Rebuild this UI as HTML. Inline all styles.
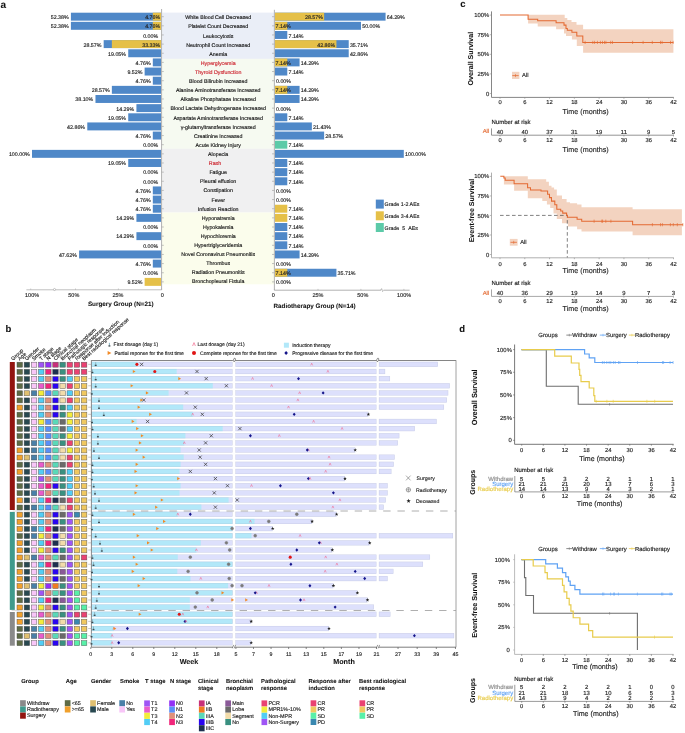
<!DOCTYPE html>
<html><head><meta charset="utf-8"><style>
html,body{margin:0;padding:0;background:#fff;}
svg{display:block;font-family:"Liberation Sans", sans-serif;will-change:transform;text-rendering:geometricPrecision;}
</style></head><body>
<svg width="685" height="733" viewBox="0 0 685 733">
<rect width="685" height="733" fill="#fff"/>
<rect x="162.2" y="12.6" width="112.2" height="46.3" fill="#eaeef7" />
<rect x="162.2" y="58.9" width="112.2" height="89.9" fill="#f6faf1" />
<rect x="162.2" y="148.8" width="112.2" height="63.7" fill="#f0f0f1" />
<rect x="162.2" y="212.5" width="112.2" height="71.8" fill="#fbfdec" />
<line x1="161.6" y1="9" x2="161.6" y2="289.9" stroke="#9a9a9a" stroke-width="0.8" />
<line x1="274.4" y1="9.8" x2="274.4" y2="290.2" stroke="#a0a0a0" stroke-width="0.8" />
<line x1="161.6" y1="16.68" x2="163.8" y2="16.68" stroke="#a8a8a8" stroke-width="0.7" />
<line x1="272" y1="16.68" x2="274.4" y2="16.68" stroke="#a8a8a8" stroke-width="0.7" />
<line x1="161.6" y1="25.82" x2="163.8" y2="25.82" stroke="#a8a8a8" stroke-width="0.7" />
<line x1="272" y1="25.82" x2="274.4" y2="25.82" stroke="#a8a8a8" stroke-width="0.7" />
<line x1="161.6" y1="34.96" x2="163.8" y2="34.96" stroke="#a8a8a8" stroke-width="0.7" />
<line x1="272" y1="34.96" x2="274.4" y2="34.96" stroke="#a8a8a8" stroke-width="0.7" />
<line x1="161.6" y1="44.11" x2="163.8" y2="44.11" stroke="#a8a8a8" stroke-width="0.7" />
<line x1="272" y1="44.11" x2="274.4" y2="44.11" stroke="#a8a8a8" stroke-width="0.7" />
<line x1="161.6" y1="53.26" x2="163.8" y2="53.26" stroke="#a8a8a8" stroke-width="0.7" />
<line x1="272" y1="53.26" x2="274.4" y2="53.26" stroke="#a8a8a8" stroke-width="0.7" />
<line x1="161.6" y1="62.4" x2="163.8" y2="62.4" stroke="#a8a8a8" stroke-width="0.7" />
<line x1="272" y1="62.4" x2="274.4" y2="62.4" stroke="#a8a8a8" stroke-width="0.7" />
<line x1="161.6" y1="71.54" x2="163.8" y2="71.54" stroke="#a8a8a8" stroke-width="0.7" />
<line x1="272" y1="71.54" x2="274.4" y2="71.54" stroke="#a8a8a8" stroke-width="0.7" />
<line x1="161.6" y1="80.69" x2="163.8" y2="80.69" stroke="#a8a8a8" stroke-width="0.7" />
<line x1="272" y1="80.69" x2="274.4" y2="80.69" stroke="#a8a8a8" stroke-width="0.7" />
<line x1="161.6" y1="89.83" x2="163.8" y2="89.83" stroke="#a8a8a8" stroke-width="0.7" />
<line x1="272" y1="89.83" x2="274.4" y2="89.83" stroke="#a8a8a8" stroke-width="0.7" />
<line x1="161.6" y1="98.98" x2="163.8" y2="98.98" stroke="#a8a8a8" stroke-width="0.7" />
<line x1="272" y1="98.98" x2="274.4" y2="98.98" stroke="#a8a8a8" stroke-width="0.7" />
<line x1="161.6" y1="108.12" x2="163.8" y2="108.12" stroke="#a8a8a8" stroke-width="0.7" />
<line x1="272" y1="108.12" x2="274.4" y2="108.12" stroke="#a8a8a8" stroke-width="0.7" />
<line x1="161.6" y1="117.27" x2="163.8" y2="117.27" stroke="#a8a8a8" stroke-width="0.7" />
<line x1="272" y1="117.27" x2="274.4" y2="117.27" stroke="#a8a8a8" stroke-width="0.7" />
<line x1="161.6" y1="126.41" x2="163.8" y2="126.41" stroke="#a8a8a8" stroke-width="0.7" />
<line x1="272" y1="126.41" x2="274.4" y2="126.41" stroke="#a8a8a8" stroke-width="0.7" />
<line x1="161.6" y1="135.56" x2="163.8" y2="135.56" stroke="#a8a8a8" stroke-width="0.7" />
<line x1="272" y1="135.56" x2="274.4" y2="135.56" stroke="#a8a8a8" stroke-width="0.7" />
<line x1="161.6" y1="144.7" x2="163.8" y2="144.7" stroke="#a8a8a8" stroke-width="0.7" />
<line x1="272" y1="144.7" x2="274.4" y2="144.7" stroke="#a8a8a8" stroke-width="0.7" />
<line x1="161.6" y1="153.85" x2="163.8" y2="153.85" stroke="#a8a8a8" stroke-width="0.7" />
<line x1="272" y1="153.85" x2="274.4" y2="153.85" stroke="#a8a8a8" stroke-width="0.7" />
<line x1="161.6" y1="162.99" x2="163.8" y2="162.99" stroke="#a8a8a8" stroke-width="0.7" />
<line x1="272" y1="162.99" x2="274.4" y2="162.99" stroke="#a8a8a8" stroke-width="0.7" />
<line x1="161.6" y1="172.14" x2="163.8" y2="172.14" stroke="#a8a8a8" stroke-width="0.7" />
<line x1="272" y1="172.14" x2="274.4" y2="172.14" stroke="#a8a8a8" stroke-width="0.7" />
<line x1="161.6" y1="181.28" x2="163.8" y2="181.28" stroke="#a8a8a8" stroke-width="0.7" />
<line x1="272" y1="181.28" x2="274.4" y2="181.28" stroke="#a8a8a8" stroke-width="0.7" />
<line x1="161.6" y1="190.43" x2="163.8" y2="190.43" stroke="#a8a8a8" stroke-width="0.7" />
<line x1="272" y1="190.43" x2="274.4" y2="190.43" stroke="#a8a8a8" stroke-width="0.7" />
<line x1="161.6" y1="199.57" x2="163.8" y2="199.57" stroke="#a8a8a8" stroke-width="0.7" />
<line x1="272" y1="199.57" x2="274.4" y2="199.57" stroke="#a8a8a8" stroke-width="0.7" />
<line x1="161.6" y1="208.72" x2="163.8" y2="208.72" stroke="#a8a8a8" stroke-width="0.7" />
<line x1="272" y1="208.72" x2="274.4" y2="208.72" stroke="#a8a8a8" stroke-width="0.7" />
<line x1="161.6" y1="217.86" x2="163.8" y2="217.86" stroke="#a8a8a8" stroke-width="0.7" />
<line x1="272" y1="217.86" x2="274.4" y2="217.86" stroke="#a8a8a8" stroke-width="0.7" />
<line x1="161.6" y1="227.01" x2="163.8" y2="227.01" stroke="#a8a8a8" stroke-width="0.7" />
<line x1="272" y1="227.01" x2="274.4" y2="227.01" stroke="#a8a8a8" stroke-width="0.7" />
<line x1="161.6" y1="236.15" x2="163.8" y2="236.15" stroke="#a8a8a8" stroke-width="0.7" />
<line x1="272" y1="236.15" x2="274.4" y2="236.15" stroke="#a8a8a8" stroke-width="0.7" />
<line x1="161.6" y1="245.3" x2="163.8" y2="245.3" stroke="#a8a8a8" stroke-width="0.7" />
<line x1="272" y1="245.3" x2="274.4" y2="245.3" stroke="#a8a8a8" stroke-width="0.7" />
<line x1="161.6" y1="254.44" x2="163.8" y2="254.44" stroke="#a8a8a8" stroke-width="0.7" />
<line x1="272" y1="254.44" x2="274.4" y2="254.44" stroke="#a8a8a8" stroke-width="0.7" />
<line x1="161.6" y1="263.59" x2="163.8" y2="263.59" stroke="#a8a8a8" stroke-width="0.7" />
<line x1="272" y1="263.59" x2="274.4" y2="263.59" stroke="#a8a8a8" stroke-width="0.7" />
<line x1="161.6" y1="272.74" x2="163.8" y2="272.74" stroke="#a8a8a8" stroke-width="0.7" />
<line x1="272" y1="272.74" x2="274.4" y2="272.74" stroke="#a8a8a8" stroke-width="0.7" />
<line x1="161.6" y1="281.88" x2="163.8" y2="281.88" stroke="#a8a8a8" stroke-width="0.7" />
<line x1="272" y1="281.88" x2="274.4" y2="281.88" stroke="#a8a8a8" stroke-width="0.7" />
<rect x="70.91" y="12.7" width="90.09" height="7.95" fill="#4f88c8" />
<rect x="152.81" y="12.7" width="8.19" height="7.95" fill="#e5c048" />
<text x="68.71" y="19.25" font-size="5.3" text-anchor="end" fill="#222" stroke="#222" stroke-width="0.14" >52.38%</text>
<text x="160.2" y="19.25" font-size="5.3" text-anchor="end" fill="#222" stroke="#222" stroke-width="0.14" >4.76%</text>
<rect x="275" y="12.7" width="110.58" height="7.95" fill="#4f88c8" />
<rect x="275" y="12.7" width="49.14" height="7.95" fill="#e5c048" />
<text x="386.78" y="19.25" font-size="5.3" text-anchor="start" fill="#222" stroke="#222" stroke-width="0.14" >64.29%</text>
<text x="322.94" y="19.25" font-size="5.3" text-anchor="end" fill="#222" stroke="#222" stroke-width="0.14" >28.57%</text>
<text x="218.2" y="19.3" font-size="5.27" text-anchor="middle" fill="#111" stroke="#111" stroke-width="0.14" >White Blood Cell Decreased</text>
<rect x="70.91" y="21.84" width="90.09" height="7.95" fill="#4f88c8" />
<rect x="152.81" y="21.84" width="8.19" height="7.95" fill="#e5c048" />
<text x="68.71" y="28.38" font-size="5.3" text-anchor="end" fill="#222" stroke="#222" stroke-width="0.14" >52.38%</text>
<text x="160.2" y="28.38" font-size="5.3" text-anchor="end" fill="#222" stroke="#222" stroke-width="0.14" >4.76%</text>
<rect x="275" y="21.84" width="86" height="7.95" fill="#4f88c8" />
<rect x="275" y="21.84" width="12.28" height="7.95" fill="#e5c048" />
<text x="362.2" y="28.38" font-size="5.3" text-anchor="start" fill="#222" stroke="#222" stroke-width="0.14" >50.00%</text>
<text x="290.63" y="28.38" font-size="5.3" text-anchor="end" fill="#222" stroke="#222" stroke-width="0.14" >7.14%</text>
<text x="218.2" y="28.41" font-size="5.27" text-anchor="middle" fill="#111" stroke="#111" stroke-width="0.14" >Platelet Count Decreased</text>
<text x="158.2" y="37.51" font-size="5.3" text-anchor="end" fill="#222" stroke="#222" stroke-width="0.14" >0.00%</text>
<rect x="275" y="30.99" width="12.28" height="7.95" fill="#4f88c8" />
<text x="288.48" y="37.51" font-size="5.3" text-anchor="start" fill="#222" stroke="#222" stroke-width="0.14" >7.14%</text>
<text x="218.2" y="37.52" font-size="5.27" text-anchor="middle" fill="#111" stroke="#111" stroke-width="0.14" >Leukocytosis</text>
<rect x="103.67" y="40.13" width="57.33" height="7.95" fill="#4f88c8" />
<rect x="111.86" y="40.13" width="49.14" height="7.95" fill="#e5c048" />
<text x="101.47" y="46.64" font-size="5.3" text-anchor="end" fill="#222" stroke="#222" stroke-width="0.14" >28.57%</text>
<text x="160.2" y="46.64" font-size="5.3" text-anchor="end" fill="#222" stroke="#222" stroke-width="0.14" >33.33%</text>
<rect x="275" y="40.13" width="73.72" height="7.95" fill="#4f88c8" />
<rect x="275" y="40.13" width="61.42" height="7.95" fill="#e5c048" />
<text x="349.92" y="46.64" font-size="5.3" text-anchor="start" fill="#222" stroke="#222" stroke-width="0.14" >35.71%</text>
<text x="335.22" y="46.64" font-size="5.3" text-anchor="end" fill="#222" stroke="#222" stroke-width="0.14" >42.86%</text>
<text x="218.2" y="46.63" font-size="5.27" text-anchor="middle" fill="#111" stroke="#111" stroke-width="0.14" >Neutrophil Count Increased</text>
<rect x="128.23" y="49.28" width="32.77" height="7.95" fill="#4f88c8" />
<text x="126.03" y="55.77" font-size="5.3" text-anchor="end" fill="#222" stroke="#222" stroke-width="0.14" >19.05%</text>
<rect x="275" y="49.28" width="73.72" height="7.95" fill="#4f88c8" />
<text x="349.92" y="55.77" font-size="5.3" text-anchor="start" fill="#222" stroke="#222" stroke-width="0.14" >42.86%</text>
<text x="218.2" y="55.74" font-size="5.27" text-anchor="middle" fill="#111" stroke="#111" stroke-width="0.14" >Anemia</text>
<rect x="152.81" y="58.42" width="8.19" height="7.95" fill="#4f88c8" />
<text x="150.61" y="64.9" font-size="5.3" text-anchor="end" fill="#222" stroke="#222" stroke-width="0.14" >4.76%</text>
<rect x="275" y="58.42" width="24.58" height="7.95" fill="#4f88c8" />
<rect x="275" y="58.42" width="12.28" height="7.95" fill="#e5c048" />
<text x="300.78" y="64.9" font-size="5.3" text-anchor="start" fill="#222" stroke="#222" stroke-width="0.14" >14.29%</text>
<text x="290.63" y="64.9" font-size="5.3" text-anchor="end" fill="#222" stroke="#222" stroke-width="0.14" >7.14%</text>
<text x="218.2" y="64.85" font-size="5.27" text-anchor="middle" fill="#cc1f2a" stroke="#cc1f2a" stroke-width="0.14" >Hyperglycemia</text>
<rect x="144.63" y="67.57" width="16.37" height="7.95" fill="#4f88c8" />
<text x="142.43" y="74.03" font-size="5.3" text-anchor="end" fill="#222" stroke="#222" stroke-width="0.14" >9.52%</text>
<rect x="275" y="67.57" width="12.28" height="7.95" fill="#4f88c8" />
<text x="288.48" y="74.03" font-size="5.3" text-anchor="start" fill="#222" stroke="#222" stroke-width="0.14" >7.14%</text>
<text x="218.2" y="73.96" font-size="5.27" text-anchor="middle" fill="#cc1f2a" stroke="#cc1f2a" stroke-width="0.14" >Thyroid Dysfunction</text>
<rect x="152.81" y="76.72" width="8.19" height="7.95" fill="#4f88c8" />
<text x="150.61" y="83.16" font-size="5.3" text-anchor="end" fill="#222" stroke="#222" stroke-width="0.14" >4.76%</text>
<text x="276" y="83.16" font-size="5.3" text-anchor="start" fill="#222" stroke="#222" stroke-width="0.14" >0.00%</text>
<text x="218.2" y="83.07" font-size="5.27" text-anchor="middle" fill="#111" stroke="#111" stroke-width="0.14" >Blood Bilirubin Increased</text>
<rect x="111.86" y="85.86" width="49.14" height="7.95" fill="#4f88c8" />
<text x="109.66" y="92.29" font-size="5.3" text-anchor="end" fill="#222" stroke="#222" stroke-width="0.14" >28.57%</text>
<rect x="275" y="85.86" width="24.58" height="7.95" fill="#4f88c8" />
<rect x="275" y="85.86" width="12.28" height="7.95" fill="#e5c048" />
<text x="300.78" y="92.29" font-size="5.3" text-anchor="start" fill="#222" stroke="#222" stroke-width="0.14" >14.29%</text>
<text x="290.63" y="92.29" font-size="5.3" text-anchor="end" fill="#222" stroke="#222" stroke-width="0.14" >7.14%</text>
<text x="218.2" y="92.18" font-size="5.27" text-anchor="middle" fill="#111" stroke="#111" stroke-width="0.14" >Alanine Aminotransferase Increased</text>
<rect x="95.47" y="95" width="65.53" height="7.95" fill="#4f88c8" />
<text x="93.27" y="101.42" font-size="5.3" text-anchor="end" fill="#222" stroke="#222" stroke-width="0.14" >38.10%</text>
<rect x="275" y="95" width="24.58" height="7.95" fill="#4f88c8" />
<text x="300.78" y="101.42" font-size="5.3" text-anchor="start" fill="#222" stroke="#222" stroke-width="0.14" >14.29%</text>
<text x="218.2" y="101.29" font-size="5.27" text-anchor="middle" fill="#111" stroke="#111" stroke-width="0.14" >Alkaline Phosphatase Increased</text>
<rect x="136.42" y="104.15" width="24.58" height="7.95" fill="#4f88c8" />
<text x="134.22" y="110.55" font-size="5.3" text-anchor="end" fill="#222" stroke="#222" stroke-width="0.14" >14.29%</text>
<text x="276" y="110.55" font-size="5.3" text-anchor="start" fill="#222" stroke="#222" stroke-width="0.14" >0.00%</text>
<text x="218.2" y="110.4" font-size="5.27" text-anchor="middle" fill="#111" stroke="#111" stroke-width="0.14" >Blood Lactate Dehydrogenase Increased</text>
<rect x="128.23" y="113.3" width="32.77" height="7.95" fill="#4f88c8" />
<text x="126.03" y="119.68" font-size="5.3" text-anchor="end" fill="#222" stroke="#222" stroke-width="0.14" >19.05%</text>
<rect x="275" y="113.3" width="12.28" height="7.95" fill="#4f88c8" />
<text x="288.48" y="119.68" font-size="5.3" text-anchor="start" fill="#222" stroke="#222" stroke-width="0.14" >7.14%</text>
<text x="218.2" y="119.51" font-size="5.27" text-anchor="middle" fill="#111" stroke="#111" stroke-width="0.14" >Aspartate Aminotransferase Increased</text>
<rect x="87.28" y="122.44" width="73.72" height="7.95" fill="#4f88c8" />
<text x="85.08" y="128.81" font-size="5.3" text-anchor="end" fill="#222" stroke="#222" stroke-width="0.14" >42.86%</text>
<rect x="275" y="122.44" width="36.86" height="7.95" fill="#4f88c8" />
<text x="313.06" y="128.81" font-size="5.3" text-anchor="start" fill="#222" stroke="#222" stroke-width="0.14" >21.43%</text>
<text x="218.2" y="128.62" font-size="5.27" text-anchor="middle" fill="#111" stroke="#111" stroke-width="0.14" >γ-glutamyltransferase Increased</text>
<rect x="152.81" y="131.58" width="8.19" height="7.95" fill="#4f88c8" />
<text x="150.61" y="137.94" font-size="5.3" text-anchor="end" fill="#222" stroke="#222" stroke-width="0.14" >4.76%</text>
<rect x="275" y="131.58" width="49.14" height="7.95" fill="#4f88c8" />
<text x="325.34" y="137.94" font-size="5.3" text-anchor="start" fill="#222" stroke="#222" stroke-width="0.14" >28.57%</text>
<text x="218.2" y="137.73" font-size="5.27" text-anchor="middle" fill="#111" stroke="#111" stroke-width="0.14" >Creatinine Increased</text>
<text x="158.2" y="147.07" font-size="5.3" text-anchor="end" fill="#222" stroke="#222" stroke-width="0.14" >0.00%</text>
<rect x="275" y="140.73" width="12.28" height="7.95" fill="#5ccaa8" />
<text x="288.48" y="147.07" font-size="5.3" text-anchor="start" fill="#222" stroke="#222" stroke-width="0.14" >7.14%</text>
<text x="218.2" y="146.84" font-size="5.27" text-anchor="middle" fill="#111" stroke="#111" stroke-width="0.14" >Acute Kidney Injury</text>
<rect x="32" y="149.87" width="129" height="7.95" fill="#4f88c8" />
<text x="29.8" y="156.2" font-size="5.3" text-anchor="end" fill="#222" stroke="#222" stroke-width="0.14" >100.00%</text>
<rect x="275" y="149.87" width="128.8" height="7.95" fill="#4f88c8" />
<text x="405" y="156.2" font-size="5.3" text-anchor="start" fill="#222" stroke="#222" stroke-width="0.14" >100.00%</text>
<text x="218.2" y="155.95" font-size="5.27" text-anchor="middle" fill="#111" stroke="#111" stroke-width="0.14" >Alopecia</text>
<rect x="128.23" y="159.02" width="32.77" height="7.95" fill="#4f88c8" />
<text x="126.03" y="165.33" font-size="5.3" text-anchor="end" fill="#222" stroke="#222" stroke-width="0.14" >19.05%</text>
<rect x="275" y="159.02" width="12.28" height="7.95" fill="#4f88c8" />
<text x="288.48" y="165.33" font-size="5.3" text-anchor="start" fill="#222" stroke="#222" stroke-width="0.14" >7.14%</text>
<text x="215" y="165.06" font-size="5.27" text-anchor="middle" fill="#cc1f2a" stroke="#cc1f2a" stroke-width="0.14" >Rash</text>
<text x="158.2" y="174.46" font-size="5.3" text-anchor="end" fill="#222" stroke="#222" stroke-width="0.14" >0.00%</text>
<rect x="275" y="168.16" width="12.28" height="7.95" fill="#4f88c8" />
<text x="288.48" y="174.46" font-size="5.3" text-anchor="start" fill="#222" stroke="#222" stroke-width="0.14" >7.14%</text>
<text x="218.2" y="174.17" font-size="5.27" text-anchor="middle" fill="#111" stroke="#111" stroke-width="0.14" >Fatigue</text>
<text x="158.2" y="183.59" font-size="5.3" text-anchor="end" fill="#222" stroke="#222" stroke-width="0.14" >0.00%</text>
<rect x="275" y="177.31" width="12.28" height="7.95" fill="#4f88c8" />
<text x="288.48" y="183.59" font-size="5.3" text-anchor="start" fill="#222" stroke="#222" stroke-width="0.14" >7.14%</text>
<text x="218.2" y="183.28" font-size="5.27" text-anchor="middle" fill="#111" stroke="#111" stroke-width="0.14" >Pleural effusion</text>
<rect x="152.81" y="186.45" width="8.19" height="7.95" fill="#4f88c8" />
<text x="150.61" y="192.72" font-size="5.3" text-anchor="end" fill="#222" stroke="#222" stroke-width="0.14" >4.76%</text>
<text x="276" y="192.72" font-size="5.3" text-anchor="start" fill="#222" stroke="#222" stroke-width="0.14" >0.00%</text>
<text x="218.2" y="192.39" font-size="5.27" text-anchor="middle" fill="#111" stroke="#111" stroke-width="0.14" >Constipation</text>
<rect x="152.81" y="195.6" width="8.19" height="7.95" fill="#4f88c8" />
<text x="150.61" y="201.85" font-size="5.3" text-anchor="end" fill="#222" stroke="#222" stroke-width="0.14" >4.76%</text>
<text x="276" y="201.85" font-size="5.3" text-anchor="start" fill="#222" stroke="#222" stroke-width="0.14" >0.00%</text>
<text x="218.2" y="201.5" font-size="5.27" text-anchor="middle" fill="#111" stroke="#111" stroke-width="0.14" >Fever</text>
<rect x="152.81" y="204.74" width="8.19" height="7.95" fill="#4f88c8" />
<text x="150.61" y="210.98" font-size="5.3" text-anchor="end" fill="#222" stroke="#222" stroke-width="0.14" >4.76%</text>
<rect x="275" y="204.74" width="12.28" height="7.95" fill="#e5c048" />
<text x="288.48" y="210.98" font-size="5.3" text-anchor="start" fill="#222" stroke="#222" stroke-width="0.14" >7.14%</text>
<text x="218.2" y="210.61" font-size="5.27" text-anchor="middle" fill="#111" stroke="#111" stroke-width="0.14" >Infusion Reaction</text>
<rect x="136.42" y="213.89" width="24.58" height="7.95" fill="#4f88c8" />
<text x="134.22" y="220.11" font-size="5.3" text-anchor="end" fill="#222" stroke="#222" stroke-width="0.14" >14.29%</text>
<rect x="275" y="213.89" width="12.28" height="7.95" fill="#e5c048" />
<text x="288.48" y="220.11" font-size="5.3" text-anchor="start" fill="#222" stroke="#222" stroke-width="0.14" >7.14%</text>
<text x="218.2" y="219.72" font-size="5.27" text-anchor="middle" fill="#111" stroke="#111" stroke-width="0.14" >Hyponatremia</text>
<text x="158.2" y="229.24" font-size="5.3" text-anchor="end" fill="#222" stroke="#222" stroke-width="0.14" >0.00%</text>
<rect x="275" y="223.03" width="12.28" height="7.95" fill="#4f88c8" />
<text x="288.48" y="229.24" font-size="5.3" text-anchor="start" fill="#222" stroke="#222" stroke-width="0.14" >7.14%</text>
<text x="218.2" y="228.83" font-size="5.27" text-anchor="middle" fill="#111" stroke="#111" stroke-width="0.14" >Hypokalemia</text>
<rect x="136.42" y="232.18" width="24.58" height="7.95" fill="#4f88c8" />
<text x="134.22" y="238.37" font-size="5.3" text-anchor="end" fill="#222" stroke="#222" stroke-width="0.14" >14.29%</text>
<rect x="275" y="232.18" width="12.28" height="7.95" fill="#4f88c8" />
<text x="288.48" y="238.37" font-size="5.3" text-anchor="start" fill="#222" stroke="#222" stroke-width="0.14" >7.14%</text>
<text x="218.2" y="237.94" font-size="5.27" text-anchor="middle" fill="#111" stroke="#111" stroke-width="0.14" >Hypochloremia</text>
<text x="158.2" y="247.5" font-size="5.3" text-anchor="end" fill="#222" stroke="#222" stroke-width="0.14" >0.00%</text>
<rect x="275" y="241.32" width="12.28" height="7.95" fill="#4f88c8" />
<text x="288.48" y="247.5" font-size="5.3" text-anchor="start" fill="#222" stroke="#222" stroke-width="0.14" >7.14%</text>
<text x="218.2" y="247.05" font-size="5.27" text-anchor="middle" fill="#111" stroke="#111" stroke-width="0.14" >Hypertriglyceridemia</text>
<rect x="79.09" y="250.47" width="81.91" height="7.95" fill="#4f88c8" />
<text x="76.89" y="256.63" font-size="5.3" text-anchor="end" fill="#222" stroke="#222" stroke-width="0.14" >47.62%</text>
<rect x="275" y="250.47" width="24.58" height="7.95" fill="#4f88c8" />
<text x="300.78" y="256.63" font-size="5.3" text-anchor="start" fill="#222" stroke="#222" stroke-width="0.14" >14.29%</text>
<text x="218.2" y="256.16" font-size="5.27" text-anchor="middle" fill="#111" stroke="#111" stroke-width="0.14" >Novel Coronavirus Pneumonitis</text>
<rect x="152.81" y="259.62" width="8.19" height="7.95" fill="#4f88c8" />
<text x="150.61" y="265.76" font-size="5.3" text-anchor="end" fill="#222" stroke="#222" stroke-width="0.14" >4.76%</text>
<text x="276" y="265.76" font-size="5.3" text-anchor="start" fill="#222" stroke="#222" stroke-width="0.14" >0.00%</text>
<text x="218.2" y="265.27" font-size="5.27" text-anchor="middle" fill="#111" stroke="#111" stroke-width="0.14" >Thrombus</text>
<text x="158.2" y="274.89" font-size="5.3" text-anchor="end" fill="#222" stroke="#222" stroke-width="0.14" >0.00%</text>
<rect x="275" y="268.76" width="61.42" height="7.95" fill="#4f88c8" />
<rect x="275" y="268.76" width="12.28" height="7.95" fill="#e5c048" />
<text x="337.62" y="274.89" font-size="5.3" text-anchor="start" fill="#222" stroke="#222" stroke-width="0.14" >35.71%</text>
<text x="290.63" y="274.89" font-size="5.3" text-anchor="end" fill="#222" stroke="#222" stroke-width="0.14" >7.14%</text>
<text x="218.2" y="274.38" font-size="5.27" text-anchor="middle" fill="#111" stroke="#111" stroke-width="0.14" >Radiation Pneumonitis</text>
<rect x="144.63" y="277.9" width="16.37" height="7.95" fill="#e5c048" />
<text x="142.43" y="284.02" font-size="5.3" text-anchor="end" fill="#222" stroke="#222" stroke-width="0.14" >9.52%</text>
<text x="276" y="284.02" font-size="5.3" text-anchor="start" fill="#222" stroke="#222" stroke-width="0.14" >0.00%</text>
<text x="218.2" y="283.49" font-size="5.27" text-anchor="middle" fill="#111" stroke="#111" stroke-width="0.14" >Bronchopleural Fistula</text>
<line x1="26.4" y1="289.8" x2="161.6" y2="289.8" stroke="#b8b8b8" stroke-width="0.9" />
<line x1="274.4" y1="290.2" x2="409.6" y2="290.2" stroke="#a8a8a8" stroke-width="0.9" />
<line x1="30.7" y1="288.5" x2="30.7" y2="289.8" stroke="#aaa" stroke-width="0.6" />
<text x="32.1" y="296.8" font-size="5.5" text-anchor="middle" fill="#1e1e1e" stroke="#1e1e1e" stroke-width="0.14" >100%</text>
<line x1="75.5" y1="288.5" x2="75.5" y2="289.8" stroke="#aaa" stroke-width="0.6" />
<text x="73.8" y="296.8" font-size="5.5" text-anchor="middle" fill="#1e1e1e" stroke="#1e1e1e" stroke-width="0.14" >50%</text>
<line x1="118.4" y1="288.5" x2="118.4" y2="289.8" stroke="#aaa" stroke-width="0.6" />
<text x="118" y="296.8" font-size="5.5" text-anchor="middle" fill="#1e1e1e" stroke="#1e1e1e" stroke-width="0.14" >25%</text>
<line x1="161.6" y1="288.5" x2="161.6" y2="289.8" stroke="#aaa" stroke-width="0.6" />
<text x="162.2" y="296.8" font-size="5.5" text-anchor="middle" fill="#1e1e1e" stroke="#1e1e1e" stroke-width="0.14" >0</text>
<line x1="274.4" y1="288.9" x2="274.4" y2="290.2" stroke="#aaa" stroke-width="0.6" />
<text x="273.4" y="297" font-size="5.5" text-anchor="middle" fill="#1e1e1e" stroke="#1e1e1e" stroke-width="0.14" >0</text>
<line x1="318" y1="288.9" x2="318" y2="290.2" stroke="#aaa" stroke-width="0.6" />
<text x="318" y="297" font-size="5.5" text-anchor="middle" fill="#1e1e1e" stroke="#1e1e1e" stroke-width="0.14" >25%</text>
<line x1="360.9" y1="288.9" x2="360.9" y2="290.2" stroke="#aaa" stroke-width="0.6" />
<text x="362.8" y="297" font-size="5.5" text-anchor="middle" fill="#1e1e1e" stroke="#1e1e1e" stroke-width="0.14" >50%</text>
<line x1="403.9" y1="288.9" x2="403.9" y2="290.2" stroke="#aaa" stroke-width="0.6" />
<text x="404.1" y="297" font-size="5.5" text-anchor="middle" fill="#1e1e1e" stroke="#1e1e1e" stroke-width="0.14" >100%</text>
<circle cx="54.5" cy="289.5" r="1.05" fill="#fff" stroke="#999" stroke-width="0.55"/>
<rect x="380.9" y="289.4" width="3" height="1.6" fill="#fff" />
<path d="M380.6 290.2 L381.6 288.6 L382.6 291.6 L383.6 290.2" stroke="#999" stroke-width="0.6" fill="none"/>
<text x="120.7" y="306" font-size="6.3" text-anchor="middle" fill="#111" font-weight="bold" stroke="#111" stroke-width="0.06" >Surgery Group (N=21)</text>
<text x="273.5" y="307.8" font-size="6.3" text-anchor="start" fill="#111" font-weight="bold" stroke="#111" stroke-width="0.06" >Radiotherapy Group (N=14)</text>
<rect x="375.8" y="199.6" width="8" height="9" fill="#4f88c8" />
<text x="384.6" y="206.1" font-size="5.3" text-anchor="start" fill="#222" stroke="#222" stroke-width="0.14" >Grade 1-2 AEs</text>
<rect x="375.8" y="211.3" width="8" height="9" fill="#e5c048" />
<text x="384.6" y="217.8" font-size="5.3" text-anchor="start" fill="#222" stroke="#222" stroke-width="0.14" >Grade 3-4 AEs</text>
<rect x="375.8" y="223" width="8" height="9" fill="#5ccaa8" />
<text x="384.6" y="229.5" font-size="5.3" text-anchor="start" fill="#222" stroke="#222" stroke-width="0.14" >Grade&#160; 5 &#160;AEs</text>
<text x="0.6" y="7.9" font-size="10" text-anchor="start" fill="#111" font-weight="bold" stroke="#111" stroke-width="0.06" >a</text>
<text x="460.2" y="6.9" font-size="9.5" text-anchor="start" fill="#111" font-weight="bold" stroke="#111" stroke-width="0.06" >c</text>
<path d="M528.1 14.8 H564.7 V17.9 H567.3 V20.1 H571.5 V22 H576.5 V24.8 H583.1 V29.3 H673.4 V52.7 H583.1 V46.1 H576.8 V39.5 H571.9 V36 H566 V33.6 H564 V29.3 H556.1 V26.4 H537.7 V23.5 H528.1 Z" fill="#f3d3c0"/>
<line x1="491.5" y1="11.4" x2="491.5" y2="97.4" stroke="#707070" stroke-width="0.85" />
<line x1="491.5" y1="97.4" x2="673.8" y2="97.4" stroke="#707070" stroke-width="0.85" />
<line x1="489.8" y1="93.5" x2="491.3" y2="93.5" stroke="#8a8a8a" stroke-width="0.6" />
<text x="489.3" y="95.59" font-size="5.9" text-anchor="end" fill="#1e1e1e" stroke="#1e1e1e" stroke-width="0.14" >0</text>
<line x1="489.8" y1="73.9" x2="491.3" y2="73.9" stroke="#8a8a8a" stroke-width="0.6" />
<text x="489.3" y="75.99" font-size="5.9" text-anchor="end" fill="#1e1e1e" stroke="#1e1e1e" stroke-width="0.14" >25%</text>
<line x1="489.8" y1="54.3" x2="491.3" y2="54.3" stroke="#8a8a8a" stroke-width="0.6" />
<text x="489.3" y="56.39" font-size="5.9" text-anchor="end" fill="#1e1e1e" stroke="#1e1e1e" stroke-width="0.14" >50%</text>
<line x1="489.8" y1="34.7" x2="491.3" y2="34.7" stroke="#8a8a8a" stroke-width="0.6" />
<text x="489.3" y="36.79" font-size="5.9" text-anchor="end" fill="#1e1e1e" stroke="#1e1e1e" stroke-width="0.14" >75%</text>
<line x1="489.8" y1="15.1" x2="491.3" y2="15.1" stroke="#8a8a8a" stroke-width="0.6" />
<text x="489.3" y="17.19" font-size="5.9" text-anchor="end" fill="#1e1e1e" stroke="#1e1e1e" stroke-width="0.14" >100%</text>
<line x1="500" y1="97.4" x2="500" y2="98.8" stroke="#8a8a8a" stroke-width="0.6" />
<line x1="524.79" y1="97.4" x2="524.79" y2="98.8" stroke="#8a8a8a" stroke-width="0.6" />
<line x1="549.57" y1="97.4" x2="549.57" y2="98.8" stroke="#8a8a8a" stroke-width="0.6" />
<line x1="574.36" y1="97.4" x2="574.36" y2="98.8" stroke="#8a8a8a" stroke-width="0.6" />
<line x1="599.14" y1="97.4" x2="599.14" y2="98.8" stroke="#8a8a8a" stroke-width="0.6" />
<line x1="623.93" y1="97.4" x2="623.93" y2="98.8" stroke="#8a8a8a" stroke-width="0.6" />
<line x1="648.72" y1="97.4" x2="648.72" y2="98.8" stroke="#8a8a8a" stroke-width="0.6" />
<line x1="673.5" y1="97.4" x2="673.5" y2="98.8" stroke="#8a8a8a" stroke-width="0.6" />
<path d="M500 14.9 H528.1 V19.2 H537.7 V20.7 H556.1 V22.7 H564 V25.1 H566 V28.4 H567.3 V30.3 H571.9 V32.3 H576.8 V35.9 H582.8 V42.4 H673.4 V42.4" fill="none" stroke="#e46a32" stroke-width="1.05"/>
<line x1="585.1" y1="40.8" x2="585.1" y2="44" stroke="#e46a32" stroke-width="0.65" />
<line x1="592.8" y1="40.8" x2="592.8" y2="44" stroke="#e46a32" stroke-width="0.65" />
<line x1="594.6" y1="40.8" x2="594.6" y2="44" stroke="#e46a32" stroke-width="0.65" />
<line x1="597.4" y1="40.8" x2="597.4" y2="44" stroke="#e46a32" stroke-width="0.65" />
<line x1="600.4" y1="40.8" x2="600.4" y2="44" stroke="#e46a32" stroke-width="0.65" />
<line x1="602.5" y1="40.8" x2="602.5" y2="44" stroke="#e46a32" stroke-width="0.65" />
<line x1="604.5" y1="40.8" x2="604.5" y2="44" stroke="#e46a32" stroke-width="0.65" />
<line x1="605.9" y1="40.8" x2="605.9" y2="44" stroke="#e46a32" stroke-width="0.65" />
<line x1="610.7" y1="40.8" x2="610.7" y2="44" stroke="#e46a32" stroke-width="0.65" />
<line x1="612.5" y1="40.8" x2="612.5" y2="44" stroke="#e46a32" stroke-width="0.65" />
<line x1="632.6" y1="40.8" x2="632.6" y2="44" stroke="#e46a32" stroke-width="0.65" />
<line x1="643.1" y1="40.8" x2="643.1" y2="44" stroke="#e46a32" stroke-width="0.65" />
<line x1="652.3" y1="40.8" x2="652.3" y2="44" stroke="#e46a32" stroke-width="0.65" />
<line x1="660.5" y1="40.8" x2="660.5" y2="44" stroke="#e46a32" stroke-width="0.65" />
<line x1="662.1" y1="40.8" x2="662.1" y2="44" stroke="#e46a32" stroke-width="0.65" />
<line x1="670.5" y1="40.8" x2="670.5" y2="44" stroke="#e46a32" stroke-width="0.65" />
<line x1="673.1" y1="40.8" x2="673.1" y2="44" stroke="#e46a32" stroke-width="0.65" />
<text x="500" y="104.26" font-size="5.8" text-anchor="middle" fill="#1e1e1e" stroke="#1e1e1e" stroke-width="0.14" >0</text>
<text x="524.79" y="104.26" font-size="5.8" text-anchor="middle" fill="#1e1e1e" stroke="#1e1e1e" stroke-width="0.14" >6</text>
<text x="549.57" y="104.26" font-size="5.8" text-anchor="middle" fill="#1e1e1e" stroke="#1e1e1e" stroke-width="0.14" >12</text>
<text x="574.36" y="104.26" font-size="5.8" text-anchor="middle" fill="#1e1e1e" stroke="#1e1e1e" stroke-width="0.14" >18</text>
<text x="599.14" y="104.26" font-size="5.8" text-anchor="middle" fill="#1e1e1e" stroke="#1e1e1e" stroke-width="0.14" >24</text>
<text x="623.93" y="104.26" font-size="5.8" text-anchor="middle" fill="#1e1e1e" stroke="#1e1e1e" stroke-width="0.14" >30</text>
<text x="648.72" y="104.26" font-size="5.8" text-anchor="middle" fill="#1e1e1e" stroke="#1e1e1e" stroke-width="0.14" >36</text>
<text x="673.5" y="104.26" font-size="5.8" text-anchor="middle" fill="#1e1e1e" stroke="#1e1e1e" stroke-width="0.14" >42</text>
<text x="585.6" y="114.16" font-size="7.2" text-anchor="middle" fill="#222" stroke="#222" stroke-width="0.14" >Time (months)</text>
<text x="470.6" y="61.12" font-size="7.1" text-anchor="middle" fill="#111" font-weight="bold" stroke="#111" stroke-width="0.06" transform="rotate(-90 470.6 58.6)">Overall Survival</text>
<rect x="512" y="71.8" width="7.4" height="7.2" fill="#f3d3c0" />
<line x1="512.3" y1="75.6" x2="518.7" y2="75.6" stroke="#e46a32" stroke-width="0.8" />
<line x1="515.5" y1="74.1" x2="515.5" y2="77.1" stroke="#e46a32" stroke-width="0.6" />
<text x="522" y="76.86" font-size="5.8" text-anchor="start" fill="#222" stroke="#222" stroke-width="0.14" >All</text>
<text x="491.5" y="124.03" font-size="6" text-anchor="start" fill="#111" stroke="#111" stroke-width="0.14" >Number at risk</text>
<text x="489.2" y="133.29" font-size="5.9" text-anchor="end" fill="#e46a32" stroke="#e46a32" stroke-width="0.14" >All</text>
<line x1="491.5" y1="128.4" x2="491.5" y2="135.2" stroke="#707070" stroke-width="0.75" />
<line x1="491.5" y1="135.2" x2="673.8" y2="135.2" stroke="#707070" stroke-width="0.75" />
<text x="500" y="134.19" font-size="5.9" text-anchor="middle" fill="#222" stroke="#222" stroke-width="0.14" >40</text>
<line x1="500" y1="135.2" x2="500" y2="136.5" stroke="#707070" stroke-width="0.6" />
<text x="500" y="142.06" font-size="5.8" text-anchor="middle" fill="#1e1e1e" stroke="#1e1e1e" stroke-width="0.14" >0</text>
<text x="524.79" y="134.19" font-size="5.9" text-anchor="middle" fill="#222" stroke="#222" stroke-width="0.14" >40</text>
<line x1="524.79" y1="135.2" x2="524.79" y2="136.5" stroke="#707070" stroke-width="0.6" />
<text x="524.79" y="142.06" font-size="5.8" text-anchor="middle" fill="#1e1e1e" stroke="#1e1e1e" stroke-width="0.14" >6</text>
<text x="549.57" y="134.19" font-size="5.9" text-anchor="middle" fill="#222" stroke="#222" stroke-width="0.14" >37</text>
<line x1="549.57" y1="135.2" x2="549.57" y2="136.5" stroke="#707070" stroke-width="0.6" />
<text x="549.57" y="142.06" font-size="5.8" text-anchor="middle" fill="#1e1e1e" stroke="#1e1e1e" stroke-width="0.14" >12</text>
<text x="574.36" y="134.19" font-size="5.9" text-anchor="middle" fill="#222" stroke="#222" stroke-width="0.14" >31</text>
<line x1="574.36" y1="135.2" x2="574.36" y2="136.5" stroke="#707070" stroke-width="0.6" />
<text x="574.36" y="142.06" font-size="5.8" text-anchor="middle" fill="#1e1e1e" stroke="#1e1e1e" stroke-width="0.14" >18</text>
<text x="599.14" y="134.19" font-size="5.9" text-anchor="middle" fill="#222" stroke="#222" stroke-width="0.14" >19</text>
<line x1="599.14" y1="135.2" x2="599.14" y2="136.5" stroke="#707070" stroke-width="0.6" />
<text x="623.93" y="134.19" font-size="5.9" text-anchor="middle" fill="#222" stroke="#222" stroke-width="0.14" >11</text>
<line x1="623.93" y1="135.2" x2="623.93" y2="136.5" stroke="#707070" stroke-width="0.6" />
<text x="623.93" y="142.06" font-size="5.8" text-anchor="middle" fill="#1e1e1e" stroke="#1e1e1e" stroke-width="0.14" >30</text>
<text x="648.72" y="134.19" font-size="5.9" text-anchor="middle" fill="#222" stroke="#222" stroke-width="0.14" >9</text>
<line x1="648.72" y1="135.2" x2="648.72" y2="136.5" stroke="#707070" stroke-width="0.6" />
<text x="648.72" y="142.06" font-size="5.8" text-anchor="middle" fill="#1e1e1e" stroke="#1e1e1e" stroke-width="0.14" >36</text>
<text x="673.5" y="134.19" font-size="5.9" text-anchor="middle" fill="#222" stroke="#222" stroke-width="0.14" >5</text>
<line x1="673.5" y1="135.2" x2="673.5" y2="136.5" stroke="#707070" stroke-width="0.6" />
<text x="673.5" y="142.06" font-size="5.8" text-anchor="middle" fill="#1e1e1e" stroke="#1e1e1e" stroke-width="0.14" >42</text>
<text x="585.6" y="152.26" font-size="7.2" text-anchor="middle" fill="#222" stroke="#222" stroke-width="0.14" >Time (months)</text>
<path d="M503.9 176.2 H527.8 V179.2 H546.2 V181.8 H548.9 V185.8 H551.5 V187.6 H554.1 V189.4 H556.8 V195.6 H562 V198.9 H566.6 V202.2 H570 V203.2 H577.1 V204.5 H581.5 V207.3 H632.6 V209.2 H681.9 V235.3 H632.6 V231.6 H581.5 V229.2 H577.1 V226.5 H567.9 V223.2 H562 V218.9 H556.8 V213.4 H553.5 V208.1 H550.2 V204.5 H546.9 V200.9 H542.3 V198.2 H527.8 V190.8 H514.1 V184.5 H503.9 Z" fill="#f3d3c0"/>
<line x1="491.5" y1="172.6" x2="491.5" y2="257.8" stroke="#a0a0a0" stroke-width="0.85" />
<line x1="491.5" y1="257.8" x2="673.8" y2="257.8" stroke="#a0a0a0" stroke-width="0.85" />
<line x1="489.8" y1="254.5" x2="491.3" y2="254.5" stroke="#8a8a8a" stroke-width="0.6" />
<text x="489.3" y="256.59" font-size="5.9" text-anchor="end" fill="#1e1e1e" stroke="#1e1e1e" stroke-width="0.14" >0</text>
<line x1="489.8" y1="234.97" x2="491.3" y2="234.97" stroke="#8a8a8a" stroke-width="0.6" />
<text x="489.3" y="237.07" font-size="5.9" text-anchor="end" fill="#1e1e1e" stroke="#1e1e1e" stroke-width="0.14" >25%</text>
<line x1="489.8" y1="215.45" x2="491.3" y2="215.45" stroke="#8a8a8a" stroke-width="0.6" />
<text x="489.3" y="217.54" font-size="5.9" text-anchor="end" fill="#1e1e1e" stroke="#1e1e1e" stroke-width="0.14" >50%</text>
<line x1="489.8" y1="195.93" x2="491.3" y2="195.93" stroke="#8a8a8a" stroke-width="0.6" />
<text x="489.3" y="198.02" font-size="5.9" text-anchor="end" fill="#1e1e1e" stroke="#1e1e1e" stroke-width="0.14" >75%</text>
<line x1="489.8" y1="176.4" x2="491.3" y2="176.4" stroke="#8a8a8a" stroke-width="0.6" />
<text x="489.3" y="178.49" font-size="5.9" text-anchor="end" fill="#1e1e1e" stroke="#1e1e1e" stroke-width="0.14" >100%</text>
<line x1="500" y1="257.8" x2="500" y2="259.2" stroke="#8a8a8a" stroke-width="0.6" />
<line x1="524.79" y1="257.8" x2="524.79" y2="259.2" stroke="#8a8a8a" stroke-width="0.6" />
<line x1="549.57" y1="257.8" x2="549.57" y2="259.2" stroke="#8a8a8a" stroke-width="0.6" />
<line x1="574.36" y1="257.8" x2="574.36" y2="259.2" stroke="#8a8a8a" stroke-width="0.6" />
<line x1="599.14" y1="257.8" x2="599.14" y2="259.2" stroke="#8a8a8a" stroke-width="0.6" />
<line x1="623.93" y1="257.8" x2="623.93" y2="259.2" stroke="#8a8a8a" stroke-width="0.6" />
<line x1="648.72" y1="257.8" x2="648.72" y2="259.2" stroke="#8a8a8a" stroke-width="0.6" />
<line x1="673.5" y1="257.8" x2="673.5" y2="259.2" stroke="#8a8a8a" stroke-width="0.6" />
<path d="M500.0 215.4 H567.3 V257.5" fill="none" stroke="#555" stroke-width="0.75" stroke-dasharray="3.6 2.4"/>
<path d="M500.3 176.2 H503.9 V177.9 H505.2 V180.2 H514.1 V183.8 H527.6 V187.7 H530.5 V190 H541 V191 H547.6 V194.3 H549.5 V197.6 H551.5 V201.1 H554.8 V204.8 H556.8 V209.2 H560.7 V211 H562.7 V213.1 H566.6 V215.3 H567.5 V217.2 H577.1 V219.3 H581.7 V221.2 H632.6 V224.7 H683 V224.7" fill="none" stroke="#e46a32" stroke-width="1.05"/>
<line x1="594.1" y1="219.6" x2="594.1" y2="222.8" stroke="#e46a32" stroke-width="0.65" />
<line x1="601.8" y1="219.6" x2="601.8" y2="222.8" stroke="#e46a32" stroke-width="0.65" />
<line x1="602.6" y1="219.6" x2="602.6" y2="222.8" stroke="#e46a32" stroke-width="0.65" />
<line x1="605.8" y1="219.6" x2="605.8" y2="222.8" stroke="#e46a32" stroke-width="0.65" />
<line x1="610.9" y1="219.6" x2="610.9" y2="222.8" stroke="#e46a32" stroke-width="0.65" />
<line x1="652.4" y1="223.1" x2="652.4" y2="226.3" stroke="#e46a32" stroke-width="0.65" />
<line x1="660.5" y1="223.1" x2="660.5" y2="226.3" stroke="#e46a32" stroke-width="0.65" />
<line x1="662.4" y1="223.1" x2="662.4" y2="226.3" stroke="#e46a32" stroke-width="0.65" />
<line x1="670.4" y1="223.1" x2="670.4" y2="226.3" stroke="#e46a32" stroke-width="0.65" />
<line x1="673.3" y1="223.1" x2="673.3" y2="226.3" stroke="#e46a32" stroke-width="0.65" />
<line x1="677.3" y1="223.1" x2="677.3" y2="226.3" stroke="#e46a32" stroke-width="0.65" />
<line x1="682.8" y1="223.1" x2="682.8" y2="226.3" stroke="#e46a32" stroke-width="0.65" />
<text x="500" y="265.56" font-size="5.8" text-anchor="middle" fill="#1e1e1e" stroke="#1e1e1e" stroke-width="0.14" >0</text>
<text x="524.79" y="265.56" font-size="5.8" text-anchor="middle" fill="#1e1e1e" stroke="#1e1e1e" stroke-width="0.14" >6</text>
<text x="549.57" y="265.56" font-size="5.8" text-anchor="middle" fill="#1e1e1e" stroke="#1e1e1e" stroke-width="0.14" >12</text>
<text x="574.36" y="265.56" font-size="5.8" text-anchor="middle" fill="#1e1e1e" stroke="#1e1e1e" stroke-width="0.14" >18</text>
<text x="599.14" y="265.56" font-size="5.8" text-anchor="middle" fill="#1e1e1e" stroke="#1e1e1e" stroke-width="0.14" >24</text>
<text x="623.93" y="265.56" font-size="5.8" text-anchor="middle" fill="#1e1e1e" stroke="#1e1e1e" stroke-width="0.14" >30</text>
<text x="648.72" y="265.56" font-size="5.8" text-anchor="middle" fill="#1e1e1e" stroke="#1e1e1e" stroke-width="0.14" >36</text>
<text x="673.5" y="265.56" font-size="5.8" text-anchor="middle" fill="#1e1e1e" stroke="#1e1e1e" stroke-width="0.14" >42</text>
<text x="585.6" y="272.86" font-size="7.2" text-anchor="middle" fill="#222" stroke="#222" stroke-width="0.14" >Time (months)</text>
<text x="471.6" y="213.09" font-size="7" text-anchor="middle" fill="#111" font-weight="bold" stroke="#111" stroke-width="0.06" transform="rotate(-90 471.6 210.6)">Event-free Survival</text>
<rect x="509.8" y="238.9" width="7.8" height="6.8" fill="#f3d3c0" />
<line x1="510.5" y1="242.3" x2="516.9" y2="242.3" stroke="#e46a32" stroke-width="0.8" />
<line x1="513.7" y1="240.8" x2="513.7" y2="243.8" stroke="#e46a32" stroke-width="0.6" />
<text x="520.2" y="243.66" font-size="5.8" text-anchor="start" fill="#222" stroke="#222" stroke-width="0.14" >All</text>
<text x="491.5" y="285.43" font-size="6" text-anchor="start" fill="#111" stroke="#111" stroke-width="0.14" >Number at risk</text>
<text x="489.2" y="294.89" font-size="5.9" text-anchor="end" fill="#e46a32" stroke="#e46a32" stroke-width="0.14" >All</text>
<line x1="491.5" y1="289.4" x2="491.5" y2="296.4" stroke="#8a8a8a" stroke-width="0.75" />
<line x1="491.5" y1="296.4" x2="673.8" y2="296.4" stroke="#8a8a8a" stroke-width="0.75" />
<text x="500" y="295.09" font-size="5.9" text-anchor="middle" fill="#222" stroke="#222" stroke-width="0.14" >40</text>
<line x1="500" y1="296.4" x2="500" y2="297.7" stroke="#8a8a8a" stroke-width="0.6" />
<text x="500" y="303.26" font-size="5.8" text-anchor="middle" fill="#1e1e1e" stroke="#1e1e1e" stroke-width="0.14" >0</text>
<text x="524.79" y="295.09" font-size="5.9" text-anchor="middle" fill="#222" stroke="#222" stroke-width="0.14" >36</text>
<line x1="524.79" y1="296.4" x2="524.79" y2="297.7" stroke="#8a8a8a" stroke-width="0.6" />
<text x="524.79" y="303.26" font-size="5.8" text-anchor="middle" fill="#1e1e1e" stroke="#1e1e1e" stroke-width="0.14" >6</text>
<text x="549.57" y="295.09" font-size="5.9" text-anchor="middle" fill="#222" stroke="#222" stroke-width="0.14" >29</text>
<line x1="549.57" y1="296.4" x2="549.57" y2="297.7" stroke="#8a8a8a" stroke-width="0.6" />
<text x="549.57" y="303.26" font-size="5.8" text-anchor="middle" fill="#1e1e1e" stroke="#1e1e1e" stroke-width="0.14" >12</text>
<text x="574.36" y="295.09" font-size="5.9" text-anchor="middle" fill="#222" stroke="#222" stroke-width="0.14" >19</text>
<line x1="574.36" y1="296.4" x2="574.36" y2="297.7" stroke="#8a8a8a" stroke-width="0.6" />
<text x="574.36" y="303.26" font-size="5.8" text-anchor="middle" fill="#1e1e1e" stroke="#1e1e1e" stroke-width="0.14" >18</text>
<text x="599.14" y="295.09" font-size="5.9" text-anchor="middle" fill="#222" stroke="#222" stroke-width="0.14" >14</text>
<line x1="599.14" y1="296.4" x2="599.14" y2="297.7" stroke="#8a8a8a" stroke-width="0.6" />
<text x="599.14" y="303.26" font-size="5.8" text-anchor="middle" fill="#1e1e1e" stroke="#1e1e1e" stroke-width="0.14" >24</text>
<text x="623.93" y="295.09" font-size="5.9" text-anchor="middle" fill="#222" stroke="#222" stroke-width="0.14" >9</text>
<line x1="623.93" y1="296.4" x2="623.93" y2="297.7" stroke="#8a8a8a" stroke-width="0.6" />
<text x="623.93" y="303.26" font-size="5.8" text-anchor="middle" fill="#1e1e1e" stroke="#1e1e1e" stroke-width="0.14" >30</text>
<text x="648.72" y="295.09" font-size="5.9" text-anchor="middle" fill="#222" stroke="#222" stroke-width="0.14" >7</text>
<line x1="648.72" y1="296.4" x2="648.72" y2="297.7" stroke="#8a8a8a" stroke-width="0.6" />
<text x="648.72" y="303.26" font-size="5.8" text-anchor="middle" fill="#1e1e1e" stroke="#1e1e1e" stroke-width="0.14" >36</text>
<text x="673.5" y="295.09" font-size="5.9" text-anchor="middle" fill="#222" stroke="#222" stroke-width="0.14" >3</text>
<line x1="673.5" y1="296.4" x2="673.5" y2="297.7" stroke="#8a8a8a" stroke-width="0.6" />
<text x="673.5" y="303.26" font-size="5.8" text-anchor="middle" fill="#1e1e1e" stroke="#1e1e1e" stroke-width="0.14" >42</text>
<text x="585.6" y="311.06" font-size="7.2" text-anchor="middle" fill="#222" stroke="#222" stroke-width="0.14" >Time (months)</text>
<text x="459.3" y="331.6" font-size="9.5" text-anchor="start" fill="#111" font-weight="bold" stroke="#111" stroke-width="0.06" >d</text>
<text x="538.3" y="337.19" font-size="5.9" text-anchor="start" fill="#222" stroke="#222" stroke-width="0.14" >Groups</text>
<line x1="566.3" y1="335.1" x2="572.4" y2="335.1" stroke="#6e6e6e" stroke-width="0.8" />
<line x1="569.3" y1="333.8" x2="569.3" y2="336.4" stroke="#6e6e6e" stroke-width="0.5" />
<text x="572.3" y="337.19" font-size="5.9" text-anchor="start" fill="#222" stroke="#222" stroke-width="0.14" >Withdraw</text>
<line x1="599.8" y1="335.1" x2="606.2" y2="335.1" stroke="#5fa2f4" stroke-width="0.8" />
<line x1="603" y1="333.8" x2="603" y2="336.4" stroke="#5fa2f4" stroke-width="0.5" />
<text x="606" y="337.19" font-size="5.9" text-anchor="start" fill="#222" stroke="#222" stroke-width="0.14" >Surgery</text>
<line x1="628.8" y1="335.1" x2="635" y2="335.1" stroke="#e8cc4c" stroke-width="0.8" />
<line x1="631.9" y1="333.8" x2="631.9" y2="336.4" stroke="#e8cc4c" stroke-width="0.5" />
<text x="635" y="337.19" font-size="5.9" text-anchor="start" fill="#222" stroke="#222" stroke-width="0.14" >Radiotherapy</text>
<line x1="514.6" y1="344.5" x2="514.6" y2="444.3" stroke="#555" stroke-width="0.8" />
<line x1="514.6" y1="444.3" x2="673.6" y2="444.3" stroke="#555" stroke-width="0.8" />
<line x1="513.1" y1="440.3" x2="514.6" y2="440.3" stroke="#555" stroke-width="0.6" />
<text x="511.9" y="442.39" font-size="5.9" text-anchor="end" fill="#1e1e1e" stroke="#1e1e1e" stroke-width="0.14" >0</text>
<line x1="513.1" y1="417.62" x2="514.6" y2="417.62" stroke="#555" stroke-width="0.6" />
<text x="511.9" y="419.72" font-size="5.9" text-anchor="end" fill="#1e1e1e" stroke="#1e1e1e" stroke-width="0.14" >25%</text>
<line x1="513.1" y1="394.95" x2="514.6" y2="394.95" stroke="#555" stroke-width="0.6" />
<text x="511.9" y="397.04" font-size="5.9" text-anchor="end" fill="#1e1e1e" stroke="#1e1e1e" stroke-width="0.14" >50%</text>
<line x1="513.1" y1="372.28" x2="514.6" y2="372.28" stroke="#555" stroke-width="0.6" />
<text x="511.9" y="374.37" font-size="5.9" text-anchor="end" fill="#1e1e1e" stroke="#1e1e1e" stroke-width="0.14" >75%</text>
<line x1="513.1" y1="349.6" x2="514.6" y2="349.6" stroke="#555" stroke-width="0.6" />
<text x="511.9" y="351.69" font-size="5.9" text-anchor="end" fill="#1e1e1e" stroke="#1e1e1e" stroke-width="0.14" >100%</text>
<line x1="521.7" y1="444.3" x2="521.7" y2="445.7" stroke="#555" stroke-width="0.6" />
<text x="521.7" y="452.36" font-size="5.8" text-anchor="middle" fill="#1e1e1e" stroke="#1e1e1e" stroke-width="0.14" >0</text>
<line x1="543.31" y1="444.3" x2="543.31" y2="445.7" stroke="#555" stroke-width="0.6" />
<text x="543.31" y="452.36" font-size="5.8" text-anchor="middle" fill="#1e1e1e" stroke="#1e1e1e" stroke-width="0.14" >6</text>
<line x1="564.93" y1="444.3" x2="564.93" y2="445.7" stroke="#555" stroke-width="0.6" />
<text x="564.93" y="452.36" font-size="5.8" text-anchor="middle" fill="#1e1e1e" stroke="#1e1e1e" stroke-width="0.14" >12</text>
<line x1="586.54" y1="444.3" x2="586.54" y2="445.7" stroke="#555" stroke-width="0.6" />
<text x="586.54" y="452.36" font-size="5.8" text-anchor="middle" fill="#1e1e1e" stroke="#1e1e1e" stroke-width="0.14" >18</text>
<line x1="608.16" y1="444.3" x2="608.16" y2="445.7" stroke="#555" stroke-width="0.6" />
<text x="608.16" y="452.36" font-size="5.8" text-anchor="middle" fill="#1e1e1e" stroke="#1e1e1e" stroke-width="0.14" >24</text>
<line x1="629.77" y1="444.3" x2="629.77" y2="445.7" stroke="#555" stroke-width="0.6" />
<text x="629.77" y="452.36" font-size="5.8" text-anchor="middle" fill="#1e1e1e" stroke="#1e1e1e" stroke-width="0.14" >30</text>
<line x1="651.39" y1="444.3" x2="651.39" y2="445.7" stroke="#555" stroke-width="0.6" />
<text x="651.39" y="452.36" font-size="5.8" text-anchor="middle" fill="#1e1e1e" stroke="#1e1e1e" stroke-width="0.14" >36</text>
<line x1="673" y1="444.3" x2="673" y2="445.7" stroke="#555" stroke-width="0.6" />
<text x="673" y="452.36" font-size="5.8" text-anchor="middle" fill="#1e1e1e" stroke="#1e1e1e" stroke-width="0.14" >42</text>
<text x="601.9" y="461.02" font-size="7.1" text-anchor="middle" fill="#222" stroke="#222" stroke-width="0.14" >Time (months)</text>
<text x="474.3" y="399.93" font-size="7.4" text-anchor="middle" fill="#111" font-weight="bold" stroke="#111" stroke-width="0.06" transform="rotate(-90 474.3 397.3)">Overall Survival</text>
<path d="M521.5 349.7 H546.3 V386.2 H578.2 V404.3 H673 V404.3" fill="none" stroke="#6e6e6e" stroke-width="1.1"/>
<line x1="609.6" y1="403" x2="609.6" y2="405.6" stroke="#6e6e6e" stroke-width="0.5" />
<path d="M521.5 349.7 H584.6 V354 H589.2 V357.9 H594.8 V362.5 H673 V362.5" fill="none" stroke="#5fa2f4" stroke-width="1.2"/>
<line x1="602.4" y1="361" x2="602.4" y2="364" stroke="#5fa2f4" stroke-width="0.6" />
<line x1="604.2" y1="361" x2="604.2" y2="364" stroke="#5fa2f4" stroke-width="0.6" />
<line x1="606.8" y1="361" x2="606.8" y2="364" stroke="#5fa2f4" stroke-width="0.6" />
<line x1="609.1" y1="361" x2="609.1" y2="364" stroke="#5fa2f4" stroke-width="0.6" />
<line x1="610.8" y1="361" x2="610.8" y2="364" stroke="#5fa2f4" stroke-width="0.6" />
<line x1="613.4" y1="361" x2="613.4" y2="364" stroke="#5fa2f4" stroke-width="0.6" />
<line x1="615.2" y1="361" x2="615.2" y2="364" stroke="#5fa2f4" stroke-width="0.6" />
<line x1="618.5" y1="361" x2="618.5" y2="364" stroke="#5fa2f4" stroke-width="0.6" />
<line x1="619.9" y1="361" x2="619.9" y2="364" stroke="#5fa2f4" stroke-width="0.6" />
<line x1="637.5" y1="361" x2="637.5" y2="364" stroke="#5fa2f4" stroke-width="0.6" />
<line x1="662.5" y1="361" x2="662.5" y2="364" stroke="#5fa2f4" stroke-width="0.6" />
<line x1="663.6" y1="361" x2="663.6" y2="364" stroke="#5fa2f4" stroke-width="0.6" />
<line x1="670.1" y1="361" x2="670.1" y2="364" stroke="#5fa2f4" stroke-width="0.6" />
<line x1="673.1" y1="361" x2="673.1" y2="364" stroke="#5fa2f4" stroke-width="0.6" />
<path d="M521.5 349.7 H554.7 V356.1 H571.3 V363 H579 V369.4 H579.7 V375.3 H581 V381.6 H589.2 V388 H593.8 V395.7 H594.8 V401.3 H673 V401.3" fill="none" stroke="#e8cc4c" stroke-width="1.2"/>
<line x1="596.2" y1="399.8" x2="596.2" y2="402.8" stroke="#e8cc4c" stroke-width="0.6" />
<line x1="606.9" y1="399.8" x2="606.9" y2="402.8" stroke="#e8cc4c" stroke-width="0.6" />
<line x1="613.2" y1="399.8" x2="613.2" y2="402.8" stroke="#e8cc4c" stroke-width="0.6" />
<line x1="646.9" y1="399.8" x2="646.9" y2="402.8" stroke="#e8cc4c" stroke-width="0.6" />
<line x1="654.7" y1="399.8" x2="654.7" y2="402.8" stroke="#e8cc4c" stroke-width="0.6" />
<text x="514.2" y="472.13" font-size="6" text-anchor="start" fill="#111" stroke="#111" stroke-width="0.14" >Number at risk</text>
<text x="513.2" y="480.63" font-size="6" text-anchor="end" fill="#8a8a8a" stroke="#8a8a8a" stroke-width="0.14" >Withdraw</text>
<text x="521.7" y="480.59" font-size="5.9" text-anchor="middle" fill="#222" stroke="#222" stroke-width="0.14" >5</text>
<text x="543.31" y="480.59" font-size="5.9" text-anchor="middle" fill="#222" stroke="#222" stroke-width="0.14" >5</text>
<text x="564.93" y="480.59" font-size="5.9" text-anchor="middle" fill="#222" stroke="#222" stroke-width="0.14" >3</text>
<text x="586.54" y="480.59" font-size="5.9" text-anchor="middle" fill="#222" stroke="#222" stroke-width="0.14" >2</text>
<text x="608.16" y="480.59" font-size="5.9" text-anchor="middle" fill="#222" stroke="#222" stroke-width="0.14" >2</text>
<text x="629.77" y="480.59" font-size="5.9" text-anchor="middle" fill="#222" stroke="#222" stroke-width="0.14" >1</text>
<text x="651.39" y="480.59" font-size="5.9" text-anchor="middle" fill="#222" stroke="#222" stroke-width="0.14" >1</text>
<text x="673" y="480.59" font-size="5.9" text-anchor="middle" fill="#222" stroke="#222" stroke-width="0.14" >1</text>
<text x="513.2" y="485.88" font-size="6" text-anchor="end" fill="#5fa2f4" stroke="#5fa2f4" stroke-width="0.14" >Surgery</text>
<text x="521.7" y="485.84" font-size="5.9" text-anchor="middle" fill="#222" stroke="#222" stroke-width="0.14" >21</text>
<text x="543.31" y="485.84" font-size="5.9" text-anchor="middle" fill="#222" stroke="#222" stroke-width="0.14" >21</text>
<text x="564.93" y="485.84" font-size="5.9" text-anchor="middle" fill="#222" stroke="#222" stroke-width="0.14" >21</text>
<text x="586.54" y="485.84" font-size="5.9" text-anchor="middle" fill="#222" stroke="#222" stroke-width="0.14" >20</text>
<text x="608.16" y="485.84" font-size="5.9" text-anchor="middle" fill="#222" stroke="#222" stroke-width="0.14" >13</text>
<text x="629.77" y="485.84" font-size="5.9" text-anchor="middle" fill="#222" stroke="#222" stroke-width="0.14" >7</text>
<text x="651.39" y="485.84" font-size="5.9" text-anchor="middle" fill="#222" stroke="#222" stroke-width="0.14" >6</text>
<text x="673" y="485.84" font-size="5.9" text-anchor="middle" fill="#222" stroke="#222" stroke-width="0.14" >3</text>
<text x="513.2" y="491.13" font-size="6" text-anchor="end" fill="#e8cc4c" stroke="#e8cc4c" stroke-width="0.14" >Radiotherapy</text>
<text x="521.7" y="491.09" font-size="5.9" text-anchor="middle" fill="#222" stroke="#222" stroke-width="0.14" >14</text>
<text x="543.31" y="491.09" font-size="5.9" text-anchor="middle" fill="#222" stroke="#222" stroke-width="0.14" >14</text>
<text x="564.93" y="491.09" font-size="5.9" text-anchor="middle" fill="#222" stroke="#222" stroke-width="0.14" >13</text>
<text x="586.54" y="491.09" font-size="5.9" text-anchor="middle" fill="#222" stroke="#222" stroke-width="0.14" >9</text>
<text x="608.16" y="491.09" font-size="5.9" text-anchor="middle" fill="#222" stroke="#222" stroke-width="0.14" >4</text>
<text x="629.77" y="491.09" font-size="5.9" text-anchor="middle" fill="#222" stroke="#222" stroke-width="0.14" >3</text>
<text x="651.39" y="491.09" font-size="5.9" text-anchor="middle" fill="#222" stroke="#222" stroke-width="0.14" >2</text>
<text x="673" y="491.09" font-size="5.9" text-anchor="middle" fill="#222" stroke="#222" stroke-width="0.14" >1</text>
<line x1="514.8" y1="476" x2="514.8" y2="491.9" stroke="#555" stroke-width="0.6" />
<line x1="514.8" y1="491.9" x2="673.6" y2="491.9" stroke="#555" stroke-width="0.6" />
<line x1="521.7" y1="491.9" x2="521.7" y2="493.2" stroke="#555" stroke-width="0.6" />
<text x="521.7" y="498.26" font-size="5.8" text-anchor="middle" fill="#1e1e1e" stroke="#1e1e1e" stroke-width="0.14" >0</text>
<line x1="543.31" y1="491.9" x2="543.31" y2="493.2" stroke="#555" stroke-width="0.6" />
<text x="543.31" y="498.26" font-size="5.8" text-anchor="middle" fill="#1e1e1e" stroke="#1e1e1e" stroke-width="0.14" >6</text>
<line x1="564.93" y1="491.9" x2="564.93" y2="493.2" stroke="#555" stroke-width="0.6" />
<text x="564.93" y="498.26" font-size="5.8" text-anchor="middle" fill="#1e1e1e" stroke="#1e1e1e" stroke-width="0.14" >12</text>
<line x1="586.54" y1="491.9" x2="586.54" y2="493.2" stroke="#555" stroke-width="0.6" />
<text x="586.54" y="498.26" font-size="5.8" text-anchor="middle" fill="#1e1e1e" stroke="#1e1e1e" stroke-width="0.14" >18</text>
<line x1="608.16" y1="491.9" x2="608.16" y2="493.2" stroke="#555" stroke-width="0.6" />
<text x="608.16" y="498.26" font-size="5.8" text-anchor="middle" fill="#1e1e1e" stroke="#1e1e1e" stroke-width="0.14" >24</text>
<line x1="629.77" y1="491.9" x2="629.77" y2="493.2" stroke="#555" stroke-width="0.6" />
<text x="629.77" y="498.26" font-size="5.8" text-anchor="middle" fill="#1e1e1e" stroke="#1e1e1e" stroke-width="0.14" >30</text>
<line x1="651.39" y1="491.9" x2="651.39" y2="493.2" stroke="#555" stroke-width="0.6" />
<text x="651.39" y="498.26" font-size="5.8" text-anchor="middle" fill="#1e1e1e" stroke="#1e1e1e" stroke-width="0.14" >36</text>
<line x1="673" y1="491.9" x2="673" y2="493.2" stroke="#555" stroke-width="0.6" />
<text x="673" y="498.26" font-size="5.8" text-anchor="middle" fill="#1e1e1e" stroke="#1e1e1e" stroke-width="0.14" >42</text>
<text x="599.6" y="506.02" font-size="7.1" text-anchor="middle" fill="#222" stroke="#222" stroke-width="0.14" >Time (months)</text>
<text x="472.8" y="484.69" font-size="7" text-anchor="middle" fill="#111" font-weight="bold" stroke="#111" stroke-width="0.06" transform="rotate(-90 472.8 482.2)">Groups</text>
<text x="538.3" y="550.69" font-size="5.9" text-anchor="start" fill="#222" stroke="#222" stroke-width="0.14" >Groups</text>
<line x1="566.3" y1="548.6" x2="572.4" y2="548.6" stroke="#6e6e6e" stroke-width="0.8" />
<line x1="569.3" y1="547.3" x2="569.3" y2="549.9" stroke="#6e6e6e" stroke-width="0.5" />
<text x="572.3" y="550.69" font-size="5.9" text-anchor="start" fill="#222" stroke="#222" stroke-width="0.14" >Withdraw</text>
<line x1="599.8" y1="548.6" x2="606.2" y2="548.6" stroke="#5fa2f4" stroke-width="0.8" />
<line x1="603" y1="547.3" x2="603" y2="549.9" stroke="#5fa2f4" stroke-width="0.5" />
<text x="606" y="550.69" font-size="5.9" text-anchor="start" fill="#222" stroke="#222" stroke-width="0.14" >Surgery</text>
<line x1="628.8" y1="548.6" x2="635" y2="548.6" stroke="#e8cc4c" stroke-width="0.8" />
<line x1="631.9" y1="547.3" x2="631.9" y2="549.9" stroke="#e8cc4c" stroke-width="0.5" />
<text x="635" y="550.69" font-size="5.9" text-anchor="start" fill="#222" stroke="#222" stroke-width="0.14" >Radiotherapy</text>
<line x1="514.6" y1="554.3" x2="514.6" y2="654.4" stroke="#a8a8a8" stroke-width="0.8" />
<line x1="514.6" y1="654.4" x2="673.6" y2="654.4" stroke="#a8a8a8" stroke-width="0.8" />
<line x1="513.1" y1="650" x2="514.6" y2="650" stroke="#a8a8a8" stroke-width="0.6" />
<text x="509.9" y="652.09" font-size="5.9" text-anchor="end" fill="#1e1e1e" stroke="#1e1e1e" stroke-width="0.14" >0</text>
<line x1="513.1" y1="627.4" x2="514.6" y2="627.4" stroke="#a8a8a8" stroke-width="0.6" />
<text x="509.9" y="629.49" font-size="5.9" text-anchor="end" fill="#1e1e1e" stroke="#1e1e1e" stroke-width="0.14" >25%</text>
<line x1="513.1" y1="604.8" x2="514.6" y2="604.8" stroke="#a8a8a8" stroke-width="0.6" />
<text x="509.9" y="606.89" font-size="5.9" text-anchor="end" fill="#1e1e1e" stroke="#1e1e1e" stroke-width="0.14" >50%</text>
<line x1="513.1" y1="582.2" x2="514.6" y2="582.2" stroke="#a8a8a8" stroke-width="0.6" />
<text x="509.9" y="584.29" font-size="5.9" text-anchor="end" fill="#1e1e1e" stroke="#1e1e1e" stroke-width="0.14" >75%</text>
<line x1="513.1" y1="559.6" x2="514.6" y2="559.6" stroke="#a8a8a8" stroke-width="0.6" />
<text x="509.9" y="561.69" font-size="5.9" text-anchor="end" fill="#1e1e1e" stroke="#1e1e1e" stroke-width="0.14" >100%</text>
<line x1="521.7" y1="654.4" x2="521.7" y2="655.8" stroke="#555" stroke-width="0.6" />
<text x="521.7" y="662.46" font-size="5.8" text-anchor="middle" fill="#1e1e1e" stroke="#1e1e1e" stroke-width="0.14" >0</text>
<line x1="543.31" y1="654.4" x2="543.31" y2="655.8" stroke="#555" stroke-width="0.6" />
<text x="543.31" y="662.46" font-size="5.8" text-anchor="middle" fill="#1e1e1e" stroke="#1e1e1e" stroke-width="0.14" >6</text>
<line x1="564.93" y1="654.4" x2="564.93" y2="655.8" stroke="#555" stroke-width="0.6" />
<text x="564.93" y="662.46" font-size="5.8" text-anchor="middle" fill="#1e1e1e" stroke="#1e1e1e" stroke-width="0.14" >12</text>
<line x1="586.54" y1="654.4" x2="586.54" y2="655.8" stroke="#555" stroke-width="0.6" />
<text x="586.54" y="662.46" font-size="5.8" text-anchor="middle" fill="#1e1e1e" stroke="#1e1e1e" stroke-width="0.14" >18</text>
<line x1="608.16" y1="654.4" x2="608.16" y2="655.8" stroke="#555" stroke-width="0.6" />
<text x="608.16" y="662.46" font-size="5.8" text-anchor="middle" fill="#1e1e1e" stroke="#1e1e1e" stroke-width="0.14" >24</text>
<line x1="629.77" y1="654.4" x2="629.77" y2="655.8" stroke="#555" stroke-width="0.6" />
<text x="629.77" y="662.46" font-size="5.8" text-anchor="middle" fill="#1e1e1e" stroke="#1e1e1e" stroke-width="0.14" >30</text>
<line x1="651.39" y1="654.4" x2="651.39" y2="655.8" stroke="#555" stroke-width="0.6" />
<text x="651.39" y="662.46" font-size="5.8" text-anchor="middle" fill="#1e1e1e" stroke="#1e1e1e" stroke-width="0.14" >36</text>
<line x1="673" y1="654.4" x2="673" y2="655.8" stroke="#555" stroke-width="0.6" />
<text x="673" y="662.46" font-size="5.8" text-anchor="middle" fill="#1e1e1e" stroke="#1e1e1e" stroke-width="0.14" >42</text>
<text x="594.9" y="668.72" font-size="7.1" text-anchor="middle" fill="#222" stroke="#222" stroke-width="0.14" >Time (months)</text>
<text x="474.3" y="607.86" font-size="7.2" text-anchor="middle" fill="#111" font-weight="bold" stroke="#111" stroke-width="0.06" transform="rotate(-90 474.3 605.3)">Event-free Survival</text>
<path d="M521.5 559.6 H524.5 V577.6 H525.8 V595.5 H533.5 V613.3 H637.4 V650" fill="none" stroke="#6e6e6e" stroke-width="1.1"/>
<line x1="609.6" y1="612.1" x2="609.6" y2="614.7" stroke="#6e6e6e" stroke-width="0.5" />
<path d="M521.5 559.6 H545.7 V563.94 H557.4 V568.19 H562.5 V572.53 H565.8 V576.78 H568.5 V581.12 H570.2 V585.45 H574.9 V589.7 H579.9 V594.04 H673 V594.04" fill="none" stroke="#5fa2f4" stroke-width="1.2"/>
<line x1="602.6" y1="592.54" x2="602.6" y2="595.54" stroke="#5fa2f4" stroke-width="0.6" />
<line x1="603.8" y1="592.54" x2="603.8" y2="595.54" stroke="#5fa2f4" stroke-width="0.6" />
<line x1="610.6" y1="592.54" x2="610.6" y2="595.54" stroke="#5fa2f4" stroke-width="0.6" />
<line x1="613.6" y1="592.54" x2="613.6" y2="595.54" stroke="#5fa2f4" stroke-width="0.6" />
<line x1="614.5" y1="592.54" x2="614.5" y2="595.54" stroke="#5fa2f4" stroke-width="0.6" />
<line x1="618.4" y1="592.54" x2="618.4" y2="595.54" stroke="#5fa2f4" stroke-width="0.6" />
<line x1="637.4" y1="592.54" x2="637.4" y2="595.54" stroke="#5fa2f4" stroke-width="0.6" />
<line x1="661.6" y1="592.54" x2="661.6" y2="595.54" stroke="#5fa2f4" stroke-width="0.6" />
<line x1="662.8" y1="592.54" x2="662.8" y2="595.54" stroke="#5fa2f4" stroke-width="0.6" />
<line x1="670" y1="592.54" x2="670" y2="595.54" stroke="#5fa2f4" stroke-width="0.6" />
<line x1="671.3" y1="592.54" x2="671.3" y2="595.54" stroke="#5fa2f4" stroke-width="0.6" />
<path d="M521.5 559.6 H533.2 V566.02 H545 V572.53 H547.3 V578.95 H562.5 V585.45 H564.1 V591.87 H566.8 V598.38 H569.2 V604.8 H570.9 V611.22 H573.2 V617.73 H579.9 V624.15 H588.6 V630.65 H592.7 V637.07 H673 V637.07" fill="none" stroke="#e8cc4c" stroke-width="1.2"/>
<line x1="654.5" y1="635.57" x2="654.5" y2="638.57" stroke="#e8cc4c" stroke-width="0.6" />
<text x="514.2" y="680.93" font-size="6" text-anchor="start" fill="#111" stroke="#111" stroke-width="0.14" >Number at risk</text>
<text x="513.2" y="689.43" font-size="6" text-anchor="end" fill="#8a8a8a" stroke="#8a8a8a" stroke-width="0.14" >Withdraw</text>
<text x="521.7" y="689.39" font-size="5.9" text-anchor="middle" fill="#222" stroke="#222" stroke-width="0.14" >5</text>
<text x="543.31" y="689.39" font-size="5.9" text-anchor="middle" fill="#222" stroke="#222" stroke-width="0.14" >2</text>
<text x="564.93" y="689.39" font-size="5.9" text-anchor="middle" fill="#222" stroke="#222" stroke-width="0.14" >2</text>
<text x="586.54" y="689.39" font-size="5.9" text-anchor="middle" fill="#222" stroke="#222" stroke-width="0.14" >2</text>
<text x="608.16" y="689.39" font-size="5.9" text-anchor="middle" fill="#222" stroke="#222" stroke-width="0.14" >2</text>
<text x="629.77" y="689.39" font-size="5.9" text-anchor="middle" fill="#222" stroke="#222" stroke-width="0.14" >1</text>
<text x="651.39" y="689.39" font-size="5.9" text-anchor="middle" fill="#222" stroke="#222" stroke-width="0.14" >0</text>
<text x="673" y="689.39" font-size="5.9" text-anchor="middle" fill="#222" stroke="#222" stroke-width="0.14" >0</text>
<text x="513.2" y="694.68" font-size="6" text-anchor="end" fill="#5fa2f4" stroke="#5fa2f4" stroke-width="0.14" >Surgery</text>
<text x="521.7" y="694.64" font-size="5.9" text-anchor="middle" fill="#222" stroke="#222" stroke-width="0.14" >21</text>
<text x="543.31" y="694.64" font-size="5.9" text-anchor="middle" fill="#222" stroke="#222" stroke-width="0.14" >21</text>
<text x="564.93" y="694.64" font-size="5.9" text-anchor="middle" fill="#222" stroke="#222" stroke-width="0.14" >18</text>
<text x="586.54" y="694.64" font-size="5.9" text-anchor="middle" fill="#222" stroke="#222" stroke-width="0.14" >13</text>
<text x="608.16" y="694.64" font-size="5.9" text-anchor="middle" fill="#222" stroke="#222" stroke-width="0.14" >10</text>
<text x="629.77" y="694.64" font-size="5.9" text-anchor="middle" fill="#222" stroke="#222" stroke-width="0.14" >6</text>
<text x="651.39" y="694.64" font-size="5.9" text-anchor="middle" fill="#222" stroke="#222" stroke-width="0.14" >5</text>
<text x="673" y="694.64" font-size="5.9" text-anchor="middle" fill="#222" stroke="#222" stroke-width="0.14" >3</text>
<text x="513.2" y="699.93" font-size="6" text-anchor="end" fill="#e8cc4c" stroke="#e8cc4c" stroke-width="0.14" >Radiotherapy</text>
<text x="521.7" y="699.89" font-size="5.9" text-anchor="middle" fill="#222" stroke="#222" stroke-width="0.14" >14</text>
<text x="543.31" y="699.89" font-size="5.9" text-anchor="middle" fill="#222" stroke="#222" stroke-width="0.14" >13</text>
<text x="564.93" y="699.89" font-size="5.9" text-anchor="middle" fill="#222" stroke="#222" stroke-width="0.14" >9</text>
<text x="586.54" y="699.89" font-size="5.9" text-anchor="middle" fill="#222" stroke="#222" stroke-width="0.14" >4</text>
<text x="608.16" y="699.89" font-size="5.9" text-anchor="middle" fill="#222" stroke="#222" stroke-width="0.14" >2</text>
<text x="629.77" y="699.89" font-size="5.9" text-anchor="middle" fill="#222" stroke="#222" stroke-width="0.14" >2</text>
<text x="651.39" y="699.89" font-size="5.9" text-anchor="middle" fill="#222" stroke="#222" stroke-width="0.14" >2</text>
<text x="673" y="699.89" font-size="5.9" text-anchor="middle" fill="#222" stroke="#222" stroke-width="0.14" >1</text>
<line x1="514.8" y1="684.8" x2="514.8" y2="701.4" stroke="#555" stroke-width="0.6" />
<line x1="514.8" y1="701.4" x2="673.6" y2="701.4" stroke="#555" stroke-width="0.6" />
<line x1="521.7" y1="701.4" x2="521.7" y2="702.7" stroke="#555" stroke-width="0.6" />
<text x="521.7" y="707.86" font-size="5.8" text-anchor="middle" fill="#1e1e1e" stroke="#1e1e1e" stroke-width="0.14" >0</text>
<line x1="543.31" y1="701.4" x2="543.31" y2="702.7" stroke="#555" stroke-width="0.6" />
<text x="543.31" y="707.86" font-size="5.8" text-anchor="middle" fill="#1e1e1e" stroke="#1e1e1e" stroke-width="0.14" >6</text>
<line x1="564.93" y1="701.4" x2="564.93" y2="702.7" stroke="#555" stroke-width="0.6" />
<text x="564.93" y="707.86" font-size="5.8" text-anchor="middle" fill="#1e1e1e" stroke="#1e1e1e" stroke-width="0.14" >12</text>
<line x1="586.54" y1="701.4" x2="586.54" y2="702.7" stroke="#555" stroke-width="0.6" />
<text x="586.54" y="707.86" font-size="5.8" text-anchor="middle" fill="#1e1e1e" stroke="#1e1e1e" stroke-width="0.14" >18</text>
<line x1="608.16" y1="701.4" x2="608.16" y2="702.7" stroke="#555" stroke-width="0.6" />
<text x="608.16" y="707.86" font-size="5.8" text-anchor="middle" fill="#1e1e1e" stroke="#1e1e1e" stroke-width="0.14" >24</text>
<line x1="629.77" y1="701.4" x2="629.77" y2="702.7" stroke="#555" stroke-width="0.6" />
<text x="629.77" y="707.86" font-size="5.8" text-anchor="middle" fill="#1e1e1e" stroke="#1e1e1e" stroke-width="0.14" >30</text>
<line x1="651.39" y1="701.4" x2="651.39" y2="702.7" stroke="#555" stroke-width="0.6" />
<text x="651.39" y="707.86" font-size="5.8" text-anchor="middle" fill="#1e1e1e" stroke="#1e1e1e" stroke-width="0.14" >36</text>
<line x1="673" y1="701.4" x2="673" y2="702.7" stroke="#555" stroke-width="0.6" />
<text x="673" y="707.86" font-size="5.8" text-anchor="middle" fill="#1e1e1e" stroke="#1e1e1e" stroke-width="0.14" >42</text>
<text x="595.8" y="715.72" font-size="7.1" text-anchor="middle" fill="#222" stroke="#222" stroke-width="0.14" >Time (months)</text>
<text x="472.8" y="693.09" font-size="7" text-anchor="middle" fill="#111" font-weight="bold" stroke="#111" stroke-width="0.06" transform="rotate(-90 472.8 690.6)">Groups</text>
<text x="5.6" y="331.8" font-size="9.5" text-anchor="start" fill="#111" font-weight="bold" stroke="#111" stroke-width="0.06" >b</text>
<rect x="9.8" y="362" width="5" height="148" fill="#92140f" />
<rect x="9.8" y="511.9" width="5" height="98" fill="#3f9a8c" />
<rect x="9.8" y="612" width="5" height="33.7" fill="#8a8a8a" />
<rect x="17" y="362.2" width="5.5" height="5" fill="#5e6b45" stroke="#4a4a4a" stroke-width="0.5" stroke-opacity="0.85"/>
<rect x="24.15" y="362.2" width="5.5" height="5" fill="#284850" stroke="#4a4a4a" stroke-width="0.5" stroke-opacity="0.85"/>
<rect x="31.3" y="362.2" width="5.5" height="5" fill="#f8c6f8" stroke="#4a4a4a" stroke-width="0.5" stroke-opacity="0.85"/>
<rect x="38.45" y="362.2" width="5.5" height="5" fill="#9f55f5" stroke="#4a4a4a" stroke-width="0.5" stroke-opacity="0.85"/>
<rect x="45.6" y="362.2" width="5.5" height="5" fill="#9230f5" stroke="#4a4a4a" stroke-width="0.5" stroke-opacity="0.85"/>
<rect x="52.75" y="362.2" width="5.5" height="5" fill="#c8307a" stroke="#4a4a4a" stroke-width="0.5" stroke-opacity="0.85"/>
<rect x="59.9" y="362.2" width="5.5" height="5" fill="#3a9080" stroke="#4a4a4a" stroke-width="0.5" stroke-opacity="0.85"/>
<rect x="67.05" y="362.2" width="5.5" height="5" fill="#ea4272" stroke="#4a4a4a" stroke-width="0.5" stroke-opacity="0.85"/>
<rect x="74.2" y="362.2" width="5.5" height="5" fill="#ea4272" stroke="#4a4a4a" stroke-width="0.5" stroke-opacity="0.85"/>
<rect x="81.35" y="362.2" width="5.5" height="5" fill="#ea4272" stroke="#4a4a4a" stroke-width="0.5" stroke-opacity="0.85"/>
<rect x="17" y="369.34" width="5.5" height="5" fill="#5e6b45" stroke="#4a4a4a" stroke-width="0.5" stroke-opacity="0.85"/>
<rect x="24.15" y="369.34" width="5.5" height="5" fill="#284850" stroke="#4a4a4a" stroke-width="0.5" stroke-opacity="0.85"/>
<rect x="31.3" y="369.34" width="5.5" height="5" fill="#f8c6f8" stroke="#4a4a4a" stroke-width="0.5" stroke-opacity="0.85"/>
<rect x="38.45" y="369.34" width="5.5" height="5" fill="#52cdf5" stroke="#4a4a4a" stroke-width="0.5" stroke-opacity="0.85"/>
<rect x="45.6" y="369.34" width="5.5" height="5" fill="#f0267a" stroke="#4a4a4a" stroke-width="0.5" stroke-opacity="0.85"/>
<rect x="52.75" y="369.34" width="5.5" height="5" fill="#1e3050" stroke="#4a4a4a" stroke-width="0.5" stroke-opacity="0.85"/>
<rect x="59.9" y="369.34" width="5.5" height="5" fill="#3a9080" stroke="#4a4a4a" stroke-width="0.5" stroke-opacity="0.85"/>
<rect x="67.05" y="369.34" width="5.5" height="5" fill="#ea4272" stroke="#4a4a4a" stroke-width="0.5" stroke-opacity="0.85"/>
<rect x="74.2" y="369.34" width="5.5" height="5" fill="#ea4272" stroke="#4a4a4a" stroke-width="0.5" stroke-opacity="0.85"/>
<rect x="81.35" y="369.34" width="5.5" height="5" fill="#ea4272" stroke="#4a4a4a" stroke-width="0.5" stroke-opacity="0.85"/>
<rect x="17" y="376.48" width="5.5" height="5" fill="#5e6b45" stroke="#4a4a4a" stroke-width="0.5" stroke-opacity="0.85"/>
<rect x="24.15" y="376.48" width="5.5" height="5" fill="#284850" stroke="#4a4a4a" stroke-width="0.5" stroke-opacity="0.85"/>
<rect x="31.3" y="376.48" width="5.5" height="5" fill="#f8c6f8" stroke="#4a4a4a" stroke-width="0.5" stroke-opacity="0.85"/>
<rect x="38.45" y="376.48" width="5.5" height="5" fill="#52cdf5" stroke="#4a4a4a" stroke-width="0.5" stroke-opacity="0.85"/>
<rect x="45.6" y="376.48" width="5.5" height="5" fill="#e0907a" stroke="#4a4a4a" stroke-width="0.5" stroke-opacity="0.85"/>
<rect x="52.75" y="376.48" width="5.5" height="5" fill="#2a05f0" stroke="#4a4a4a" stroke-width="0.5" stroke-opacity="0.85"/>
<rect x="59.9" y="376.48" width="5.5" height="5" fill="#3a9080" stroke="#4a4a4a" stroke-width="0.5" stroke-opacity="0.85"/>
<rect x="67.05" y="376.48" width="5.5" height="5" fill="#52cdf5" stroke="#4a4a4a" stroke-width="0.5" stroke-opacity="0.85"/>
<rect x="74.2" y="376.48" width="5.5" height="5" fill="#f0c860" stroke="#4a4a4a" stroke-width="0.5" stroke-opacity="0.85"/>
<rect x="81.35" y="376.48" width="5.5" height="5" fill="#f0c860" stroke="#4a4a4a" stroke-width="0.5" stroke-opacity="0.85"/>
<rect x="17" y="383.62" width="5.5" height="5" fill="#5e6b45" stroke="#4a4a4a" stroke-width="0.5" stroke-opacity="0.85"/>
<rect x="24.15" y="383.62" width="5.5" height="5" fill="#284850" stroke="#4a4a4a" stroke-width="0.5" stroke-opacity="0.85"/>
<rect x="31.3" y="383.62" width="5.5" height="5" fill="#f8c6f8" stroke="#4a4a4a" stroke-width="0.5" stroke-opacity="0.85"/>
<rect x="38.45" y="383.62" width="5.5" height="5" fill="#e85ccc" stroke="#4a4a4a" stroke-width="0.5" stroke-opacity="0.85"/>
<rect x="45.6" y="383.62" width="5.5" height="5" fill="#f0267a" stroke="#4a4a4a" stroke-width="0.5" stroke-opacity="0.85"/>
<rect x="52.75" y="383.62" width="5.5" height="5" fill="#2a05f0" stroke="#4a4a4a" stroke-width="0.5" stroke-opacity="0.85"/>
<rect x="59.9" y="383.62" width="5.5" height="5" fill="#f2dcaa" stroke="#4a4a4a" stroke-width="0.5" stroke-opacity="0.85"/>
<rect x="67.05" y="383.62" width="5.5" height="5" fill="#ea4272" stroke="#4a4a4a" stroke-width="0.5" stroke-opacity="0.85"/>
<rect x="74.2" y="383.62" width="5.5" height="5" fill="#f0c860" stroke="#4a4a4a" stroke-width="0.5" stroke-opacity="0.85"/>
<rect x="81.35" y="383.62" width="5.5" height="5" fill="#f0c860" stroke="#4a4a4a" stroke-width="0.5" stroke-opacity="0.85"/>
<rect x="17" y="390.76" width="5.5" height="5" fill="#5e6b45" stroke="#4a4a4a" stroke-width="0.5" stroke-opacity="0.85"/>
<rect x="24.15" y="390.76" width="5.5" height="5" fill="#e0c070" stroke="#4a4a4a" stroke-width="0.5" stroke-opacity="0.85"/>
<rect x="31.3" y="390.76" width="5.5" height="5" fill="#4a80a8" stroke="#4a4a4a" stroke-width="0.5" stroke-opacity="0.85"/>
<rect x="38.45" y="390.76" width="5.5" height="5" fill="#f2ec3c" stroke="#4a4a4a" stroke-width="0.5" stroke-opacity="0.85"/>
<rect x="45.6" y="390.76" width="5.5" height="5" fill="#5a8ff8" stroke="#4a4a4a" stroke-width="0.5" stroke-opacity="0.85"/>
<rect x="52.75" y="390.76" width="5.5" height="5" fill="#5ad8b8" stroke="#4a4a4a" stroke-width="0.5" stroke-opacity="0.85"/>
<rect x="59.9" y="390.76" width="5.5" height="5" fill="#f2dcaa" stroke="#4a4a4a" stroke-width="0.5" stroke-opacity="0.85"/>
<rect x="67.05" y="390.76" width="5.5" height="5" fill="#52cdf5" stroke="#4a4a4a" stroke-width="0.5" stroke-opacity="0.85"/>
<rect x="74.2" y="390.76" width="5.5" height="5" fill="#f0c860" stroke="#4a4a4a" stroke-width="0.5" stroke-opacity="0.85"/>
<rect x="81.35" y="390.76" width="5.5" height="5" fill="#f0c860" stroke="#4a4a4a" stroke-width="0.5" stroke-opacity="0.85"/>
<rect x="17" y="397.9" width="5.5" height="5" fill="#5e6b45" stroke="#4a4a4a" stroke-width="0.5" stroke-opacity="0.85"/>
<rect x="24.15" y="397.9" width="5.5" height="5" fill="#284850" stroke="#4a4a4a" stroke-width="0.5" stroke-opacity="0.85"/>
<rect x="31.3" y="397.9" width="5.5" height="5" fill="#f8c6f8" stroke="#4a4a4a" stroke-width="0.5" stroke-opacity="0.85"/>
<rect x="38.45" y="397.9" width="5.5" height="5" fill="#52cdf5" stroke="#4a4a4a" stroke-width="0.5" stroke-opacity="0.85"/>
<rect x="45.6" y="397.9" width="5.5" height="5" fill="#e0907a" stroke="#4a4a4a" stroke-width="0.5" stroke-opacity="0.85"/>
<rect x="52.75" y="397.9" width="5.5" height="5" fill="#2a05f0" stroke="#4a4a4a" stroke-width="0.5" stroke-opacity="0.85"/>
<rect x="59.9" y="397.9" width="5.5" height="5" fill="#f2dcaa" stroke="#4a4a4a" stroke-width="0.5" stroke-opacity="0.85"/>
<rect x="67.05" y="397.9" width="5.5" height="5" fill="#ea4272" stroke="#4a4a4a" stroke-width="0.5" stroke-opacity="0.85"/>
<rect x="74.2" y="397.9" width="5.5" height="5" fill="#f0c860" stroke="#4a4a4a" stroke-width="0.5" stroke-opacity="0.85"/>
<rect x="81.35" y="397.9" width="5.5" height="5" fill="#f0c860" stroke="#4a4a4a" stroke-width="0.5" stroke-opacity="0.85"/>
<rect x="17" y="405.04" width="5.5" height="5" fill="#f0a02c" stroke="#4a4a4a" stroke-width="0.5" stroke-opacity="0.85"/>
<rect x="24.15" y="405.04" width="5.5" height="5" fill="#284850" stroke="#4a4a4a" stroke-width="0.5" stroke-opacity="0.85"/>
<rect x="31.3" y="405.04" width="5.5" height="5" fill="#f8c6f8" stroke="#4a4a4a" stroke-width="0.5" stroke-opacity="0.85"/>
<rect x="38.45" y="405.04" width="5.5" height="5" fill="#52cdf5" stroke="#4a4a4a" stroke-width="0.5" stroke-opacity="0.85"/>
<rect x="45.6" y="405.04" width="5.5" height="5" fill="#e0907a" stroke="#4a4a4a" stroke-width="0.5" stroke-opacity="0.85"/>
<rect x="52.75" y="405.04" width="5.5" height="5" fill="#2a05f0" stroke="#4a4a4a" stroke-width="0.5" stroke-opacity="0.85"/>
<rect x="59.9" y="405.04" width="5.5" height="5" fill="#3a9080" stroke="#4a4a4a" stroke-width="0.5" stroke-opacity="0.85"/>
<rect x="67.05" y="405.04" width="5.5" height="5" fill="#52cdf5" stroke="#4a4a4a" stroke-width="0.5" stroke-opacity="0.85"/>
<rect x="74.2" y="405.04" width="5.5" height="5" fill="#f0c860" stroke="#4a4a4a" stroke-width="0.5" stroke-opacity="0.85"/>
<rect x="81.35" y="405.04" width="5.5" height="5" fill="#f0c860" stroke="#4a4a4a" stroke-width="0.5" stroke-opacity="0.85"/>
<rect x="17" y="412.18" width="5.5" height="5" fill="#5e6b45" stroke="#4a4a4a" stroke-width="0.5" stroke-opacity="0.85"/>
<rect x="24.15" y="412.18" width="5.5" height="5" fill="#284850" stroke="#4a4a4a" stroke-width="0.5" stroke-opacity="0.85"/>
<rect x="31.3" y="412.18" width="5.5" height="5" fill="#f8c6f8" stroke="#4a4a4a" stroke-width="0.5" stroke-opacity="0.85"/>
<rect x="38.45" y="412.18" width="5.5" height="5" fill="#52cdf5" stroke="#4a4a4a" stroke-width="0.5" stroke-opacity="0.85"/>
<rect x="45.6" y="412.18" width="5.5" height="5" fill="#e0907a" stroke="#4a4a4a" stroke-width="0.5" stroke-opacity="0.85"/>
<rect x="52.75" y="412.18" width="5.5" height="5" fill="#2a05f0" stroke="#4a4a4a" stroke-width="0.5" stroke-opacity="0.85"/>
<rect x="59.9" y="412.18" width="5.5" height="5" fill="#3a9080" stroke="#4a4a4a" stroke-width="0.5" stroke-opacity="0.85"/>
<rect x="67.05" y="412.18" width="5.5" height="5" fill="#f2ec3c" stroke="#4a4a4a" stroke-width="0.5" stroke-opacity="0.85"/>
<rect x="74.2" y="412.18" width="5.5" height="5" fill="#f0c860" stroke="#4a4a4a" stroke-width="0.5" stroke-opacity="0.85"/>
<rect x="81.35" y="412.18" width="5.5" height="5" fill="#f0c860" stroke="#4a4a4a" stroke-width="0.5" stroke-opacity="0.85"/>
<rect x="17" y="419.32" width="5.5" height="5" fill="#5e6b45" stroke="#4a4a4a" stroke-width="0.5" stroke-opacity="0.85"/>
<rect x="24.15" y="419.32" width="5.5" height="5" fill="#284850" stroke="#4a4a4a" stroke-width="0.5" stroke-opacity="0.85"/>
<rect x="31.3" y="419.32" width="5.5" height="5" fill="#f8c6f8" stroke="#4a4a4a" stroke-width="0.5" stroke-opacity="0.85"/>
<rect x="38.45" y="419.32" width="5.5" height="5" fill="#f2ec3c" stroke="#4a4a4a" stroke-width="0.5" stroke-opacity="0.85"/>
<rect x="45.6" y="419.32" width="5.5" height="5" fill="#5a8ff8" stroke="#4a4a4a" stroke-width="0.5" stroke-opacity="0.85"/>
<rect x="52.75" y="419.32" width="5.5" height="5" fill="#5ad8b8" stroke="#4a4a4a" stroke-width="0.5" stroke-opacity="0.85"/>
<rect x="59.9" y="419.32" width="5.5" height="5" fill="#6a6a6a" stroke="#4a4a4a" stroke-width="0.5" stroke-opacity="0.85"/>
<rect x="67.05" y="419.32" width="5.5" height="5" fill="#f2ec3c" stroke="#4a4a4a" stroke-width="0.5" stroke-opacity="0.85"/>
<rect x="74.2" y="419.32" width="5.5" height="5" fill="#f0c860" stroke="#4a4a4a" stroke-width="0.5" stroke-opacity="0.85"/>
<rect x="81.35" y="419.32" width="5.5" height="5" fill="#f0c860" stroke="#4a4a4a" stroke-width="0.5" stroke-opacity="0.85"/>
<rect x="17" y="426.46" width="5.5" height="5" fill="#5e6b45" stroke="#4a4a4a" stroke-width="0.5" stroke-opacity="0.85"/>
<rect x="24.15" y="426.46" width="5.5" height="5" fill="#284850" stroke="#4a4a4a" stroke-width="0.5" stroke-opacity="0.85"/>
<rect x="31.3" y="426.46" width="5.5" height="5" fill="#f8c6f8" stroke="#4a4a4a" stroke-width="0.5" stroke-opacity="0.85"/>
<rect x="38.45" y="426.46" width="5.5" height="5" fill="#52cdf5" stroke="#4a4a4a" stroke-width="0.5" stroke-opacity="0.85"/>
<rect x="45.6" y="426.46" width="5.5" height="5" fill="#5a8ff8" stroke="#4a4a4a" stroke-width="0.5" stroke-opacity="0.85"/>
<rect x="52.75" y="426.46" width="5.5" height="5" fill="#5ad8b8" stroke="#4a4a4a" stroke-width="0.5" stroke-opacity="0.85"/>
<rect x="59.9" y="426.46" width="5.5" height="5" fill="#6a6a6a" stroke="#4a4a4a" stroke-width="0.5" stroke-opacity="0.85"/>
<rect x="67.05" y="426.46" width="5.5" height="5" fill="#52cdf5" stroke="#4a4a4a" stroke-width="0.5" stroke-opacity="0.85"/>
<rect x="74.2" y="426.46" width="5.5" height="5" fill="#f0c860" stroke="#4a4a4a" stroke-width="0.5" stroke-opacity="0.85"/>
<rect x="81.35" y="426.46" width="5.5" height="5" fill="#f0c860" stroke="#4a4a4a" stroke-width="0.5" stroke-opacity="0.85"/>
<rect x="17" y="433.6" width="5.5" height="5" fill="#5e6b45" stroke="#4a4a4a" stroke-width="0.5" stroke-opacity="0.85"/>
<rect x="24.15" y="433.6" width="5.5" height="5" fill="#284850" stroke="#4a4a4a" stroke-width="0.5" stroke-opacity="0.85"/>
<rect x="31.3" y="433.6" width="5.5" height="5" fill="#f8c6f8" stroke="#4a4a4a" stroke-width="0.5" stroke-opacity="0.85"/>
<rect x="38.45" y="433.6" width="5.5" height="5" fill="#52cdf5" stroke="#4a4a4a" stroke-width="0.5" stroke-opacity="0.85"/>
<rect x="45.6" y="433.6" width="5.5" height="5" fill="#5a8ff8" stroke="#4a4a4a" stroke-width="0.5" stroke-opacity="0.85"/>
<rect x="52.75" y="433.6" width="5.5" height="5" fill="#5ad8b8" stroke="#4a4a4a" stroke-width="0.5" stroke-opacity="0.85"/>
<rect x="59.9" y="433.6" width="5.5" height="5" fill="#3a9080" stroke="#4a4a4a" stroke-width="0.5" stroke-opacity="0.85"/>
<rect x="67.05" y="433.6" width="5.5" height="5" fill="#f2ec3c" stroke="#4a4a4a" stroke-width="0.5" stroke-opacity="0.85"/>
<rect x="74.2" y="433.6" width="5.5" height="5" fill="#f0c860" stroke="#4a4a4a" stroke-width="0.5" stroke-opacity="0.85"/>
<rect x="81.35" y="433.6" width="5.5" height="5" fill="#f0c860" stroke="#4a4a4a" stroke-width="0.5" stroke-opacity="0.85"/>
<rect x="17" y="440.74" width="5.5" height="5" fill="#5e6b45" stroke="#4a4a4a" stroke-width="0.5" stroke-opacity="0.85"/>
<rect x="24.15" y="440.74" width="5.5" height="5" fill="#284850" stroke="#4a4a4a" stroke-width="0.5" stroke-opacity="0.85"/>
<rect x="31.3" y="440.74" width="5.5" height="5" fill="#4a80a8" stroke="#4a4a4a" stroke-width="0.5" stroke-opacity="0.85"/>
<rect x="38.45" y="440.74" width="5.5" height="5" fill="#52cdf5" stroke="#4a4a4a" stroke-width="0.5" stroke-opacity="0.85"/>
<rect x="45.6" y="440.74" width="5.5" height="5" fill="#5a8ff8" stroke="#4a4a4a" stroke-width="0.5" stroke-opacity="0.85"/>
<rect x="52.75" y="440.74" width="5.5" height="5" fill="#5ad8b8" stroke="#4a4a4a" stroke-width="0.5" stroke-opacity="0.85"/>
<rect x="59.9" y="440.74" width="5.5" height="5" fill="#3a9080" stroke="#4a4a4a" stroke-width="0.5" stroke-opacity="0.85"/>
<rect x="67.05" y="440.74" width="5.5" height="5" fill="#ea4272" stroke="#4a4a4a" stroke-width="0.5" stroke-opacity="0.85"/>
<rect x="74.2" y="440.74" width="5.5" height="5" fill="#f0c860" stroke="#4a4a4a" stroke-width="0.5" stroke-opacity="0.85"/>
<rect x="81.35" y="440.74" width="5.5" height="5" fill="#f0c860" stroke="#4a4a4a" stroke-width="0.5" stroke-opacity="0.85"/>
<rect x="17" y="447.88" width="5.5" height="5" fill="#f0a02c" stroke="#4a4a4a" stroke-width="0.5" stroke-opacity="0.85"/>
<rect x="24.15" y="447.88" width="5.5" height="5" fill="#284850" stroke="#4a4a4a" stroke-width="0.5" stroke-opacity="0.85"/>
<rect x="31.3" y="447.88" width="5.5" height="5" fill="#4a80a8" stroke="#4a4a4a" stroke-width="0.5" stroke-opacity="0.85"/>
<rect x="38.45" y="447.88" width="5.5" height="5" fill="#52cdf5" stroke="#4a4a4a" stroke-width="0.5" stroke-opacity="0.85"/>
<rect x="45.6" y="447.88" width="5.5" height="5" fill="#5a8ff8" stroke="#4a4a4a" stroke-width="0.5" stroke-opacity="0.85"/>
<rect x="52.75" y="447.88" width="5.5" height="5" fill="#5ad8b8" stroke="#4a4a4a" stroke-width="0.5" stroke-opacity="0.85"/>
<rect x="59.9" y="447.88" width="5.5" height="5" fill="#f2dcaa" stroke="#4a4a4a" stroke-width="0.5" stroke-opacity="0.85"/>
<rect x="67.05" y="447.88" width="5.5" height="5" fill="#f2ec3c" stroke="#4a4a4a" stroke-width="0.5" stroke-opacity="0.85"/>
<rect x="74.2" y="447.88" width="5.5" height="5" fill="#f0c860" stroke="#4a4a4a" stroke-width="0.5" stroke-opacity="0.85"/>
<rect x="81.35" y="447.88" width="5.5" height="5" fill="#f0c860" stroke="#4a4a4a" stroke-width="0.5" stroke-opacity="0.85"/>
<rect x="17" y="455.02" width="5.5" height="5" fill="#f0a02c" stroke="#4a4a4a" stroke-width="0.5" stroke-opacity="0.85"/>
<rect x="24.15" y="455.02" width="5.5" height="5" fill="#e0c070" stroke="#4a4a4a" stroke-width="0.5" stroke-opacity="0.85"/>
<rect x="31.3" y="455.02" width="5.5" height="5" fill="#4a80a8" stroke="#4a4a4a" stroke-width="0.5" stroke-opacity="0.85"/>
<rect x="38.45" y="455.02" width="5.5" height="5" fill="#52cdf5" stroke="#4a4a4a" stroke-width="0.5" stroke-opacity="0.85"/>
<rect x="45.6" y="455.02" width="5.5" height="5" fill="#5a8ff8" stroke="#4a4a4a" stroke-width="0.5" stroke-opacity="0.85"/>
<rect x="52.75" y="455.02" width="5.5" height="5" fill="#5ad8b8" stroke="#4a4a4a" stroke-width="0.5" stroke-opacity="0.85"/>
<rect x="59.9" y="455.02" width="5.5" height="5" fill="#f2dcaa" stroke="#4a4a4a" stroke-width="0.5" stroke-opacity="0.85"/>
<rect x="67.05" y="455.02" width="5.5" height="5" fill="#ea4272" stroke="#4a4a4a" stroke-width="0.5" stroke-opacity="0.85"/>
<rect x="74.2" y="455.02" width="5.5" height="5" fill="#f0c860" stroke="#4a4a4a" stroke-width="0.5" stroke-opacity="0.85"/>
<rect x="81.35" y="455.02" width="5.5" height="5" fill="#f0c860" stroke="#4a4a4a" stroke-width="0.5" stroke-opacity="0.85"/>
<rect x="17" y="462.16" width="5.5" height="5" fill="#5e6b45" stroke="#4a4a4a" stroke-width="0.5" stroke-opacity="0.85"/>
<rect x="24.15" y="462.16" width="5.5" height="5" fill="#284850" stroke="#4a4a4a" stroke-width="0.5" stroke-opacity="0.85"/>
<rect x="31.3" y="462.16" width="5.5" height="5" fill="#f8c6f8" stroke="#4a4a4a" stroke-width="0.5" stroke-opacity="0.85"/>
<rect x="38.45" y="462.16" width="5.5" height="5" fill="#e85ccc" stroke="#4a4a4a" stroke-width="0.5" stroke-opacity="0.85"/>
<rect x="45.6" y="462.16" width="5.5" height="5" fill="#e0907a" stroke="#4a4a4a" stroke-width="0.5" stroke-opacity="0.85"/>
<rect x="52.75" y="462.16" width="5.5" height="5" fill="#5ad8b8" stroke="#4a4a4a" stroke-width="0.5" stroke-opacity="0.85"/>
<rect x="59.9" y="462.16" width="5.5" height="5" fill="#6a6a6a" stroke="#4a4a4a" stroke-width="0.5" stroke-opacity="0.85"/>
<rect x="67.05" y="462.16" width="5.5" height="5" fill="#ea4272" stroke="#4a4a4a" stroke-width="0.5" stroke-opacity="0.85"/>
<rect x="74.2" y="462.16" width="5.5" height="5" fill="#f0c860" stroke="#4a4a4a" stroke-width="0.5" stroke-opacity="0.85"/>
<rect x="81.35" y="462.16" width="5.5" height="5" fill="#f0c860" stroke="#4a4a4a" stroke-width="0.5" stroke-opacity="0.85"/>
<rect x="17" y="469.3" width="5.5" height="5" fill="#f0a02c" stroke="#4a4a4a" stroke-width="0.5" stroke-opacity="0.85"/>
<rect x="24.15" y="469.3" width="5.5" height="5" fill="#284850" stroke="#4a4a4a" stroke-width="0.5" stroke-opacity="0.85"/>
<rect x="31.3" y="469.3" width="5.5" height="5" fill="#f8c6f8" stroke="#4a4a4a" stroke-width="0.5" stroke-opacity="0.85"/>
<rect x="38.45" y="469.3" width="5.5" height="5" fill="#52cdf5" stroke="#4a4a4a" stroke-width="0.5" stroke-opacity="0.85"/>
<rect x="45.6" y="469.3" width="5.5" height="5" fill="#5a8ff8" stroke="#4a4a4a" stroke-width="0.5" stroke-opacity="0.85"/>
<rect x="52.75" y="469.3" width="5.5" height="5" fill="#5ad8b8" stroke="#4a4a4a" stroke-width="0.5" stroke-opacity="0.85"/>
<rect x="59.9" y="469.3" width="5.5" height="5" fill="#3a9080" stroke="#4a4a4a" stroke-width="0.5" stroke-opacity="0.85"/>
<rect x="67.05" y="469.3" width="5.5" height="5" fill="#52cdf5" stroke="#4a4a4a" stroke-width="0.5" stroke-opacity="0.85"/>
<rect x="74.2" y="469.3" width="5.5" height="5" fill="#f0c860" stroke="#4a4a4a" stroke-width="0.5" stroke-opacity="0.85"/>
<rect x="81.35" y="469.3" width="5.5" height="5" fill="#f0c860" stroke="#4a4a4a" stroke-width="0.5" stroke-opacity="0.85"/>
<rect x="17" y="476.44" width="5.5" height="5" fill="#5e6b45" stroke="#4a4a4a" stroke-width="0.5" stroke-opacity="0.85"/>
<rect x="24.15" y="476.44" width="5.5" height="5" fill="#284850" stroke="#4a4a4a" stroke-width="0.5" stroke-opacity="0.85"/>
<rect x="31.3" y="476.44" width="5.5" height="5" fill="#f8c6f8" stroke="#4a4a4a" stroke-width="0.5" stroke-opacity="0.85"/>
<rect x="38.45" y="476.44" width="5.5" height="5" fill="#9f55f5" stroke="#4a4a4a" stroke-width="0.5" stroke-opacity="0.85"/>
<rect x="45.6" y="476.44" width="5.5" height="5" fill="#e0907a" stroke="#4a4a4a" stroke-width="0.5" stroke-opacity="0.85"/>
<rect x="52.75" y="476.44" width="5.5" height="5" fill="#5ad8b8" stroke="#4a4a4a" stroke-width="0.5" stroke-opacity="0.85"/>
<rect x="59.9" y="476.44" width="5.5" height="5" fill="#3a9080" stroke="#4a4a4a" stroke-width="0.5" stroke-opacity="0.85"/>
<rect x="67.05" y="476.44" width="5.5" height="5" fill="#52cdf5" stroke="#4a4a4a" stroke-width="0.5" stroke-opacity="0.85"/>
<rect x="74.2" y="476.44" width="5.5" height="5" fill="#f0c860" stroke="#4a4a4a" stroke-width="0.5" stroke-opacity="0.85"/>
<rect x="81.35" y="476.44" width="5.5" height="5" fill="#f0c860" stroke="#4a4a4a" stroke-width="0.5" stroke-opacity="0.85"/>
<rect x="17" y="483.58" width="5.5" height="5" fill="#5e6b45" stroke="#4a4a4a" stroke-width="0.5" stroke-opacity="0.85"/>
<rect x="24.15" y="483.58" width="5.5" height="5" fill="#284850" stroke="#4a4a4a" stroke-width="0.5" stroke-opacity="0.85"/>
<rect x="31.3" y="483.58" width="5.5" height="5" fill="#f8c6f8" stroke="#4a4a4a" stroke-width="0.5" stroke-opacity="0.85"/>
<rect x="38.45" y="483.58" width="5.5" height="5" fill="#e85ccc" stroke="#4a4a4a" stroke-width="0.5" stroke-opacity="0.85"/>
<rect x="45.6" y="483.58" width="5.5" height="5" fill="#f0267a" stroke="#4a4a4a" stroke-width="0.5" stroke-opacity="0.85"/>
<rect x="52.75" y="483.58" width="5.5" height="5" fill="#2a05f0" stroke="#4a4a4a" stroke-width="0.5" stroke-opacity="0.85"/>
<rect x="59.9" y="483.58" width="5.5" height="5" fill="#3a9080" stroke="#4a4a4a" stroke-width="0.5" stroke-opacity="0.85"/>
<rect x="67.05" y="483.58" width="5.5" height="5" fill="#52cdf5" stroke="#4a4a4a" stroke-width="0.5" stroke-opacity="0.85"/>
<rect x="74.2" y="483.58" width="5.5" height="5" fill="#f0c860" stroke="#4a4a4a" stroke-width="0.5" stroke-opacity="0.85"/>
<rect x="81.35" y="483.58" width="5.5" height="5" fill="#f0c860" stroke="#4a4a4a" stroke-width="0.5" stroke-opacity="0.85"/>
<rect x="17" y="490.72" width="5.5" height="5" fill="#5e6b45" stroke="#4a4a4a" stroke-width="0.5" stroke-opacity="0.85"/>
<rect x="24.15" y="490.72" width="5.5" height="5" fill="#284850" stroke="#4a4a4a" stroke-width="0.5" stroke-opacity="0.85"/>
<rect x="31.3" y="490.72" width="5.5" height="5" fill="#4a80a8" stroke="#4a4a4a" stroke-width="0.5" stroke-opacity="0.85"/>
<rect x="38.45" y="490.72" width="5.5" height="5" fill="#e85ccc" stroke="#4a4a4a" stroke-width="0.5" stroke-opacity="0.85"/>
<rect x="45.6" y="490.72" width="5.5" height="5" fill="#e0907a" stroke="#4a4a4a" stroke-width="0.5" stroke-opacity="0.85"/>
<rect x="52.75" y="490.72" width="5.5" height="5" fill="#5ad8b8" stroke="#4a4a4a" stroke-width="0.5" stroke-opacity="0.85"/>
<rect x="59.9" y="490.72" width="5.5" height="5" fill="#3a9080" stroke="#4a4a4a" stroke-width="0.5" stroke-opacity="0.85"/>
<rect x="67.05" y="490.72" width="5.5" height="5" fill="#52cdf5" stroke="#4a4a4a" stroke-width="0.5" stroke-opacity="0.85"/>
<rect x="74.2" y="490.72" width="5.5" height="5" fill="#f0c860" stroke="#4a4a4a" stroke-width="0.5" stroke-opacity="0.85"/>
<rect x="81.35" y="490.72" width="5.5" height="5" fill="#f0c860" stroke="#4a4a4a" stroke-width="0.5" stroke-opacity="0.85"/>
<rect x="17" y="497.86" width="5.5" height="5" fill="#f0a02c" stroke="#4a4a4a" stroke-width="0.5" stroke-opacity="0.85"/>
<rect x="24.15" y="497.86" width="5.5" height="5" fill="#284850" stroke="#4a4a4a" stroke-width="0.5" stroke-opacity="0.85"/>
<rect x="31.3" y="497.86" width="5.5" height="5" fill="#f8c6f8" stroke="#4a4a4a" stroke-width="0.5" stroke-opacity="0.85"/>
<rect x="38.45" y="497.86" width="5.5" height="5" fill="#52cdf5" stroke="#4a4a4a" stroke-width="0.5" stroke-opacity="0.85"/>
<rect x="45.6" y="497.86" width="5.5" height="5" fill="#f0267a" stroke="#4a4a4a" stroke-width="0.5" stroke-opacity="0.85"/>
<rect x="52.75" y="497.86" width="5.5" height="5" fill="#1e3050" stroke="#4a4a4a" stroke-width="0.5" stroke-opacity="0.85"/>
<rect x="59.9" y="497.86" width="5.5" height="5" fill="#6a6a6a" stroke="#4a4a4a" stroke-width="0.5" stroke-opacity="0.85"/>
<rect x="67.05" y="497.86" width="5.5" height="5" fill="#ea4272" stroke="#4a4a4a" stroke-width="0.5" stroke-opacity="0.85"/>
<rect x="74.2" y="497.86" width="5.5" height="5" fill="#f0c860" stroke="#4a4a4a" stroke-width="0.5" stroke-opacity="0.85"/>
<rect x="81.35" y="497.86" width="5.5" height="5" fill="#f0c860" stroke="#4a4a4a" stroke-width="0.5" stroke-opacity="0.85"/>
<rect x="17" y="505" width="5.5" height="5" fill="#5e6b45" stroke="#4a4a4a" stroke-width="0.5" stroke-opacity="0.85"/>
<rect x="24.15" y="505" width="5.5" height="5" fill="#284850" stroke="#4a4a4a" stroke-width="0.5" stroke-opacity="0.85"/>
<rect x="31.3" y="505" width="5.5" height="5" fill="#4a80a8" stroke="#4a4a4a" stroke-width="0.5" stroke-opacity="0.85"/>
<rect x="38.45" y="505" width="5.5" height="5" fill="#52cdf5" stroke="#4a4a4a" stroke-width="0.5" stroke-opacity="0.85"/>
<rect x="45.6" y="505" width="5.5" height="5" fill="#5a8ff8" stroke="#4a4a4a" stroke-width="0.5" stroke-opacity="0.85"/>
<rect x="52.75" y="505" width="5.5" height="5" fill="#5ad8b8" stroke="#4a4a4a" stroke-width="0.5" stroke-opacity="0.85"/>
<rect x="59.9" y="505" width="5.5" height="5" fill="#f2dcaa" stroke="#4a4a4a" stroke-width="0.5" stroke-opacity="0.85"/>
<rect x="67.05" y="505" width="5.5" height="5" fill="#ea4272" stroke="#4a4a4a" stroke-width="0.5" stroke-opacity="0.85"/>
<rect x="74.2" y="505" width="5.5" height="5" fill="#f0c860" stroke="#4a4a4a" stroke-width="0.5" stroke-opacity="0.85"/>
<rect x="81.35" y="505" width="5.5" height="5" fill="#f0c860" stroke="#4a4a4a" stroke-width="0.5" stroke-opacity="0.85"/>
<rect x="17" y="512.14" width="5.5" height="5" fill="#f0a02c" stroke="#4a4a4a" stroke-width="0.5" stroke-opacity="0.85"/>
<rect x="24.15" y="512.14" width="5.5" height="5" fill="#284850" stroke="#4a4a4a" stroke-width="0.5" stroke-opacity="0.85"/>
<rect x="31.3" y="512.14" width="5.5" height="5" fill="#f8c6f8" stroke="#4a4a4a" stroke-width="0.5" stroke-opacity="0.85"/>
<rect x="38.45" y="512.14" width="5.5" height="5" fill="#52cdf5" stroke="#4a4a4a" stroke-width="0.5" stroke-opacity="0.85"/>
<rect x="45.6" y="512.14" width="5.5" height="5" fill="#e0907a" stroke="#4a4a4a" stroke-width="0.5" stroke-opacity="0.85"/>
<rect x="52.75" y="512.14" width="5.5" height="5" fill="#2a05f0" stroke="#4a4a4a" stroke-width="0.5" stroke-opacity="0.85"/>
<rect x="59.9" y="512.14" width="5.5" height="5" fill="#6a6a6a" stroke="#4a4a4a" stroke-width="0.5" stroke-opacity="0.85"/>
<rect x="67.05" y="512.14" width="5.5" height="5" fill="#9f55f5" stroke="#4a4a4a" stroke-width="0.5" stroke-opacity="0.85"/>
<rect x="74.2" y="512.14" width="5.5" height="5" fill="#3a88b0" stroke="#4a4a4a" stroke-width="0.5" stroke-opacity="0.85"/>
<rect x="81.35" y="512.14" width="5.5" height="5" fill="#f0c860" stroke="#4a4a4a" stroke-width="0.5" stroke-opacity="0.85"/>
<rect x="17" y="519.28" width="5.5" height="5" fill="#f0a02c" stroke="#4a4a4a" stroke-width="0.5" stroke-opacity="0.85"/>
<rect x="24.15" y="519.28" width="5.5" height="5" fill="#284850" stroke="#4a4a4a" stroke-width="0.5" stroke-opacity="0.85"/>
<rect x="31.3" y="519.28" width="5.5" height="5" fill="#f8c6f8" stroke="#4a4a4a" stroke-width="0.5" stroke-opacity="0.85"/>
<rect x="38.45" y="519.28" width="5.5" height="5" fill="#52cdf5" stroke="#4a4a4a" stroke-width="0.5" stroke-opacity="0.85"/>
<rect x="45.6" y="519.28" width="5.5" height="5" fill="#e0907a" stroke="#4a4a4a" stroke-width="0.5" stroke-opacity="0.85"/>
<rect x="52.75" y="519.28" width="5.5" height="5" fill="#2a05f0" stroke="#4a4a4a" stroke-width="0.5" stroke-opacity="0.85"/>
<rect x="59.9" y="519.28" width="5.5" height="5" fill="#3a9080" stroke="#4a4a4a" stroke-width="0.5" stroke-opacity="0.85"/>
<rect x="67.05" y="519.28" width="5.5" height="5" fill="#9f55f5" stroke="#4a4a4a" stroke-width="0.5" stroke-opacity="0.85"/>
<rect x="74.2" y="519.28" width="5.5" height="5" fill="#f0c860" stroke="#4a4a4a" stroke-width="0.5" stroke-opacity="0.85"/>
<rect x="81.35" y="519.28" width="5.5" height="5" fill="#f0c860" stroke="#4a4a4a" stroke-width="0.5" stroke-opacity="0.85"/>
<rect x="17" y="526.42" width="5.5" height="5" fill="#f0a02c" stroke="#4a4a4a" stroke-width="0.5" stroke-opacity="0.85"/>
<rect x="24.15" y="526.42" width="5.5" height="5" fill="#284850" stroke="#4a4a4a" stroke-width="0.5" stroke-opacity="0.85"/>
<rect x="31.3" y="526.42" width="5.5" height="5" fill="#4a80a8" stroke="#4a4a4a" stroke-width="0.5" stroke-opacity="0.85"/>
<rect x="38.45" y="526.42" width="5.5" height="5" fill="#52cdf5" stroke="#4a4a4a" stroke-width="0.5" stroke-opacity="0.85"/>
<rect x="45.6" y="526.42" width="5.5" height="5" fill="#f0267a" stroke="#4a4a4a" stroke-width="0.5" stroke-opacity="0.85"/>
<rect x="52.75" y="526.42" width="5.5" height="5" fill="#1e3050" stroke="#4a4a4a" stroke-width="0.5" stroke-opacity="0.85"/>
<rect x="59.9" y="526.42" width="5.5" height="5" fill="#6a6a6a" stroke="#4a4a4a" stroke-width="0.5" stroke-opacity="0.85"/>
<rect x="67.05" y="526.42" width="5.5" height="5" fill="#9f55f5" stroke="#4a4a4a" stroke-width="0.5" stroke-opacity="0.85"/>
<rect x="74.2" y="526.42" width="5.5" height="5" fill="#f0c860" stroke="#4a4a4a" stroke-width="0.5" stroke-opacity="0.85"/>
<rect x="81.35" y="526.42" width="5.5" height="5" fill="#f0c860" stroke="#4a4a4a" stroke-width="0.5" stroke-opacity="0.85"/>
<rect x="17" y="533.56" width="5.5" height="5" fill="#5e6b45" stroke="#4a4a4a" stroke-width="0.5" stroke-opacity="0.85"/>
<rect x="24.15" y="533.56" width="5.5" height="5" fill="#284850" stroke="#4a4a4a" stroke-width="0.5" stroke-opacity="0.85"/>
<rect x="31.3" y="533.56" width="5.5" height="5" fill="#4a80a8" stroke="#4a4a4a" stroke-width="0.5" stroke-opacity="0.85"/>
<rect x="38.45" y="533.56" width="5.5" height="5" fill="#f2ec3c" stroke="#4a4a4a" stroke-width="0.5" stroke-opacity="0.85"/>
<rect x="45.6" y="533.56" width="5.5" height="5" fill="#e0907a" stroke="#4a4a4a" stroke-width="0.5" stroke-opacity="0.85"/>
<rect x="52.75" y="533.56" width="5.5" height="5" fill="#2a05f0" stroke="#4a4a4a" stroke-width="0.5" stroke-opacity="0.85"/>
<rect x="59.9" y="533.56" width="5.5" height="5" fill="#f2dcaa" stroke="#4a4a4a" stroke-width="0.5" stroke-opacity="0.85"/>
<rect x="67.05" y="533.56" width="5.5" height="5" fill="#9f55f5" stroke="#4a4a4a" stroke-width="0.5" stroke-opacity="0.85"/>
<rect x="74.2" y="533.56" width="5.5" height="5" fill="#f0c860" stroke="#4a4a4a" stroke-width="0.5" stroke-opacity="0.85"/>
<rect x="81.35" y="533.56" width="5.5" height="5" fill="#f0c860" stroke="#4a4a4a" stroke-width="0.5" stroke-opacity="0.85"/>
<rect x="17" y="540.7" width="5.5" height="5" fill="#f0a02c" stroke="#4a4a4a" stroke-width="0.5" stroke-opacity="0.85"/>
<rect x="24.15" y="540.7" width="5.5" height="5" fill="#284850" stroke="#4a4a4a" stroke-width="0.5" stroke-opacity="0.85"/>
<rect x="31.3" y="540.7" width="5.5" height="5" fill="#f8c6f8" stroke="#4a4a4a" stroke-width="0.5" stroke-opacity="0.85"/>
<rect x="38.45" y="540.7" width="5.5" height="5" fill="#52cdf5" stroke="#4a4a4a" stroke-width="0.5" stroke-opacity="0.85"/>
<rect x="45.6" y="540.7" width="5.5" height="5" fill="#f0267a" stroke="#4a4a4a" stroke-width="0.5" stroke-opacity="0.85"/>
<rect x="52.75" y="540.7" width="5.5" height="5" fill="#1e3050" stroke="#4a4a4a" stroke-width="0.5" stroke-opacity="0.85"/>
<rect x="59.9" y="540.7" width="5.5" height="5" fill="#f2dcaa" stroke="#4a4a4a" stroke-width="0.5" stroke-opacity="0.85"/>
<rect x="67.05" y="540.7" width="5.5" height="5" fill="#9f55f5" stroke="#4a4a4a" stroke-width="0.5" stroke-opacity="0.85"/>
<rect x="74.2" y="540.7" width="5.5" height="5" fill="#f0c860" stroke="#4a4a4a" stroke-width="0.5" stroke-opacity="0.85"/>
<rect x="81.35" y="540.7" width="5.5" height="5" fill="#f0c860" stroke="#4a4a4a" stroke-width="0.5" stroke-opacity="0.85"/>
<rect x="17" y="547.84" width="5.5" height="5" fill="#f0a02c" stroke="#4a4a4a" stroke-width="0.5" stroke-opacity="0.85"/>
<rect x="24.15" y="547.84" width="5.5" height="5" fill="#284850" stroke="#4a4a4a" stroke-width="0.5" stroke-opacity="0.85"/>
<rect x="31.3" y="547.84" width="5.5" height="5" fill="#f8c6f8" stroke="#4a4a4a" stroke-width="0.5" stroke-opacity="0.85"/>
<rect x="38.45" y="547.84" width="5.5" height="5" fill="#f2ec3c" stroke="#4a4a4a" stroke-width="0.5" stroke-opacity="0.85"/>
<rect x="45.6" y="547.84" width="5.5" height="5" fill="#e0907a" stroke="#4a4a4a" stroke-width="0.5" stroke-opacity="0.85"/>
<rect x="52.75" y="547.84" width="5.5" height="5" fill="#2a05f0" stroke="#4a4a4a" stroke-width="0.5" stroke-opacity="0.85"/>
<rect x="59.9" y="547.84" width="5.5" height="5" fill="#3a9080" stroke="#4a4a4a" stroke-width="0.5" stroke-opacity="0.85"/>
<rect x="67.05" y="547.84" width="5.5" height="5" fill="#9f55f5" stroke="#4a4a4a" stroke-width="0.5" stroke-opacity="0.85"/>
<rect x="74.2" y="547.84" width="5.5" height="5" fill="#f0c860" stroke="#4a4a4a" stroke-width="0.5" stroke-opacity="0.85"/>
<rect x="81.35" y="547.84" width="5.5" height="5" fill="#f0c860" stroke="#4a4a4a" stroke-width="0.5" stroke-opacity="0.85"/>
<rect x="17" y="554.98" width="5.5" height="5" fill="#f0a02c" stroke="#4a4a4a" stroke-width="0.5" stroke-opacity="0.85"/>
<rect x="24.15" y="554.98" width="5.5" height="5" fill="#e0c070" stroke="#4a4a4a" stroke-width="0.5" stroke-opacity="0.85"/>
<rect x="31.3" y="554.98" width="5.5" height="5" fill="#4a80a8" stroke="#4a4a4a" stroke-width="0.5" stroke-opacity="0.85"/>
<rect x="38.45" y="554.98" width="5.5" height="5" fill="#e85ccc" stroke="#4a4a4a" stroke-width="0.5" stroke-opacity="0.85"/>
<rect x="45.6" y="554.98" width="5.5" height="5" fill="#e0907a" stroke="#4a4a4a" stroke-width="0.5" stroke-opacity="0.85"/>
<rect x="52.75" y="554.98" width="5.5" height="5" fill="#5ad8b8" stroke="#4a4a4a" stroke-width="0.5" stroke-opacity="0.85"/>
<rect x="59.9" y="554.98" width="5.5" height="5" fill="#6a6a6a" stroke="#4a4a4a" stroke-width="0.5" stroke-opacity="0.85"/>
<rect x="67.05" y="554.98" width="5.5" height="5" fill="#9f55f5" stroke="#4a4a4a" stroke-width="0.5" stroke-opacity="0.85"/>
<rect x="74.2" y="554.98" width="5.5" height="5" fill="#f0c860" stroke="#4a4a4a" stroke-width="0.5" stroke-opacity="0.85"/>
<rect x="81.35" y="554.98" width="5.5" height="5" fill="#ea4272" stroke="#4a4a4a" stroke-width="0.5" stroke-opacity="0.85"/>
<rect x="17" y="562.12" width="5.5" height="5" fill="#5e6b45" stroke="#4a4a4a" stroke-width="0.5" stroke-opacity="0.85"/>
<rect x="24.15" y="562.12" width="5.5" height="5" fill="#284850" stroke="#4a4a4a" stroke-width="0.5" stroke-opacity="0.85"/>
<rect x="31.3" y="562.12" width="5.5" height="5" fill="#f8c6f8" stroke="#4a4a4a" stroke-width="0.5" stroke-opacity="0.85"/>
<rect x="38.45" y="562.12" width="5.5" height="5" fill="#52cdf5" stroke="#4a4a4a" stroke-width="0.5" stroke-opacity="0.85"/>
<rect x="45.6" y="562.12" width="5.5" height="5" fill="#f0267a" stroke="#4a4a4a" stroke-width="0.5" stroke-opacity="0.85"/>
<rect x="52.75" y="562.12" width="5.5" height="5" fill="#1e3050" stroke="#4a4a4a" stroke-width="0.5" stroke-opacity="0.85"/>
<rect x="59.9" y="562.12" width="5.5" height="5" fill="#f2dcaa" stroke="#4a4a4a" stroke-width="0.5" stroke-opacity="0.85"/>
<rect x="67.05" y="562.12" width="5.5" height="5" fill="#9f55f5" stroke="#4a4a4a" stroke-width="0.5" stroke-opacity="0.85"/>
<rect x="74.2" y="562.12" width="5.5" height="5" fill="#f0c860" stroke="#4a4a4a" stroke-width="0.5" stroke-opacity="0.85"/>
<rect x="81.35" y="562.12" width="5.5" height="5" fill="#f0c860" stroke="#4a4a4a" stroke-width="0.5" stroke-opacity="0.85"/>
<rect x="17" y="569.26" width="5.5" height="5" fill="#f0a02c" stroke="#4a4a4a" stroke-width="0.5" stroke-opacity="0.85"/>
<rect x="24.15" y="569.26" width="5.5" height="5" fill="#284850" stroke="#4a4a4a" stroke-width="0.5" stroke-opacity="0.85"/>
<rect x="31.3" y="569.26" width="5.5" height="5" fill="#f8c6f8" stroke="#4a4a4a" stroke-width="0.5" stroke-opacity="0.85"/>
<rect x="38.45" y="569.26" width="5.5" height="5" fill="#52cdf5" stroke="#4a4a4a" stroke-width="0.5" stroke-opacity="0.85"/>
<rect x="45.6" y="569.26" width="5.5" height="5" fill="#e0907a" stroke="#4a4a4a" stroke-width="0.5" stroke-opacity="0.85"/>
<rect x="52.75" y="569.26" width="5.5" height="5" fill="#2a05f0" stroke="#4a4a4a" stroke-width="0.5" stroke-opacity="0.85"/>
<rect x="59.9" y="569.26" width="5.5" height="5" fill="#8a5a98" stroke="#4a4a4a" stroke-width="0.5" stroke-opacity="0.85"/>
<rect x="67.05" y="569.26" width="5.5" height="5" fill="#9f55f5" stroke="#4a4a4a" stroke-width="0.5" stroke-opacity="0.85"/>
<rect x="74.2" y="569.26" width="5.5" height="5" fill="#f0c860" stroke="#4a4a4a" stroke-width="0.5" stroke-opacity="0.85"/>
<rect x="81.35" y="569.26" width="5.5" height="5" fill="#f0c860" stroke="#4a4a4a" stroke-width="0.5" stroke-opacity="0.85"/>
<rect x="17" y="576.4" width="5.5" height="5" fill="#f0a02c" stroke="#4a4a4a" stroke-width="0.5" stroke-opacity="0.85"/>
<rect x="24.15" y="576.4" width="5.5" height="5" fill="#284850" stroke="#4a4a4a" stroke-width="0.5" stroke-opacity="0.85"/>
<rect x="31.3" y="576.4" width="5.5" height="5" fill="#f8c6f8" stroke="#4a4a4a" stroke-width="0.5" stroke-opacity="0.85"/>
<rect x="38.45" y="576.4" width="5.5" height="5" fill="#52cdf5" stroke="#4a4a4a" stroke-width="0.5" stroke-opacity="0.85"/>
<rect x="45.6" y="576.4" width="5.5" height="5" fill="#e0907a" stroke="#4a4a4a" stroke-width="0.5" stroke-opacity="0.85"/>
<rect x="52.75" y="576.4" width="5.5" height="5" fill="#2a05f0" stroke="#4a4a4a" stroke-width="0.5" stroke-opacity="0.85"/>
<rect x="59.9" y="576.4" width="5.5" height="5" fill="#6a6a6a" stroke="#4a4a4a" stroke-width="0.5" stroke-opacity="0.85"/>
<rect x="67.05" y="576.4" width="5.5" height="5" fill="#9f55f5" stroke="#4a4a4a" stroke-width="0.5" stroke-opacity="0.85"/>
<rect x="74.2" y="576.4" width="5.5" height="5" fill="#f0c860" stroke="#4a4a4a" stroke-width="0.5" stroke-opacity="0.85"/>
<rect x="81.35" y="576.4" width="5.5" height="5" fill="#f0c860" stroke="#4a4a4a" stroke-width="0.5" stroke-opacity="0.85"/>
<rect x="17" y="583.54" width="5.5" height="5" fill="#f0a02c" stroke="#4a4a4a" stroke-width="0.5" stroke-opacity="0.85"/>
<rect x="24.15" y="583.54" width="5.5" height="5" fill="#e0c070" stroke="#4a4a4a" stroke-width="0.5" stroke-opacity="0.85"/>
<rect x="31.3" y="583.54" width="5.5" height="5" fill="#4a80a8" stroke="#4a4a4a" stroke-width="0.5" stroke-opacity="0.85"/>
<rect x="38.45" y="583.54" width="5.5" height="5" fill="#f2ec3c" stroke="#4a4a4a" stroke-width="0.5" stroke-opacity="0.85"/>
<rect x="45.6" y="583.54" width="5.5" height="5" fill="#9230f5" stroke="#4a4a4a" stroke-width="0.5" stroke-opacity="0.85"/>
<rect x="52.75" y="583.54" width="5.5" height="5" fill="#f07a22" stroke="#4a4a4a" stroke-width="0.5" stroke-opacity="0.85"/>
<rect x="59.9" y="583.54" width="5.5" height="5" fill="#3a9080" stroke="#4a4a4a" stroke-width="0.5" stroke-opacity="0.85"/>
<rect x="67.05" y="583.54" width="5.5" height="5" fill="#9f55f5" stroke="#4a4a4a" stroke-width="0.5" stroke-opacity="0.85"/>
<rect x="74.2" y="583.54" width="5.5" height="5" fill="#f0c860" stroke="#4a4a4a" stroke-width="0.5" stroke-opacity="0.85"/>
<rect x="81.35" y="583.54" width="5.5" height="5" fill="#f0c860" stroke="#4a4a4a" stroke-width="0.5" stroke-opacity="0.85"/>
<rect x="17" y="590.68" width="5.5" height="5" fill="#5e6b45" stroke="#4a4a4a" stroke-width="0.5" stroke-opacity="0.85"/>
<rect x="24.15" y="590.68" width="5.5" height="5" fill="#284850" stroke="#4a4a4a" stroke-width="0.5" stroke-opacity="0.85"/>
<rect x="31.3" y="590.68" width="5.5" height="5" fill="#f8c6f8" stroke="#4a4a4a" stroke-width="0.5" stroke-opacity="0.85"/>
<rect x="38.45" y="590.68" width="5.5" height="5" fill="#9f55f5" stroke="#4a4a4a" stroke-width="0.5" stroke-opacity="0.85"/>
<rect x="45.6" y="590.68" width="5.5" height="5" fill="#e0907a" stroke="#4a4a4a" stroke-width="0.5" stroke-opacity="0.85"/>
<rect x="52.75" y="590.68" width="5.5" height="5" fill="#5ad8b8" stroke="#4a4a4a" stroke-width="0.5" stroke-opacity="0.85"/>
<rect x="59.9" y="590.68" width="5.5" height="5" fill="#3a9080" stroke="#4a4a4a" stroke-width="0.5" stroke-opacity="0.85"/>
<rect x="67.05" y="590.68" width="5.5" height="5" fill="#9f55f5" stroke="#4a4a4a" stroke-width="0.5" stroke-opacity="0.85"/>
<rect x="74.2" y="590.68" width="5.5" height="5" fill="#58f0a8" stroke="#4a4a4a" stroke-width="0.5" stroke-opacity="0.85"/>
<rect x="81.35" y="590.68" width="5.5" height="5" fill="#f0c860" stroke="#4a4a4a" stroke-width="0.5" stroke-opacity="0.85"/>
<rect x="17" y="597.82" width="5.5" height="5" fill="#5e6b45" stroke="#4a4a4a" stroke-width="0.5" stroke-opacity="0.85"/>
<rect x="24.15" y="597.82" width="5.5" height="5" fill="#284850" stroke="#4a4a4a" stroke-width="0.5" stroke-opacity="0.85"/>
<rect x="31.3" y="597.82" width="5.5" height="5" fill="#f8c6f8" stroke="#4a4a4a" stroke-width="0.5" stroke-opacity="0.85"/>
<rect x="38.45" y="597.82" width="5.5" height="5" fill="#52cdf5" stroke="#4a4a4a" stroke-width="0.5" stroke-opacity="0.85"/>
<rect x="45.6" y="597.82" width="5.5" height="5" fill="#f0267a" stroke="#4a4a4a" stroke-width="0.5" stroke-opacity="0.85"/>
<rect x="52.75" y="597.82" width="5.5" height="5" fill="#1e3050" stroke="#4a4a4a" stroke-width="0.5" stroke-opacity="0.85"/>
<rect x="59.9" y="597.82" width="5.5" height="5" fill="#8a5a98" stroke="#4a4a4a" stroke-width="0.5" stroke-opacity="0.85"/>
<rect x="67.05" y="597.82" width="5.5" height="5" fill="#9f55f5" stroke="#4a4a4a" stroke-width="0.5" stroke-opacity="0.85"/>
<rect x="74.2" y="597.82" width="5.5" height="5" fill="#58f0a8" stroke="#4a4a4a" stroke-width="0.5" stroke-opacity="0.85"/>
<rect x="81.35" y="597.82" width="5.5" height="5" fill="#f0c860" stroke="#4a4a4a" stroke-width="0.5" stroke-opacity="0.85"/>
<rect x="17" y="604.96" width="5.5" height="5" fill="#f0a02c" stroke="#4a4a4a" stroke-width="0.5" stroke-opacity="0.85"/>
<rect x="24.15" y="604.96" width="5.5" height="5" fill="#284850" stroke="#4a4a4a" stroke-width="0.5" stroke-opacity="0.85"/>
<rect x="31.3" y="604.96" width="5.5" height="5" fill="#f8c6f8" stroke="#4a4a4a" stroke-width="0.5" stroke-opacity="0.85"/>
<rect x="38.45" y="604.96" width="5.5" height="5" fill="#f2ec3c" stroke="#4a4a4a" stroke-width="0.5" stroke-opacity="0.85"/>
<rect x="45.6" y="604.96" width="5.5" height="5" fill="#e0907a" stroke="#4a4a4a" stroke-width="0.5" stroke-opacity="0.85"/>
<rect x="52.75" y="604.96" width="5.5" height="5" fill="#2a05f0" stroke="#4a4a4a" stroke-width="0.5" stroke-opacity="0.85"/>
<rect x="59.9" y="604.96" width="5.5" height="5" fill="#3a9080" stroke="#4a4a4a" stroke-width="0.5" stroke-opacity="0.85"/>
<rect x="67.05" y="604.96" width="5.5" height="5" fill="#9f55f5" stroke="#4a4a4a" stroke-width="0.5" stroke-opacity="0.85"/>
<rect x="74.2" y="604.96" width="5.5" height="5" fill="#58f0a8" stroke="#4a4a4a" stroke-width="0.5" stroke-opacity="0.85"/>
<rect x="81.35" y="604.96" width="5.5" height="5" fill="#58f0a8" stroke="#4a4a4a" stroke-width="0.5" stroke-opacity="0.85"/>
<rect x="17" y="612.1" width="5.5" height="5" fill="#f0a02c" stroke="#4a4a4a" stroke-width="0.5" stroke-opacity="0.85"/>
<rect x="24.15" y="612.1" width="5.5" height="5" fill="#284850" stroke="#4a4a4a" stroke-width="0.5" stroke-opacity="0.85"/>
<rect x="31.3" y="612.1" width="5.5" height="5" fill="#f8c6f8" stroke="#4a4a4a" stroke-width="0.5" stroke-opacity="0.85"/>
<rect x="38.45" y="612.1" width="5.5" height="5" fill="#e85ccc" stroke="#4a4a4a" stroke-width="0.5" stroke-opacity="0.85"/>
<rect x="45.6" y="612.1" width="5.5" height="5" fill="#e0907a" stroke="#4a4a4a" stroke-width="0.5" stroke-opacity="0.85"/>
<rect x="52.75" y="612.1" width="5.5" height="5" fill="#5ad8b8" stroke="#4a4a4a" stroke-width="0.5" stroke-opacity="0.85"/>
<rect x="59.9" y="612.1" width="5.5" height="5" fill="#3a9080" stroke="#4a4a4a" stroke-width="0.5" stroke-opacity="0.85"/>
<rect x="67.05" y="612.1" width="5.5" height="5" fill="#9f55f5" stroke="#4a4a4a" stroke-width="0.5" stroke-opacity="0.85"/>
<rect x="74.2" y="612.1" width="5.5" height="5" fill="#ea4272" stroke="#4a4a4a" stroke-width="0.5" stroke-opacity="0.85"/>
<rect x="81.35" y="612.1" width="5.5" height="5" fill="#ea4272" stroke="#4a4a4a" stroke-width="0.5" stroke-opacity="0.85"/>
<rect x="17" y="619.24" width="5.5" height="5" fill="#f0a02c" stroke="#4a4a4a" stroke-width="0.5" stroke-opacity="0.85"/>
<rect x="24.15" y="619.24" width="5.5" height="5" fill="#284850" stroke="#4a4a4a" stroke-width="0.5" stroke-opacity="0.85"/>
<rect x="31.3" y="619.24" width="5.5" height="5" fill="#f8c6f8" stroke="#4a4a4a" stroke-width="0.5" stroke-opacity="0.85"/>
<rect x="38.45" y="619.24" width="5.5" height="5" fill="#f2ec3c" stroke="#4a4a4a" stroke-width="0.5" stroke-opacity="0.85"/>
<rect x="45.6" y="619.24" width="5.5" height="5" fill="#e0907a" stroke="#4a4a4a" stroke-width="0.5" stroke-opacity="0.85"/>
<rect x="52.75" y="619.24" width="5.5" height="5" fill="#2a05f0" stroke="#4a4a4a" stroke-width="0.5" stroke-opacity="0.85"/>
<rect x="59.9" y="619.24" width="5.5" height="5" fill="#f2dcaa" stroke="#4a4a4a" stroke-width="0.5" stroke-opacity="0.85"/>
<rect x="67.05" y="619.24" width="5.5" height="5" fill="#9f55f5" stroke="#4a4a4a" stroke-width="0.5" stroke-opacity="0.85"/>
<rect x="74.2" y="619.24" width="5.5" height="5" fill="#3a88b0" stroke="#4a4a4a" stroke-width="0.5" stroke-opacity="0.85"/>
<rect x="81.35" y="619.24" width="5.5" height="5" fill="#f0c860" stroke="#4a4a4a" stroke-width="0.5" stroke-opacity="0.85"/>
<rect x="17" y="626.38" width="5.5" height="5" fill="#5e6b45" stroke="#4a4a4a" stroke-width="0.5" stroke-opacity="0.85"/>
<rect x="24.15" y="626.38" width="5.5" height="5" fill="#284850" stroke="#4a4a4a" stroke-width="0.5" stroke-opacity="0.85"/>
<rect x="31.3" y="626.38" width="5.5" height="5" fill="#4a80a8" stroke="#4a4a4a" stroke-width="0.5" stroke-opacity="0.85"/>
<rect x="38.45" y="626.38" width="5.5" height="5" fill="#52cdf5" stroke="#4a4a4a" stroke-width="0.5" stroke-opacity="0.85"/>
<rect x="45.6" y="626.38" width="5.5" height="5" fill="#e0907a" stroke="#4a4a4a" stroke-width="0.5" stroke-opacity="0.85"/>
<rect x="52.75" y="626.38" width="5.5" height="5" fill="#2a05f0" stroke="#4a4a4a" stroke-width="0.5" stroke-opacity="0.85"/>
<rect x="59.9" y="626.38" width="5.5" height="5" fill="#3a9080" stroke="#4a4a4a" stroke-width="0.5" stroke-opacity="0.85"/>
<rect x="67.05" y="626.38" width="5.5" height="5" fill="#9f55f5" stroke="#4a4a4a" stroke-width="0.5" stroke-opacity="0.85"/>
<rect x="74.2" y="626.38" width="5.5" height="5" fill="#f0c860" stroke="#4a4a4a" stroke-width="0.5" stroke-opacity="0.85"/>
<rect x="81.35" y="626.38" width="5.5" height="5" fill="#f0c860" stroke="#4a4a4a" stroke-width="0.5" stroke-opacity="0.85"/>
<rect x="17" y="633.52" width="5.5" height="5" fill="#5e6b45" stroke="#4a4a4a" stroke-width="0.5" stroke-opacity="0.85"/>
<rect x="24.15" y="633.52" width="5.5" height="5" fill="#e0c070" stroke="#4a4a4a" stroke-width="0.5" stroke-opacity="0.85"/>
<rect x="31.3" y="633.52" width="5.5" height="5" fill="#4a80a8" stroke="#4a4a4a" stroke-width="0.5" stroke-opacity="0.85"/>
<rect x="38.45" y="633.52" width="5.5" height="5" fill="#e85ccc" stroke="#4a4a4a" stroke-width="0.5" stroke-opacity="0.85"/>
<rect x="45.6" y="633.52" width="5.5" height="5" fill="#e0907a" stroke="#4a4a4a" stroke-width="0.5" stroke-opacity="0.85"/>
<rect x="52.75" y="633.52" width="5.5" height="5" fill="#5ad8b8" stroke="#4a4a4a" stroke-width="0.5" stroke-opacity="0.85"/>
<rect x="59.9" y="633.52" width="5.5" height="5" fill="#6a6a6a" stroke="#4a4a4a" stroke-width="0.5" stroke-opacity="0.85"/>
<rect x="67.05" y="633.52" width="5.5" height="5" fill="#9f55f5" stroke="#4a4a4a" stroke-width="0.5" stroke-opacity="0.85"/>
<rect x="74.2" y="633.52" width="5.5" height="5" fill="#58f0a8" stroke="#4a4a4a" stroke-width="0.5" stroke-opacity="0.85"/>
<rect x="81.35" y="633.52" width="5.5" height="5" fill="#58f0a8" stroke="#4a4a4a" stroke-width="0.5" stroke-opacity="0.85"/>
<rect x="17" y="640.66" width="5.5" height="5" fill="#5e6b45" stroke="#4a4a4a" stroke-width="0.5" stroke-opacity="0.85"/>
<rect x="24.15" y="640.66" width="5.5" height="5" fill="#284850" stroke="#4a4a4a" stroke-width="0.5" stroke-opacity="0.85"/>
<rect x="31.3" y="640.66" width="5.5" height="5" fill="#f8c6f8" stroke="#4a4a4a" stroke-width="0.5" stroke-opacity="0.85"/>
<rect x="38.45" y="640.66" width="5.5" height="5" fill="#52cdf5" stroke="#4a4a4a" stroke-width="0.5" stroke-opacity="0.85"/>
<rect x="45.6" y="640.66" width="5.5" height="5" fill="#e0907a" stroke="#4a4a4a" stroke-width="0.5" stroke-opacity="0.85"/>
<rect x="52.75" y="640.66" width="5.5" height="5" fill="#2a05f0" stroke="#4a4a4a" stroke-width="0.5" stroke-opacity="0.85"/>
<rect x="59.9" y="640.66" width="5.5" height="5" fill="#3a9080" stroke="#4a4a4a" stroke-width="0.5" stroke-opacity="0.85"/>
<rect x="67.05" y="640.66" width="5.5" height="5" fill="#9f55f5" stroke="#4a4a4a" stroke-width="0.5" stroke-opacity="0.85"/>
<rect x="74.2" y="640.66" width="5.5" height="5" fill="#58f0a8" stroke="#4a4a4a" stroke-width="0.5" stroke-opacity="0.85"/>
<rect x="81.35" y="640.66" width="5.5" height="5" fill="#58f0a8" stroke="#4a4a4a" stroke-width="0.5" stroke-opacity="0.85"/>
<text x="13" y="360.8" font-size="5.2" text-anchor="start" fill="#222" stroke="#222" stroke-width="0.14" transform="rotate(-42 13 360.8)">Group</text>
<text x="19.7" y="360.8" font-size="5.2" text-anchor="start" fill="#222" stroke="#222" stroke-width="0.14" transform="rotate(-42 19.7 360.8)">Age</text>
<text x="26.85" y="360.8" font-size="5.2" text-anchor="start" fill="#222" stroke="#222" stroke-width="0.14" transform="rotate(-42 26.85 360.8)">Gender</text>
<text x="34" y="360.8" font-size="5.2" text-anchor="start" fill="#222" stroke="#222" stroke-width="0.14" transform="rotate(-42 34 360.8)">Smoke</text>
<text x="41.15" y="360.8" font-size="5.2" text-anchor="start" fill="#222" stroke="#222" stroke-width="0.14" transform="rotate(-42 41.15 360.8)">T stage</text>
<text x="48.3" y="360.8" font-size="5.2" text-anchor="start" fill="#222" stroke="#222" stroke-width="0.14" transform="rotate(-42 48.3 360.8)">N stage</text>
<text x="55.45" y="360.8" font-size="5.2" text-anchor="start" fill="#222" stroke="#222" stroke-width="0.14" transform="rotate(-42 55.45 360.8)">Clinical stage</text>
<text x="62.6" y="360.8" font-size="5.2" text-anchor="start" fill="#222" stroke="#222" stroke-width="0.14" transform="rotate(-42 62.6 360.8)">Bronchial neoplasm</text>
<text x="69.75" y="360.8" font-size="5.2" text-anchor="start" fill="#222" stroke="#222" stroke-width="0.14" transform="rotate(-42 69.75 360.8)">Pathologic response</text>
<text x="76.9" y="360.8" font-size="5.2" text-anchor="start" fill="#222" stroke="#222" stroke-width="0.14" transform="rotate(-42 76.9 360.8)">Response after induction</text>
<text x="84.05" y="360.8" font-size="5.2" text-anchor="start" fill="#222" stroke="#222" stroke-width="0.14" transform="rotate(-42 84.05 360.8)">Best radiological response</text>
<rect x="91.5" y="361.8" width="141" height="5.1" fill="#dde0fc" />
<rect x="91.5" y="361.8" width="46" height="5.1" fill="#b2e8f9" />
<rect x="91.7" y="362" width="140.6" height="4.7" fill="none" stroke="#7a8296" stroke-opacity="0.22" stroke-width="0.45"/>
<rect x="235.5" y="361.8" width="140.9" height="5.1" fill="#dde0fc" />
<rect x="235.7" y="362" width="140.5" height="4.7" fill="none" stroke="#7a8296" stroke-opacity="0.22" stroke-width="0.45"/>
<rect x="378.9" y="361.8" width="59" height="5.1" fill="#dde0fc" />
<rect x="379.1" y="362" width="58.6" height="4.7" fill="none" stroke="#7a8296" stroke-opacity="0.22" stroke-width="0.45"/>
<rect x="91.5" y="368.94" width="141" height="5.1" fill="#dde0fc" />
<rect x="91.5" y="368.94" width="85.2" height="5.1" fill="#b2e8f9" />
<rect x="91.7" y="369.14" width="140.6" height="4.7" fill="none" stroke="#7a8296" stroke-opacity="0.22" stroke-width="0.45"/>
<rect x="235.5" y="368.94" width="140.9" height="5.1" fill="#dde0fc" />
<rect x="235.7" y="369.14" width="140.5" height="4.7" fill="none" stroke="#7a8296" stroke-opacity="0.22" stroke-width="0.45"/>
<rect x="378.9" y="368.94" width="6.2" height="5.1" fill="#dde0fc" />
<rect x="379.1" y="369.14" width="5.8" height="4.7" fill="none" stroke="#7a8296" stroke-opacity="0.22" stroke-width="0.45"/>
<rect x="91.5" y="376.08" width="141" height="5.1" fill="#dde0fc" />
<rect x="91.5" y="376.08" width="88" height="5.1" fill="#b2e8f9" />
<rect x="91.7" y="376.28" width="140.6" height="4.7" fill="none" stroke="#7a8296" stroke-opacity="0.22" stroke-width="0.45"/>
<rect x="235.5" y="376.08" width="140.9" height="5.1" fill="#dde0fc" />
<rect x="235.7" y="376.28" width="140.5" height="4.7" fill="none" stroke="#7a8296" stroke-opacity="0.22" stroke-width="0.45"/>
<rect x="378.9" y="376.08" width="11.1" height="5.1" fill="#dde0fc" />
<rect x="379.1" y="376.28" width="10.7" height="4.7" fill="none" stroke="#7a8296" stroke-opacity="0.22" stroke-width="0.45"/>
<rect x="91.5" y="383.22" width="141" height="5.1" fill="#dde0fc" />
<rect x="91.5" y="383.22" width="121.3" height="5.1" fill="#b2e8f9" />
<rect x="91.7" y="383.42" width="140.6" height="4.7" fill="none" stroke="#7a8296" stroke-opacity="0.22" stroke-width="0.45"/>
<rect x="235.5" y="383.22" width="140.9" height="5.1" fill="#dde0fc" />
<rect x="235.7" y="383.42" width="140.5" height="4.7" fill="none" stroke="#7a8296" stroke-opacity="0.22" stroke-width="0.45"/>
<rect x="378.9" y="383.22" width="70.9" height="5.1" fill="#dde0fc" />
<rect x="379.1" y="383.42" width="70.5" height="4.7" fill="none" stroke="#7a8296" stroke-opacity="0.22" stroke-width="0.45"/>
<rect x="91.5" y="390.36" width="141" height="5.1" fill="#dde0fc" />
<rect x="91.5" y="390.36" width="77.1" height="5.1" fill="#b2e8f9" />
<rect x="91.7" y="390.56" width="140.6" height="4.7" fill="none" stroke="#7a8296" stroke-opacity="0.22" stroke-width="0.45"/>
<rect x="235.5" y="390.36" width="140.9" height="5.1" fill="#dde0fc" />
<rect x="235.7" y="390.56" width="140.5" height="4.7" fill="none" stroke="#7a8296" stroke-opacity="0.22" stroke-width="0.45"/>
<rect x="378.9" y="390.36" width="69.3" height="5.1" fill="#dde0fc" />
<rect x="379.1" y="390.56" width="68.9" height="4.7" fill="none" stroke="#7a8296" stroke-opacity="0.22" stroke-width="0.45"/>
<rect x="91.5" y="397.5" width="141" height="5.1" fill="#dde0fc" />
<rect x="91.5" y="397.5" width="50.8" height="5.1" fill="#b2e8f9" />
<rect x="91.7" y="397.7" width="140.6" height="4.7" fill="none" stroke="#7a8296" stroke-opacity="0.22" stroke-width="0.45"/>
<rect x="235.5" y="397.5" width="140.9" height="5.1" fill="#dde0fc" />
<rect x="235.7" y="397.7" width="140.5" height="4.7" fill="none" stroke="#7a8296" stroke-opacity="0.22" stroke-width="0.45"/>
<rect x="378.9" y="397.5" width="68" height="5.1" fill="#dde0fc" />
<rect x="379.1" y="397.7" width="67.6" height="4.7" fill="none" stroke="#7a8296" stroke-opacity="0.22" stroke-width="0.45"/>
<rect x="91.5" y="404.64" width="141" height="5.1" fill="#dde0fc" />
<rect x="91.5" y="404.64" width="91.7" height="5.1" fill="#b2e8f9" />
<rect x="91.7" y="404.84" width="140.6" height="4.7" fill="none" stroke="#7a8296" stroke-opacity="0.22" stroke-width="0.45"/>
<rect x="235.5" y="404.64" width="140.9" height="5.1" fill="#dde0fc" />
<rect x="235.7" y="404.84" width="140.5" height="4.7" fill="none" stroke="#7a8296" stroke-opacity="0.22" stroke-width="0.45"/>
<rect x="378.9" y="404.64" width="65.1" height="5.1" fill="#dde0fc" />
<rect x="379.1" y="404.84" width="64.7" height="4.7" fill="none" stroke="#7a8296" stroke-opacity="0.22" stroke-width="0.45"/>
<rect x="91.5" y="411.78" width="141" height="5.1" fill="#dde0fc" />
<rect x="91.5" y="411.78" width="101.2" height="5.1" fill="#b2e8f9" />
<rect x="91.7" y="411.98" width="140.6" height="4.7" fill="none" stroke="#7a8296" stroke-opacity="0.22" stroke-width="0.45"/>
<rect x="235.5" y="411.78" width="132.9" height="5.1" fill="#dde0fc" />
<rect x="235.7" y="411.98" width="132.5" height="4.7" fill="none" stroke="#7a8296" stroke-opacity="0.22" stroke-width="0.45"/>
<rect x="91.5" y="418.92" width="141" height="5.1" fill="#dde0fc" />
<rect x="91.5" y="418.92" width="45.1" height="5.1" fill="#b2e8f9" />
<rect x="91.7" y="419.12" width="140.6" height="4.7" fill="none" stroke="#7a8296" stroke-opacity="0.22" stroke-width="0.45"/>
<rect x="235.5" y="418.92" width="140.9" height="5.1" fill="#dde0fc" />
<rect x="235.7" y="419.12" width="140.5" height="4.7" fill="none" stroke="#7a8296" stroke-opacity="0.22" stroke-width="0.45"/>
<rect x="378.9" y="418.92" width="57.8" height="5.1" fill="#dde0fc" />
<rect x="379.1" y="419.12" width="57.4" height="4.7" fill="none" stroke="#7a8296" stroke-opacity="0.22" stroke-width="0.45"/>
<rect x="91.5" y="426.06" width="141" height="5.1" fill="#dde0fc" />
<rect x="91.5" y="426.06" width="131.2" height="5.1" fill="#b2e8f9" />
<rect x="91.7" y="426.26" width="140.6" height="4.7" fill="none" stroke="#7a8296" stroke-opacity="0.22" stroke-width="0.45"/>
<rect x="235.5" y="426.06" width="140.9" height="5.1" fill="#dde0fc" />
<rect x="235.7" y="426.26" width="140.5" height="4.7" fill="none" stroke="#7a8296" stroke-opacity="0.22" stroke-width="0.45"/>
<rect x="378.9" y="426.06" width="36" height="5.1" fill="#dde0fc" />
<rect x="379.1" y="426.26" width="35.6" height="4.7" fill="none" stroke="#7a8296" stroke-opacity="0.22" stroke-width="0.45"/>
<rect x="91.5" y="433.2" width="141" height="5.1" fill="#dde0fc" />
<rect x="91.5" y="433.2" width="93.9" height="5.1" fill="#b2e8f9" />
<rect x="91.7" y="433.4" width="140.6" height="4.7" fill="none" stroke="#7a8296" stroke-opacity="0.22" stroke-width="0.45"/>
<rect x="235.5" y="433.2" width="140.9" height="5.1" fill="#dde0fc" />
<rect x="235.7" y="433.4" width="140.5" height="4.7" fill="none" stroke="#7a8296" stroke-opacity="0.22" stroke-width="0.45"/>
<rect x="378.9" y="433.2" width="20.4" height="5.1" fill="#dde0fc" />
<rect x="379.1" y="433.4" width="20" height="4.7" fill="none" stroke="#7a8296" stroke-opacity="0.22" stroke-width="0.45"/>
<rect x="91.5" y="440.34" width="141" height="5.1" fill="#dde0fc" />
<rect x="91.5" y="440.34" width="92.8" height="5.1" fill="#b2e8f9" />
<rect x="91.7" y="440.54" width="140.6" height="4.7" fill="none" stroke="#7a8296" stroke-opacity="0.22" stroke-width="0.45"/>
<rect x="235.5" y="440.34" width="140.9" height="5.1" fill="#dde0fc" />
<rect x="235.7" y="440.54" width="140.5" height="4.7" fill="none" stroke="#7a8296" stroke-opacity="0.22" stroke-width="0.45"/>
<rect x="378.9" y="440.34" width="19" height="5.1" fill="#dde0fc" />
<rect x="379.1" y="440.54" width="18.6" height="4.7" fill="none" stroke="#7a8296" stroke-opacity="0.22" stroke-width="0.45"/>
<rect x="91.5" y="447.48" width="141" height="5.1" fill="#dde0fc" />
<rect x="91.5" y="447.48" width="89.1" height="5.1" fill="#b2e8f9" />
<rect x="91.7" y="447.68" width="140.6" height="4.7" fill="none" stroke="#7a8296" stroke-opacity="0.22" stroke-width="0.45"/>
<rect x="235.5" y="447.48" width="119.7" height="5.1" fill="#dde0fc" />
<rect x="235.7" y="447.68" width="119.3" height="4.7" fill="none" stroke="#7a8296" stroke-opacity="0.22" stroke-width="0.45"/>
<rect x="91.5" y="454.62" width="141" height="5.1" fill="#dde0fc" />
<rect x="91.5" y="454.62" width="92.2" height="5.1" fill="#b2e8f9" />
<rect x="91.7" y="454.82" width="140.6" height="4.7" fill="none" stroke="#7a8296" stroke-opacity="0.22" stroke-width="0.45"/>
<rect x="235.5" y="454.62" width="140.9" height="5.1" fill="#dde0fc" />
<rect x="235.7" y="454.82" width="140.5" height="4.7" fill="none" stroke="#7a8296" stroke-opacity="0.22" stroke-width="0.45"/>
<rect x="378.9" y="454.62" width="15.8" height="5.1" fill="#dde0fc" />
<rect x="379.1" y="454.82" width="15.4" height="4.7" fill="none" stroke="#7a8296" stroke-opacity="0.22" stroke-width="0.45"/>
<rect x="91.5" y="461.76" width="141" height="5.1" fill="#dde0fc" />
<rect x="91.5" y="461.76" width="89.1" height="5.1" fill="#b2e8f9" />
<rect x="91.7" y="461.96" width="140.6" height="4.7" fill="none" stroke="#7a8296" stroke-opacity="0.22" stroke-width="0.45"/>
<rect x="235.5" y="461.76" width="140.9" height="5.1" fill="#dde0fc" />
<rect x="235.7" y="461.96" width="140.5" height="4.7" fill="none" stroke="#7a8296" stroke-opacity="0.22" stroke-width="0.45"/>
<rect x="378.9" y="461.76" width="14.9" height="5.1" fill="#dde0fc" />
<rect x="379.1" y="461.96" width="14.5" height="4.7" fill="none" stroke="#7a8296" stroke-opacity="0.22" stroke-width="0.45"/>
<rect x="91.5" y="468.9" width="141" height="5.1" fill="#dde0fc" />
<rect x="91.5" y="468.9" width="88" height="5.1" fill="#b2e8f9" />
<rect x="91.7" y="469.1" width="140.6" height="4.7" fill="none" stroke="#7a8296" stroke-opacity="0.22" stroke-width="0.45"/>
<rect x="235.5" y="468.9" width="140.9" height="5.1" fill="#dde0fc" />
<rect x="235.7" y="469.1" width="140.5" height="4.7" fill="none" stroke="#7a8296" stroke-opacity="0.22" stroke-width="0.45"/>
<rect x="378.9" y="468.9" width="12.5" height="5.1" fill="#dde0fc" />
<rect x="379.1" y="469.1" width="12.1" height="4.7" fill="none" stroke="#7a8296" stroke-opacity="0.22" stroke-width="0.45"/>
<rect x="91.5" y="476.04" width="141" height="5.1" fill="#dde0fc" />
<rect x="91.5" y="476.04" width="86.9" height="5.1" fill="#b2e8f9" />
<rect x="91.7" y="476.24" width="140.6" height="4.7" fill="none" stroke="#7a8296" stroke-opacity="0.22" stroke-width="0.45"/>
<rect x="235.5" y="476.04" width="109.5" height="5.1" fill="#dde0fc" />
<rect x="235.7" y="476.24" width="109.1" height="4.7" fill="none" stroke="#7a8296" stroke-opacity="0.22" stroke-width="0.45"/>
<rect x="91.5" y="483.18" width="141" height="5.1" fill="#dde0fc" />
<rect x="91.5" y="483.18" width="89.1" height="5.1" fill="#b2e8f9" />
<rect x="91.7" y="483.38" width="140.6" height="4.7" fill="none" stroke="#7a8296" stroke-opacity="0.22" stroke-width="0.45"/>
<rect x="235.5" y="483.18" width="140.9" height="5.1" fill="#dde0fc" />
<rect x="235.7" y="483.38" width="140.5" height="4.7" fill="none" stroke="#7a8296" stroke-opacity="0.22" stroke-width="0.45"/>
<rect x="378.9" y="483.18" width="8.8" height="5.1" fill="#dde0fc" />
<rect x="379.1" y="483.38" width="8.4" height="4.7" fill="none" stroke="#7a8296" stroke-opacity="0.22" stroke-width="0.45"/>
<rect x="91.5" y="490.32" width="141" height="5.1" fill="#dde0fc" />
<rect x="91.5" y="490.32" width="88" height="5.1" fill="#b2e8f9" />
<rect x="91.7" y="490.52" width="140.6" height="4.7" fill="none" stroke="#7a8296" stroke-opacity="0.22" stroke-width="0.45"/>
<rect x="235.5" y="490.32" width="140.9" height="5.1" fill="#dde0fc" />
<rect x="235.7" y="490.52" width="140.5" height="4.7" fill="none" stroke="#7a8296" stroke-opacity="0.22" stroke-width="0.45"/>
<rect x="378.9" y="490.32" width="8.8" height="5.1" fill="#dde0fc" />
<rect x="379.1" y="490.52" width="8.4" height="4.7" fill="none" stroke="#7a8296" stroke-opacity="0.22" stroke-width="0.45"/>
<rect x="91.5" y="497.46" width="141" height="5.1" fill="#dde0fc" />
<rect x="91.5" y="497.46" width="137.1" height="5.1" fill="#b2e8f9" />
<rect x="91.7" y="497.66" width="140.6" height="4.7" fill="none" stroke="#7a8296" stroke-opacity="0.22" stroke-width="0.45"/>
<rect x="235.5" y="497.46" width="140.9" height="5.1" fill="#dde0fc" />
<rect x="235.7" y="497.66" width="140.5" height="4.7" fill="none" stroke="#7a8296" stroke-opacity="0.22" stroke-width="0.45"/>
<rect x="378.9" y="497.46" width="6.9" height="5.1" fill="#dde0fc" />
<rect x="379.1" y="497.66" width="6.5" height="4.7" fill="none" stroke="#7a8296" stroke-opacity="0.22" stroke-width="0.45"/>
<rect x="91.5" y="504.6" width="141" height="5.1" fill="#dde0fc" />
<rect x="91.5" y="504.6" width="109.9" height="5.1" fill="#b2e8f9" />
<rect x="91.7" y="504.8" width="140.6" height="4.7" fill="none" stroke="#7a8296" stroke-opacity="0.22" stroke-width="0.45"/>
<rect x="235.5" y="504.6" width="140.9" height="5.1" fill="#dde0fc" />
<rect x="235.7" y="504.8" width="140.5" height="4.7" fill="none" stroke="#7a8296" stroke-opacity="0.22" stroke-width="0.45"/>
<rect x="378.9" y="504.6" width="4.9" height="5.1" fill="#dde0fc" />
<rect x="379.1" y="504.8" width="4.5" height="4.7" fill="none" stroke="#7a8296" stroke-opacity="0.22" stroke-width="0.45"/>
<rect x="91.5" y="511.74" width="141" height="5.1" fill="#dde0fc" />
<rect x="91.5" y="511.74" width="86.3" height="5.1" fill="#b2e8f9" />
<rect x="91.7" y="511.94" width="140.6" height="4.7" fill="none" stroke="#7a8296" stroke-opacity="0.22" stroke-width="0.45"/>
<rect x="235.5" y="511.74" width="101.1" height="5.1" fill="#dde0fc" />
<rect x="235.7" y="511.94" width="100.7" height="4.7" fill="none" stroke="#7a8296" stroke-opacity="0.22" stroke-width="0.45"/>
<rect x="91.5" y="518.88" width="141" height="5.1" fill="#dde0fc" />
<rect x="91.5" y="518.88" width="141" height="5.1" fill="#b2e8f9" />
<rect x="91.7" y="519.08" width="140.6" height="4.7" fill="none" stroke="#7a8296" stroke-opacity="0.22" stroke-width="0.45"/>
<rect x="235.5" y="518.88" width="76.6" height="5.1" fill="#dde0fc" />
<rect x="235.5" y="518.88" width="19" height="5.1" fill="#b2e8f9" />
<rect x="235.7" y="519.08" width="76.2" height="4.7" fill="none" stroke="#7a8296" stroke-opacity="0.22" stroke-width="0.45"/>
<rect x="91.5" y="526.02" width="141" height="5.1" fill="#dde0fc" />
<rect x="91.5" y="526.02" width="141" height="5.1" fill="#b2e8f9" />
<rect x="91.7" y="526.22" width="140.6" height="4.7" fill="none" stroke="#7a8296" stroke-opacity="0.22" stroke-width="0.45"/>
<rect x="235.5" y="526.02" width="37.2" height="5.1" fill="#dde0fc" />
<rect x="235.7" y="526.22" width="36.8" height="4.7" fill="none" stroke="#7a8296" stroke-opacity="0.22" stroke-width="0.45"/>
<rect x="91.5" y="533.16" width="141" height="5.1" fill="#dde0fc" />
<rect x="91.5" y="533.16" width="141" height="5.1" fill="#b2e8f9" />
<rect x="91.7" y="533.36" width="140.6" height="4.7" fill="none" stroke="#7a8296" stroke-opacity="0.22" stroke-width="0.45"/>
<rect x="235.5" y="533.16" width="140.9" height="5.1" fill="#dde0fc" />
<rect x="235.5" y="533.16" width="16" height="5.1" fill="#b2e8f9" />
<rect x="235.7" y="533.36" width="140.5" height="4.7" fill="none" stroke="#7a8296" stroke-opacity="0.22" stroke-width="0.45"/>
<rect x="378.9" y="533.16" width="74.1" height="5.1" fill="#dde0fc" />
<rect x="379.1" y="533.36" width="73.7" height="4.7" fill="none" stroke="#7a8296" stroke-opacity="0.22" stroke-width="0.45"/>
<rect x="91.5" y="540.3" width="141" height="5.1" fill="#dde0fc" />
<rect x="91.5" y="540.3" width="109.3" height="5.1" fill="#b2e8f9" />
<rect x="91.7" y="540.5" width="140.6" height="4.7" fill="none" stroke="#7a8296" stroke-opacity="0.22" stroke-width="0.45"/>
<rect x="235.5" y="540.3" width="134.2" height="5.1" fill="#dde0fc" />
<rect x="235.7" y="540.5" width="133.8" height="4.7" fill="none" stroke="#7a8296" stroke-opacity="0.22" stroke-width="0.45"/>
<rect x="91.5" y="547.44" width="141" height="5.1" fill="#dde0fc" />
<rect x="91.5" y="547.44" width="104.9" height="5.1" fill="#b2e8f9" />
<rect x="91.7" y="547.64" width="140.6" height="4.7" fill="none" stroke="#7a8296" stroke-opacity="0.22" stroke-width="0.45"/>
<rect x="235.5" y="547.44" width="96.8" height="5.1" fill="#dde0fc" />
<rect x="235.7" y="547.64" width="96.4" height="4.7" fill="none" stroke="#7a8296" stroke-opacity="0.22" stroke-width="0.45"/>
<rect x="91.5" y="554.58" width="141" height="5.1" fill="#dde0fc" />
<rect x="91.5" y="554.58" width="86.3" height="5.1" fill="#b2e8f9" />
<rect x="91.7" y="554.78" width="140.6" height="4.7" fill="none" stroke="#7a8296" stroke-opacity="0.22" stroke-width="0.45"/>
<rect x="235.5" y="554.58" width="140.9" height="5.1" fill="#dde0fc" />
<rect x="235.7" y="554.78" width="140.5" height="4.7" fill="none" stroke="#7a8296" stroke-opacity="0.22" stroke-width="0.45"/>
<rect x="378.9" y="554.58" width="51.1" height="5.1" fill="#dde0fc" />
<rect x="379.1" y="554.78" width="50.7" height="4.7" fill="none" stroke="#7a8296" stroke-opacity="0.22" stroke-width="0.45"/>
<rect x="91.5" y="561.72" width="141" height="5.1" fill="#dde0fc" />
<rect x="91.5" y="561.72" width="141" height="5.1" fill="#b2e8f9" />
<rect x="91.7" y="561.92" width="140.6" height="4.7" fill="none" stroke="#7a8296" stroke-opacity="0.22" stroke-width="0.45"/>
<rect x="235.5" y="561.72" width="140.9" height="5.1" fill="#dde0fc" />
<rect x="235.7" y="561.92" width="140.5" height="4.7" fill="none" stroke="#7a8296" stroke-opacity="0.22" stroke-width="0.45"/>
<rect x="378.9" y="561.72" width="44.1" height="5.1" fill="#dde0fc" />
<rect x="379.1" y="561.92" width="43.7" height="4.7" fill="none" stroke="#7a8296" stroke-opacity="0.22" stroke-width="0.45"/>
<rect x="91.5" y="568.86" width="141" height="5.1" fill="#dde0fc" />
<rect x="91.5" y="568.86" width="85.8" height="5.1" fill="#b2e8f9" />
<rect x="91.7" y="569.06" width="140.6" height="4.7" fill="none" stroke="#7a8296" stroke-opacity="0.22" stroke-width="0.45"/>
<rect x="235.5" y="568.86" width="140.9" height="5.1" fill="#dde0fc" />
<rect x="235.7" y="569.06" width="140.5" height="4.7" fill="none" stroke="#7a8296" stroke-opacity="0.22" stroke-width="0.45"/>
<rect x="378.9" y="568.86" width="14.5" height="5.1" fill="#dde0fc" />
<rect x="379.1" y="569.06" width="14.1" height="4.7" fill="none" stroke="#7a8296" stroke-opacity="0.22" stroke-width="0.45"/>
<rect x="91.5" y="576" width="141" height="5.1" fill="#dde0fc" />
<rect x="91.5" y="576" width="99" height="5.1" fill="#b2e8f9" />
<rect x="91.7" y="576.2" width="140.6" height="4.7" fill="none" stroke="#7a8296" stroke-opacity="0.22" stroke-width="0.45"/>
<rect x="235.5" y="576" width="140.9" height="5.1" fill="#dde0fc" />
<rect x="235.7" y="576.2" width="140.5" height="4.7" fill="none" stroke="#7a8296" stroke-opacity="0.22" stroke-width="0.45"/>
<rect x="378.9" y="576" width="8.8" height="5.1" fill="#dde0fc" />
<rect x="379.1" y="576.2" width="8.4" height="4.7" fill="none" stroke="#7a8296" stroke-opacity="0.22" stroke-width="0.45"/>
<rect x="91.5" y="583.14" width="141" height="5.1" fill="#dde0fc" />
<rect x="91.5" y="583.14" width="136.6" height="5.1" fill="#b2e8f9" />
<rect x="91.7" y="583.34" width="140.6" height="4.7" fill="none" stroke="#7a8296" stroke-opacity="0.22" stroke-width="0.45"/>
<rect x="235.5" y="583.14" width="97.9" height="5.1" fill="#dde0fc" />
<rect x="235.7" y="583.34" width="97.5" height="4.7" fill="none" stroke="#7a8296" stroke-opacity="0.22" stroke-width="0.45"/>
<rect x="91.5" y="590.28" width="141" height="5.1" fill="#dde0fc" />
<rect x="91.5" y="590.28" width="141" height="5.1" fill="#b2e8f9" />
<rect x="91.7" y="590.48" width="140.6" height="4.7" fill="none" stroke="#7a8296" stroke-opacity="0.22" stroke-width="0.45"/>
<rect x="235.5" y="590.28" width="121.9" height="5.1" fill="#dde0fc" />
<rect x="235.7" y="590.48" width="121.5" height="4.7" fill="none" stroke="#7a8296" stroke-opacity="0.22" stroke-width="0.45"/>
<rect x="91.5" y="597.42" width="141" height="5.1" fill="#dde0fc" />
<rect x="91.5" y="597.42" width="98.3" height="5.1" fill="#b2e8f9" />
<rect x="91.7" y="597.62" width="140.6" height="4.7" fill="none" stroke="#7a8296" stroke-opacity="0.22" stroke-width="0.45"/>
<rect x="235.5" y="597.42" width="132" height="5.1" fill="#dde0fc" />
<rect x="235.7" y="597.62" width="131.6" height="4.7" fill="none" stroke="#7a8296" stroke-opacity="0.22" stroke-width="0.45"/>
<rect x="91.5" y="604.56" width="141" height="5.1" fill="#dde0fc" />
<rect x="91.5" y="604.56" width="98.3" height="5.1" fill="#b2e8f9" />
<rect x="91.7" y="604.76" width="140.6" height="4.7" fill="none" stroke="#7a8296" stroke-opacity="0.22" stroke-width="0.45"/>
<rect x="235.5" y="604.56" width="138.4" height="5.1" fill="#dde0fc" />
<rect x="235.7" y="604.76" width="138" height="4.7" fill="none" stroke="#7a8296" stroke-opacity="0.22" stroke-width="0.45"/>
<rect x="91.5" y="611.7" width="141" height="5.1" fill="#dde0fc" />
<rect x="91.5" y="611.7" width="141" height="5.1" fill="#b2e8f9" />
<rect x="91.7" y="611.9" width="140.6" height="4.7" fill="none" stroke="#7a8296" stroke-opacity="0.22" stroke-width="0.45"/>
<rect x="235.5" y="611.7" width="140.9" height="5.1" fill="#dde0fc" />
<rect x="235.7" y="611.9" width="140.5" height="4.7" fill="none" stroke="#7a8296" stroke-opacity="0.22" stroke-width="0.45"/>
<rect x="378.9" y="611.7" width="11.5" height="5.1" fill="#dde0fc" />
<rect x="379.1" y="611.9" width="11.1" height="4.7" fill="none" stroke="#7a8296" stroke-opacity="0.22" stroke-width="0.45"/>
<rect x="91.5" y="618.84" width="141" height="5.1" fill="#dde0fc" />
<rect x="91.5" y="618.84" width="141" height="5.1" fill="#b2e8f9" />
<rect x="91.7" y="619.04" width="140.6" height="4.7" fill="none" stroke="#7a8296" stroke-opacity="0.22" stroke-width="0.45"/>
<rect x="235.5" y="618.84" width="15.7" height="5.1" fill="#dde0fc" />
<rect x="235.7" y="619.04" width="15.3" height="4.7" fill="none" stroke="#7a8296" stroke-opacity="0.22" stroke-width="0.45"/>
<rect x="91.5" y="625.98" width="141" height="5.1" fill="#dde0fc" />
<rect x="91.5" y="625.98" width="22.3" height="5.1" fill="#b2e8f9" />
<rect x="91.7" y="626.18" width="140.6" height="4.7" fill="none" stroke="#7a8296" stroke-opacity="0.22" stroke-width="0.45"/>
<rect x="235.5" y="625.98" width="93.5" height="5.1" fill="#dde0fc" />
<rect x="235.7" y="626.18" width="93.1" height="4.7" fill="none" stroke="#7a8296" stroke-opacity="0.22" stroke-width="0.45"/>
<rect x="91.5" y="633.12" width="141" height="5.1" fill="#dde0fc" />
<rect x="91.5" y="633.12" width="20.6" height="5.1" fill="#b2e8f9" />
<rect x="91.7" y="633.32" width="140.6" height="4.7" fill="none" stroke="#7a8296" stroke-opacity="0.22" stroke-width="0.45"/>
<rect x="235.5" y="633.12" width="140.9" height="5.1" fill="#dde0fc" />
<rect x="235.7" y="633.32" width="140.5" height="4.7" fill="none" stroke="#7a8296" stroke-opacity="0.22" stroke-width="0.45"/>
<rect x="378.9" y="633.12" width="75.2" height="5.1" fill="#dde0fc" />
<rect x="379.1" y="633.32" width="74.8" height="4.7" fill="none" stroke="#7a8296" stroke-opacity="0.22" stroke-width="0.45"/>
<rect x="91.5" y="640.26" width="141" height="5.1" fill="#dde0fc" />
<rect x="91.5" y="640.26" width="20.6" height="5.1" fill="#b2e8f9" />
<rect x="91.7" y="640.46" width="140.6" height="4.7" fill="none" stroke="#7a8296" stroke-opacity="0.22" stroke-width="0.45"/>
<rect x="235.5" y="640.26" width="15.7" height="5.1" fill="#dde0fc" />
<rect x="235.7" y="640.46" width="15.3" height="4.7" fill="none" stroke="#7a8296" stroke-opacity="0.22" stroke-width="0.45"/>
<line x1="91.3" y1="360.5" x2="232.8" y2="360.5" stroke="#777" stroke-width="0.9" />
<line x1="235.2" y1="360.5" x2="376.6" y2="360.5" stroke="#777" stroke-width="0.9" />
<line x1="378.6" y1="360.5" x2="456" y2="360.5" stroke="#777" stroke-width="0.9" />
<line x1="456" y1="360.2" x2="456" y2="647.3" stroke="#8a8a8a" stroke-width="0.8" />
<line x1="91.4" y1="360.2" x2="91.4" y2="647.3" stroke="#707070" stroke-width="0.8" />
<line x1="91.3" y1="647.2" x2="232.8" y2="647.2" stroke="#666" stroke-width="0.85" />
<line x1="235.2" y1="647.2" x2="376.6" y2="647.2" stroke="#666" stroke-width="0.85" />
<line x1="378.6" y1="647.2" x2="456" y2="647.2" stroke="#666" stroke-width="0.85" />
<line x1="88.2" y1="364.35" x2="91.4" y2="364.35" stroke="#a0a0a0" stroke-width="0.6" />
<line x1="88.2" y1="371.49" x2="91.4" y2="371.49" stroke="#a0a0a0" stroke-width="0.6" />
<line x1="88.2" y1="378.63" x2="91.4" y2="378.63" stroke="#a0a0a0" stroke-width="0.6" />
<line x1="88.2" y1="385.77" x2="91.4" y2="385.77" stroke="#a0a0a0" stroke-width="0.6" />
<line x1="88.2" y1="392.91" x2="91.4" y2="392.91" stroke="#a0a0a0" stroke-width="0.6" />
<line x1="88.2" y1="400.05" x2="91.4" y2="400.05" stroke="#a0a0a0" stroke-width="0.6" />
<line x1="88.2" y1="407.19" x2="91.4" y2="407.19" stroke="#a0a0a0" stroke-width="0.6" />
<line x1="88.2" y1="414.33" x2="91.4" y2="414.33" stroke="#a0a0a0" stroke-width="0.6" />
<line x1="88.2" y1="421.47" x2="91.4" y2="421.47" stroke="#a0a0a0" stroke-width="0.6" />
<line x1="88.2" y1="428.61" x2="91.4" y2="428.61" stroke="#a0a0a0" stroke-width="0.6" />
<line x1="88.2" y1="435.75" x2="91.4" y2="435.75" stroke="#a0a0a0" stroke-width="0.6" />
<line x1="88.2" y1="442.89" x2="91.4" y2="442.89" stroke="#a0a0a0" stroke-width="0.6" />
<line x1="88.2" y1="450.03" x2="91.4" y2="450.03" stroke="#a0a0a0" stroke-width="0.6" />
<line x1="88.2" y1="457.17" x2="91.4" y2="457.17" stroke="#a0a0a0" stroke-width="0.6" />
<line x1="88.2" y1="464.31" x2="91.4" y2="464.31" stroke="#a0a0a0" stroke-width="0.6" />
<line x1="88.2" y1="471.45" x2="91.4" y2="471.45" stroke="#a0a0a0" stroke-width="0.6" />
<line x1="88.2" y1="478.59" x2="91.4" y2="478.59" stroke="#a0a0a0" stroke-width="0.6" />
<line x1="88.2" y1="485.73" x2="91.4" y2="485.73" stroke="#a0a0a0" stroke-width="0.6" />
<line x1="88.2" y1="492.87" x2="91.4" y2="492.87" stroke="#a0a0a0" stroke-width="0.6" />
<line x1="88.2" y1="500.01" x2="91.4" y2="500.01" stroke="#a0a0a0" stroke-width="0.6" />
<line x1="88.2" y1="507.15" x2="91.4" y2="507.15" stroke="#a0a0a0" stroke-width="0.6" />
<line x1="88.2" y1="514.29" x2="91.4" y2="514.29" stroke="#a0a0a0" stroke-width="0.6" />
<line x1="88.2" y1="521.43" x2="91.4" y2="521.43" stroke="#a0a0a0" stroke-width="0.6" />
<line x1="88.2" y1="528.57" x2="91.4" y2="528.57" stroke="#a0a0a0" stroke-width="0.6" />
<line x1="88.2" y1="535.71" x2="91.4" y2="535.71" stroke="#a0a0a0" stroke-width="0.6" />
<line x1="88.2" y1="542.85" x2="91.4" y2="542.85" stroke="#a0a0a0" stroke-width="0.6" />
<line x1="88.2" y1="549.99" x2="91.4" y2="549.99" stroke="#a0a0a0" stroke-width="0.6" />
<line x1="88.2" y1="557.13" x2="91.4" y2="557.13" stroke="#a0a0a0" stroke-width="0.6" />
<line x1="88.2" y1="564.27" x2="91.4" y2="564.27" stroke="#a0a0a0" stroke-width="0.6" />
<line x1="88.2" y1="571.41" x2="91.4" y2="571.41" stroke="#a0a0a0" stroke-width="0.6" />
<line x1="88.2" y1="578.55" x2="91.4" y2="578.55" stroke="#a0a0a0" stroke-width="0.6" />
<line x1="88.2" y1="585.69" x2="91.4" y2="585.69" stroke="#a0a0a0" stroke-width="0.6" />
<line x1="88.2" y1="592.83" x2="91.4" y2="592.83" stroke="#a0a0a0" stroke-width="0.6" />
<line x1="88.2" y1="599.97" x2="91.4" y2="599.97" stroke="#a0a0a0" stroke-width="0.6" />
<line x1="88.2" y1="607.11" x2="91.4" y2="607.11" stroke="#a0a0a0" stroke-width="0.6" />
<line x1="88.2" y1="614.25" x2="91.4" y2="614.25" stroke="#a0a0a0" stroke-width="0.6" />
<line x1="88.2" y1="621.39" x2="91.4" y2="621.39" stroke="#a0a0a0" stroke-width="0.6" />
<line x1="88.2" y1="628.53" x2="91.4" y2="628.53" stroke="#a0a0a0" stroke-width="0.6" />
<line x1="88.2" y1="635.67" x2="91.4" y2="635.67" stroke="#a0a0a0" stroke-width="0.6" />
<line x1="88.2" y1="642.81" x2="91.4" y2="642.81" stroke="#a0a0a0" stroke-width="0.6" />
<line x1="91.4" y1="511.0" x2="456" y2="511.0" stroke="#9a9a9a" stroke-width="0.8" stroke-dasharray="7.4 6.85" stroke-dashoffset="7.45"/>
<line x1="91.4" y1="610.5" x2="456" y2="610.5" stroke="#9a9a9a" stroke-width="0.8" stroke-dasharray="7.4 6.85" stroke-dashoffset="8.55"/>
<line x1="10" y1="511.0" x2="91" y2="511.0" stroke="#cfcfcf" stroke-width="0.7" stroke-dasharray="7.4 6.85" stroke-dashoffset="11.55"/>
<line x1="10" y1="610.5" x2="91" y2="610.5" stroke="#cfcfcf" stroke-width="0.7" stroke-dasharray="7.4 6.85" stroke-dashoffset="12.65"/>
<ellipse cx="234.4" cy="359.9" rx="0.95" ry="1.8" transform="rotate(18 234.4 359.9)" fill="#fff" stroke="#444" stroke-width="0.55"/>
<ellipse cx="377.7" cy="359.9" rx="0.95" ry="1.8" transform="rotate(18 377.7 359.9)" fill="#fff" stroke="#444" stroke-width="0.55"/>
<rect x="233" y="646.3" width="2" height="1.4" fill="#fff" />
<path d="M232.3 648.3 L233.7 644.9 M234.2 648.3 L235.6 644.9" stroke="#444" stroke-width="0.55" fill="none"/>
<rect x="377" y="646.3" width="2" height="1.4" fill="#fff" />
<path d="M376.3 648.3 L377.7 644.9 M378.2 648.3 L379.6 644.9" stroke="#444" stroke-width="0.55" fill="none"/>
<line x1="90.8" y1="647.2" x2="90.8" y2="649" stroke="#555" stroke-width="0.7" />
<text x="90.8" y="656.18" font-size="5.3" text-anchor="middle" fill="#1e1e1e" stroke="#1e1e1e" stroke-width="0.14" >0</text>
<line x1="111.8" y1="647.2" x2="111.8" y2="649" stroke="#555" stroke-width="0.7" />
<text x="111.8" y="656.18" font-size="5.3" text-anchor="middle" fill="#1e1e1e" stroke="#1e1e1e" stroke-width="0.14" >3</text>
<line x1="132.8" y1="647.2" x2="132.8" y2="649" stroke="#555" stroke-width="0.7" />
<text x="132.8" y="656.18" font-size="5.3" text-anchor="middle" fill="#1e1e1e" stroke="#1e1e1e" stroke-width="0.14" >6</text>
<line x1="153.8" y1="647.2" x2="153.8" y2="649" stroke="#555" stroke-width="0.7" />
<text x="153.8" y="656.18" font-size="5.3" text-anchor="middle" fill="#1e1e1e" stroke="#1e1e1e" stroke-width="0.14" >9</text>
<line x1="174.8" y1="647.2" x2="174.8" y2="649" stroke="#555" stroke-width="0.7" />
<text x="174.8" y="656.18" font-size="5.3" text-anchor="middle" fill="#1e1e1e" stroke="#1e1e1e" stroke-width="0.14" >12</text>
<line x1="195.8" y1="647.2" x2="195.8" y2="649" stroke="#555" stroke-width="0.7" />
<text x="195.8" y="656.18" font-size="5.3" text-anchor="middle" fill="#1e1e1e" stroke="#1e1e1e" stroke-width="0.14" >15</text>
<line x1="216.8" y1="647.2" x2="216.8" y2="649" stroke="#555" stroke-width="0.7" />
<text x="216.8" y="656.18" font-size="5.3" text-anchor="middle" fill="#1e1e1e" stroke="#1e1e1e" stroke-width="0.14" >18</text>
<line x1="235.9" y1="647.2" x2="235.9" y2="649" stroke="#555" stroke-width="0.7" />
<text x="235.9" y="656.18" font-size="5.3" text-anchor="middle" fill="#1e1e1e" stroke="#1e1e1e" stroke-width="0.14" >5</text>
<line x1="253.48" y1="647.2" x2="253.48" y2="649" stroke="#555" stroke-width="0.7" />
<text x="253.48" y="656.18" font-size="5.3" text-anchor="middle" fill="#1e1e1e" stroke="#1e1e1e" stroke-width="0.14" >7</text>
<line x1="271.06" y1="647.2" x2="271.06" y2="649" stroke="#555" stroke-width="0.7" />
<text x="271.06" y="656.18" font-size="5.3" text-anchor="middle" fill="#1e1e1e" stroke="#1e1e1e" stroke-width="0.14" >9</text>
<line x1="288.64" y1="647.2" x2="288.64" y2="649" stroke="#555" stroke-width="0.7" />
<text x="288.64" y="656.18" font-size="5.3" text-anchor="middle" fill="#1e1e1e" stroke="#1e1e1e" stroke-width="0.14" >11</text>
<line x1="306.22" y1="647.2" x2="306.22" y2="649" stroke="#555" stroke-width="0.7" />
<text x="306.22" y="656.18" font-size="5.3" text-anchor="middle" fill="#1e1e1e" stroke="#1e1e1e" stroke-width="0.14" >13</text>
<line x1="323.8" y1="647.2" x2="323.8" y2="649" stroke="#555" stroke-width="0.7" />
<text x="323.8" y="656.18" font-size="5.3" text-anchor="middle" fill="#1e1e1e" stroke="#1e1e1e" stroke-width="0.14" >15</text>
<line x1="341.38" y1="647.2" x2="341.38" y2="649" stroke="#555" stroke-width="0.7" />
<text x="341.38" y="656.18" font-size="5.3" text-anchor="middle" fill="#1e1e1e" stroke="#1e1e1e" stroke-width="0.14" >17</text>
<line x1="358.96" y1="647.2" x2="358.96" y2="649" stroke="#555" stroke-width="0.7" />
<text x="358.96" y="656.18" font-size="5.3" text-anchor="middle" fill="#1e1e1e" stroke="#1e1e1e" stroke-width="0.14" >19</text>
<line x1="376.54" y1="647.2" x2="376.54" y2="649" stroke="#555" stroke-width="0.7" />
<text x="376.54" y="656.18" font-size="5.3" text-anchor="middle" fill="#1e1e1e" stroke="#1e1e1e" stroke-width="0.14" >21</text>
<line x1="398.04" y1="647.2" x2="398.04" y2="649" stroke="#555" stroke-width="0.7" />
<text x="398.04" y="656.18" font-size="5.3" text-anchor="middle" fill="#1e1e1e" stroke="#1e1e1e" stroke-width="0.14" >27</text>
<line x1="417.18" y1="647.2" x2="417.18" y2="649" stroke="#555" stroke-width="0.7" />
<text x="417.18" y="656.18" font-size="5.3" text-anchor="middle" fill="#1e1e1e" stroke="#1e1e1e" stroke-width="0.14" >33</text>
<line x1="436.32" y1="647.2" x2="436.32" y2="649" stroke="#555" stroke-width="0.7" />
<text x="436.32" y="656.18" font-size="5.3" text-anchor="middle" fill="#1e1e1e" stroke="#1e1e1e" stroke-width="0.14" >39</text>
<line x1="455.46" y1="647.2" x2="455.46" y2="649" stroke="#555" stroke-width="0.7" />
<text x="455.46" y="656.18" font-size="5.3" text-anchor="middle" fill="#1e1e1e" stroke="#1e1e1e" stroke-width="0.14" >45</text>
<text x="189" y="663.96" font-size="7.2" text-anchor="middle" fill="#111" font-weight="bold" stroke="#111" stroke-width="0.06" >Week</text>
<text x="344" y="663.86" font-size="7.2" text-anchor="middle" fill="#111" font-weight="bold" stroke="#111" stroke-width="0.06" >Month</text>
<rect x="95.2" y="362.25" width="1.0" height="2.6" fill="#8cb4bf"/><rect x="94.75" y="364.7" width="1.9" height="1.35" fill="#3d4a50"/>
<circle cx="136.9" cy="364.35" r="1.55" fill="#e01414"/>
<path d="M140 362.75 L143.2 365.95 M140 365.95 L143.2 362.75" stroke="#3c3c3c" stroke-width="0.75" fill="none"/>
<path d="M310.7 365.45 L311.7 363.15 L312.7 365.45" stroke="#f0648c" stroke-width="0.55" fill="none"/>
<rect x="91.9" y="369.39" width="1.0" height="2.6" fill="#8cb4bf"/><rect x="91.45" y="371.84" width="1.9" height="1.35" fill="#3d4a50"/>
<path d="M132.8 369.89 L135.6 371.49 L132.8 373.09 Z" fill="#f28a26"/>
<circle cx="154.8" cy="371.49" r="1.55" fill="#e01414"/>
<path d="M195.4 369.89 L198.6 373.09 M195.4 373.09 L198.6 369.89" stroke="#3c3c3c" stroke-width="0.75" fill="none"/>
<path d="M326.9 372.59 L327.9 370.29 L328.9 372.59" stroke="#f0648c" stroke-width="0.55" fill="none"/>
<rect x="95.2" y="376.53" width="1.0" height="2.6" fill="#8cb4bf"/><rect x="94.75" y="378.98" width="1.9" height="1.35" fill="#3d4a50"/>
<path d="M178.3 377.03 L181.1 378.63 L178.3 380.23 Z" fill="#f28a26"/>
<path d="M204.6 377.03 L207.8 380.23 M204.6 380.23 L207.8 377.03" stroke="#3c3c3c" stroke-width="0.75" fill="none"/>
<path d="M251.6 379.73 L252.6 377.43 L253.6 379.73" stroke="#f0648c" stroke-width="0.55" fill="none"/>
<path d="M298.5 376.93 L300 378.63 L298.5 380.33 L297 378.63 Z" fill="#14148a"/>
<rect x="95.2" y="383.67" width="1.0" height="2.6" fill="#8cb4bf"/><rect x="94.75" y="386.12" width="1.9" height="1.35" fill="#3d4a50"/>
<path d="M130.6 384.17 L133.4 385.77 L130.6 387.37 Z" fill="#f28a26"/>
<path d="M224.8 384.17 L228 387.37 M224.8 387.37 L228 384.17" stroke="#3c3c3c" stroke-width="0.75" fill="none"/>
<path d="M270.6 386.87 L271.6 384.57 L272.6 386.87" stroke="#f0648c" stroke-width="0.55" fill="none"/>
<rect x="91.3" y="390.81" width="1.0" height="2.6" fill="#8cb4bf"/><rect x="90.85" y="393.26" width="1.9" height="1.35" fill="#3d4a50"/>
<path d="M145.9 391.31 L148.7 392.91 L145.9 394.51 Z" fill="#f28a26"/>
<path d="M184.9 391.31 L188.1 394.51 M184.9 394.51 L188.1 391.31" stroke="#3c3c3c" stroke-width="0.75" fill="none"/>
<path d="M298.6 394.01 L299.6 391.71 L300.6 394.01" stroke="#f0648c" stroke-width="0.55" fill="none"/>
<path d="M323.1 391.21 L324.6 392.91 L323.1 394.61 L321.6 392.91 Z" fill="#14148a"/>
<rect x="98.5" y="397.95" width="1.0" height="2.6" fill="#8cb4bf"/><rect x="98.05" y="400.4" width="1.9" height="1.35" fill="#3d4a50"/>
<path d="M140.4 398.45 L143.2 400.05 L140.4 401.65 Z" fill="#f28a26"/>
<path d="M142.2 398.45 L145.4 401.65 M142.2 401.65 L145.4 398.45" stroke="#3c3c3c" stroke-width="0.75" fill="none"/>
<path d="M296.9 401.15 L297.9 398.85 L298.9 401.15" stroke="#f0648c" stroke-width="0.55" fill="none"/>
<rect x="98.5" y="405.09" width="1.0" height="2.6" fill="#8cb4bf"/><rect x="98.05" y="407.54" width="1.9" height="1.35" fill="#3d4a50"/>
<path d="M137.6 405.59 L140.4 407.19 L137.6 408.79 Z" fill="#f28a26"/>
<path d="M193.7 405.59 L196.9 408.79 M193.7 408.79 L196.9 405.59" stroke="#3c3c3c" stroke-width="0.75" fill="none"/>
<path d="M287.5 408.29 L288.5 405.99 L289.5 408.29" stroke="#f0648c" stroke-width="0.55" fill="none"/>
<rect x="103.3" y="412.23" width="1.0" height="2.6" fill="#8cb4bf"/><rect x="102.85" y="414.68" width="1.9" height="1.35" fill="#3d4a50"/>
<path d="M149.2 412.73 L152 414.33 L149.2 415.93 Z" fill="#f28a26"/>
<path d="M191.7 415.43 L192.7 413.13 L193.7 415.43" stroke="#f0648c" stroke-width="0.55" fill="none"/>
<path d="M200.7 412.73 L203.9 415.93 M200.7 415.93 L203.9 412.73" stroke="#3c3c3c" stroke-width="0.75" fill="none"/>
<path d="M294.2 412.63 L295.7 414.33 L294.2 416.03 L292.7 414.33 Z" fill="#14148a"/>
<polygon points="368.4,412.43 368.87,413.68 370.21,413.74 369.16,414.58 369.52,415.87 368.4,415.13 367.28,415.87 367.64,414.58 366.59,413.74 367.93,413.68" fill="#222"/>
<rect x="91.5" y="419.37" width="1.0" height="2.6" fill="#8cb4bf"/><rect x="91.05" y="421.82" width="1.9" height="1.35" fill="#3d4a50"/>
<path d="M131.7 419.87 L134.5 421.47 L131.7 423.07 Z" fill="#f28a26"/>
<path d="M146 419.87 L149.2 423.07 M146 423.07 L149.2 419.87" stroke="#3c3c3c" stroke-width="0.75" fill="none"/>
<path d="M312.6 422.57 L313.6 420.27 L314.6 422.57" stroke="#f0648c" stroke-width="0.55" fill="none"/>
<rect x="92" y="426.51" width="1.0" height="2.6" fill="#8cb4bf"/><rect x="91.55" y="428.96" width="1.9" height="1.35" fill="#3d4a50"/>
<path d="M136.1 427.01 L138.9 428.61 L136.1 430.21 Z" fill="#f28a26"/>
<path d="M238.3 427.01 L241.5 430.21 M238.3 430.21 L241.5 427.01" stroke="#3c3c3c" stroke-width="0.75" fill="none"/>
<path d="M341.1 429.71 L342.1 427.41 L343.1 429.71" stroke="#f0648c" stroke-width="0.55" fill="none"/>
<rect x="97.4" y="433.65" width="1.0" height="2.6" fill="#8cb4bf"/><rect x="96.95" y="436.1" width="1.9" height="1.35" fill="#3d4a50"/>
<path d="M140.9 434.15 L143.7 435.75 L140.9 437.35 Z" fill="#f28a26"/>
<path d="M209.7 434.15 L212.9 437.35 M209.7 437.35 L212.9 434.15" stroke="#3c3c3c" stroke-width="0.75" fill="none"/>
<path d="M250.4 434.05 L251.9 435.75 L250.4 437.45 L248.9 435.75 Z" fill="#14148a"/>
<path d="M278.3 436.85 L279.3 434.55 L280.3 436.85" stroke="#f0648c" stroke-width="0.55" fill="none"/>
<rect x="97.4" y="440.79" width="1.0" height="2.6" fill="#8cb4bf"/><rect x="96.95" y="443.24" width="1.9" height="1.35" fill="#3d4a50"/>
<path d="M138.9 441.29 L141.7 442.89 L138.9 444.49 Z" fill="#f28a26"/>
<path d="M183.3 443.99 L184.3 441.69 L185.3 443.99" stroke="#f0648c" stroke-width="0.55" fill="none"/>
<path d="M204 441.29 L207.2 444.49 M204 444.49 L207.2 441.29" stroke="#3c3c3c" stroke-width="0.75" fill="none"/>
<rect x="93.4" y="447.93" width="1.0" height="2.6" fill="#8cb4bf"/><rect x="92.95" y="450.38" width="1.9" height="1.35" fill="#3d4a50"/>
<path d="M135.6 448.43 L138.4 450.03 L135.6 451.63 Z" fill="#f28a26"/>
<path d="M197.6 448.43 L200.8 451.63 M197.6 451.63 L200.8 448.43" stroke="#3c3c3c" stroke-width="0.75" fill="none"/>
<path d="M307.5 451.13 L308.5 448.83 L309.5 451.13" stroke="#f0648c" stroke-width="0.55" fill="none"/>
<path d="M307.3 448.33 L308.8 450.03 L307.3 451.73 L305.8 450.03 Z" fill="#14148a"/>
<polygon points="355.2,448.13 355.67,449.38 357.01,449.44 355.96,450.28 356.32,451.57 355.2,450.83 354.08,451.57 354.44,450.28 353.39,449.44 354.73,449.38" fill="#222"/>
<rect x="98.5" y="455.07" width="1.0" height="2.6" fill="#8cb4bf"/><rect x="98.05" y="457.52" width="1.9" height="1.35" fill="#3d4a50"/>
<path d="M142.6 455.57 L145.4 457.17 L142.6 458.77 Z" fill="#f28a26"/>
<path d="M198.5 455.57 L201.7 458.77 M198.5 458.77 L201.7 455.57" stroke="#3c3c3c" stroke-width="0.75" fill="none"/>
<path d="M328 458.27 L329 455.97 L330 458.27" stroke="#f0648c" stroke-width="0.55" fill="none"/>
<rect x="91.9" y="462.21" width="1.0" height="2.6" fill="#8cb4bf"/><rect x="91.45" y="464.66" width="1.9" height="1.35" fill="#3d4a50"/>
<path d="M135.6 462.71 L138.4 464.31 L135.6 465.91 Z" fill="#f28a26"/>
<path d="M204 462.71 L207.2 465.91 M204 465.91 L207.2 462.71" stroke="#3c3c3c" stroke-width="0.75" fill="none"/>
<path d="M329.1 465.41 L330.1 463.11 L331.1 465.41" stroke="#f0648c" stroke-width="0.55" fill="none"/>
<rect x="91.9" y="469.35" width="1.0" height="2.6" fill="#8cb4bf"/><rect x="91.45" y="471.8" width="1.9" height="1.35" fill="#3d4a50"/>
<path d="M134.5 469.85 L137.3 471.45 L134.5 473.05 Z" fill="#f28a26"/>
<path d="M188.7 469.85 L191.9 473.05 M188.7 473.05 L191.9 469.85" stroke="#3c3c3c" stroke-width="0.75" fill="none"/>
<path d="M324.7 472.55 L325.7 470.25 L326.7 472.55" stroke="#f0648c" stroke-width="0.55" fill="none"/>
<rect x="91.3" y="476.49" width="1.0" height="2.6" fill="#8cb4bf"/><rect x="90.85" y="478.94" width="1.9" height="1.35" fill="#3d4a50"/>
<path d="M177.2 476.99 L180 478.59 L177.2 480.19 Z" fill="#f28a26"/>
<path d="M213.8 476.99 L217 480.19 M213.8 480.19 L217 476.99" stroke="#3c3c3c" stroke-width="0.75" fill="none"/>
<path d="M308.4 476.89 L309.9 478.59 L308.4 480.29 L306.9 478.59 Z" fill="#14148a"/>
<path d="M309 479.69 L310 477.39 L311 479.69" stroke="#f0648c" stroke-width="0.55" fill="none"/>
<polygon points="345,476.69 345.47,477.94 346.81,478 345.76,478.84 346.12,480.13 345,479.39 343.88,480.13 344.24,478.84 343.19,478 344.53,477.94" fill="#222"/>
<rect x="93.2" y="483.63" width="1.0" height="2.6" fill="#8cb4bf"/><rect x="92.75" y="486.08" width="1.9" height="1.35" fill="#3d4a50"/>
<path d="M135.6 484.13 L138.4 485.73 L135.6 487.33 Z" fill="#f28a26"/>
<path d="M225.9 484.13 L229.1 487.33 M225.9 487.33 L229.1 484.13" stroke="#3c3c3c" stroke-width="0.75" fill="none"/>
<path d="M250.5 486.83 L251.5 484.53 L252.5 486.83" stroke="#f0648c" stroke-width="0.55" fill="none"/>
<path d="M280.4 484.03 L281.9 485.73 L280.4 487.43 L278.9 485.73 Z" fill="#14148a"/>
<rect x="94.5" y="490.77" width="1.0" height="2.6" fill="#8cb4bf"/><rect x="94.05" y="493.22" width="1.9" height="1.35" fill="#3d4a50"/>
<path d="M134.5 491.27 L137.3 492.87 L134.5 494.47 Z" fill="#f28a26"/>
<path d="M212.7 491.27 L215.9 494.47 M212.7 494.47 L215.9 491.27" stroke="#3c3c3c" stroke-width="0.75" fill="none"/>
<path d="M333.4 491.17 L334.9 492.87 L333.4 494.57 L331.9 492.87 Z" fill="#14148a"/>
<rect x="98.5" y="497.91" width="1.0" height="2.6" fill="#8cb4bf"/><rect x="98.05" y="500.36" width="1.9" height="1.35" fill="#3d4a50"/>
<path d="M160.8 498.41 L163.6 500.01 L160.8 501.61 Z" fill="#f28a26"/>
<path d="M235.6 498.41 L238.8 501.61 M235.6 501.61 L238.8 498.41" stroke="#3c3c3c" stroke-width="0.75" fill="none"/>
<path d="M338.9 501.11 L339.9 498.81 L340.9 501.11" stroke="#f0648c" stroke-width="0.55" fill="none"/>
<rect x="95.2" y="505.05" width="1.0" height="2.6" fill="#8cb4bf"/><rect x="94.75" y="507.5" width="1.9" height="1.35" fill="#3d4a50"/>
<path d="M155.1 505.55 L157.9 507.15 L155.1 508.75 Z" fill="#f28a26"/>
<path d="M213.8 505.55 L217 508.75 M213.8 508.75 L217 505.55" stroke="#3c3c3c" stroke-width="0.75" fill="none"/>
<path d="M331.9 508.25 L332.9 505.95 L333.9 508.25" stroke="#f0648c" stroke-width="0.55" fill="none"/>
<rect x="91.9" y="512.19" width="1.0" height="2.6" fill="#8cb4bf"/><rect x="91.45" y="514.64" width="1.9" height="1.35" fill="#3d4a50"/>
<path d="M132.8 512.69 L135.6 514.29 L132.8 515.89 Z" fill="#f28a26"/>
<path d="M176.8 515.39 L177.8 513.09 L178.8 515.39" stroke="#f0648c" stroke-width="0.55" fill="none"/>
<path d="M190.3 512.59 L191.8 514.29 L190.3 515.99 L188.8 514.29 Z" fill="#14148a"/>
<circle cx="296.8" cy="514.29" r="1.45" fill="#9a9a9a" stroke="#666" stroke-width="0.4"/><path d="M295.5 514.29 H298.1 M296.8 512.99 V515.59" stroke="#555" stroke-width="0.35"/>
<polygon points="336.6,512.39 337.07,513.64 338.41,513.7 337.36,514.54 337.72,515.83 336.6,515.09 335.48,515.83 335.84,514.54 334.79,513.7 336.13,513.64" fill="#222"/>
<rect x="98.5" y="519.33" width="1.0" height="2.6" fill="#8cb4bf"/><rect x="98.05" y="521.78" width="1.9" height="1.35" fill="#3d4a50"/>
<path d="M163 519.83 L165.8 521.43 L163 523.03 Z" fill="#f28a26"/>
<path d="M249.4 522.53 L250.4 520.23 L251.4 522.53" stroke="#f0648c" stroke-width="0.55" fill="none"/>
<circle cx="268.8" cy="521.43" r="1.45" fill="#9a9a9a" stroke="#666" stroke-width="0.4"/><path d="M267.5 521.43 H270.1 M268.8 520.13 V522.73" stroke="#555" stroke-width="0.35"/>
<polygon points="312.1,519.53 312.57,520.78 313.91,520.84 312.86,521.68 313.22,522.97 312.1,522.23 310.98,522.97 311.34,521.68 310.29,520.84 311.63,520.78" fill="#222"/>
<rect x="91.5" y="526.47" width="1.0" height="2.6" fill="#8cb4bf"/><rect x="91.05" y="528.92" width="1.9" height="1.35" fill="#3d4a50"/>
<path d="M156.2 526.97 L159 528.57 L156.2 530.17 Z" fill="#f28a26"/>
<circle cx="232.1" cy="528.57" r="1.45" fill="#9a9a9a" stroke="#666" stroke-width="0.4"/><path d="M230.8 528.57 H233.4 M232.1 527.27 V529.87" stroke="#555" stroke-width="0.35"/>
<path d="M250.4 526.87 L251.9 528.57 L250.4 530.27 L248.9 528.57 Z" fill="#14148a"/>
<polygon points="272.7,526.67 273.17,527.92 274.51,527.98 273.46,528.82 273.82,530.11 272.7,529.37 271.58,530.11 271.94,528.82 270.89,527.98 272.23,527.92" fill="#222"/>
<rect x="95.2" y="533.61" width="1.0" height="2.6" fill="#8cb4bf"/><rect x="94.75" y="536.06" width="1.9" height="1.35" fill="#3d4a50"/>
<path d="M136.7 534.11 L139.5 535.71 L136.7 537.31 Z" fill="#f28a26"/>
<circle cx="255.2" cy="535.71" r="1.45" fill="#9a9a9a" stroke="#666" stroke-width="0.4"/><path d="M253.9 535.71 H256.5 M255.2 534.41 V537.01" stroke="#555" stroke-width="0.35"/>
<path d="M299.1 536.81 L300.1 534.51 L301.1 536.81" stroke="#f0648c" stroke-width="0.55" fill="none"/>
<rect x="99.5" y="540.75" width="1.0" height="2.6" fill="#8cb4bf"/><rect x="99.05" y="543.2" width="1.9" height="1.35" fill="#3d4a50"/>
<path d="M147 541.25 L149.8 542.85 L147 544.45 Z" fill="#f28a26"/>
<circle cx="226.4" cy="542.85" r="1.45" fill="#9a9a9a" stroke="#666" stroke-width="0.4"/><path d="M225.1 542.85 H227.7 M226.4 541.55 V544.15" stroke="#555" stroke-width="0.35"/>
<path d="M319.5 543.95 L320.5 541.65 L321.5 543.95" stroke="#f0648c" stroke-width="0.55" fill="none"/>
<path d="M319.3 541.15 L320.8 542.85 L319.3 544.55 L317.8 542.85 Z" fill="#14148a"/>
<polygon points="369.7,540.95 370.17,542.2 371.51,542.26 370.46,543.1 370.82,544.39 369.7,543.65 368.58,544.39 368.94,543.1 367.89,542.26 369.23,542.2" fill="#222"/>
<rect x="101.3" y="547.89" width="1.0" height="2.6" fill="#8cb4bf"/><rect x="100.85" y="550.34" width="1.9" height="1.35" fill="#3d4a50"/>
<path d="M150.7 548.39 L153.5 549.99 L150.7 551.59 Z" fill="#f28a26"/>
<path d="M195.4 551.09 L196.4 548.79 L197.4 551.09" stroke="#f0648c" stroke-width="0.55" fill="none"/>
<circle cx="229.7" cy="549.99" r="1.45" fill="#9a9a9a" stroke="#666" stroke-width="0.4"/><path d="M228.4 549.99 H231 M229.7 548.69 V551.29" stroke="#555" stroke-width="0.35"/>
<path d="M296.8 548.29 L298.3 549.99 L296.8 551.69 L295.3 549.99 Z" fill="#14148a"/>
<polygon points="332.3,548.09 332.77,549.34 334.11,549.4 333.06,550.24 333.42,551.53 332.3,550.79 331.18,551.53 331.54,550.24 330.49,549.4 331.83,549.34" fill="#222"/>
<rect x="91.9" y="555.03" width="1.0" height="2.6" fill="#8cb4bf"/><rect x="91.45" y="557.48" width="1.9" height="1.35" fill="#3d4a50"/>
<path d="M132.8 555.53 L135.6 557.13 L132.8 558.73 Z" fill="#f28a26"/>
<circle cx="190.3" cy="557.13" r="1.45" fill="#9a9a9a" stroke="#666" stroke-width="0.4"/><path d="M189 557.13 H191.6 M190.3 555.83 V558.43" stroke="#555" stroke-width="0.35"/>
<circle cx="290.2" cy="557.13" r="1.55" fill="#e01414"/>
<path d="M324.7 558.23 L325.7 555.93 L326.7 558.23" stroke="#f0648c" stroke-width="0.55" fill="none"/>
<rect x="93" y="562.17" width="1.0" height="2.6" fill="#8cb4bf"/><rect x="92.55" y="564.62" width="1.9" height="1.35" fill="#3d4a50"/>
<path d="M135.6 562.67 L138.4 564.27 L135.6 565.87 Z" fill="#f28a26"/>
<circle cx="228.6" cy="564.27" r="1.45" fill="#9a9a9a" stroke="#666" stroke-width="0.4"/><path d="M227.3 564.27 H229.9 M228.6 562.97 V565.57" stroke="#555" stroke-width="0.35"/>
<path d="M290.9 562.57 L292.4 564.27 L290.9 565.97 L289.4 564.27 Z" fill="#14148a"/>
<path d="M335.9 565.37 L336.9 563.07 L337.9 565.37" stroke="#f0648c" stroke-width="0.55" fill="none"/>
<rect x="91.5" y="569.31" width="1.0" height="2.6" fill="#8cb4bf"/><rect x="91.05" y="571.76" width="1.9" height="1.35" fill="#3d4a50"/>
<path d="M131.7 569.81 L134.5 571.41 L131.7 573.01 Z" fill="#f28a26"/>
<circle cx="188.1" cy="571.41" r="1.45" fill="#9a9a9a" stroke="#666" stroke-width="0.4"/><path d="M186.8 571.41 H189.4 M188.1 570.11 V572.71" stroke="#555" stroke-width="0.35"/>
<path d="M324.2 572.51 L325.2 570.21 L326.2 572.51" stroke="#f0648c" stroke-width="0.55" fill="none"/>
<path d="M355.2 569.71 L356.7 571.41 L355.2 573.11 L353.7 571.41 Z" fill="#14148a"/>
<rect x="91" y="576.45" width="1.0" height="2.6" fill="#8cb4bf"/><rect x="90.55" y="578.9" width="1.9" height="1.35" fill="#3d4a50"/>
<path d="M142.6 576.95 L145.4 578.55 L142.6 580.15 Z" fill="#f28a26"/>
<path d="M199.8 579.65 L200.8 577.35 L201.8 579.65" stroke="#f0648c" stroke-width="0.55" fill="none"/>
<circle cx="229.2" cy="578.55" r="1.45" fill="#9a9a9a" stroke="#666" stroke-width="0.4"/><path d="M227.9 578.55 H230.5 M229.2 577.25 V579.85" stroke="#555" stroke-width="0.35"/>
<path d="M364.7 576.85 L366.2 578.55 L364.7 580.25 L363.2 578.55 Z" fill="#14148a"/>
<rect x="98.5" y="583.59" width="1.0" height="2.6" fill="#8cb4bf"/><rect x="98.05" y="586.04" width="1.9" height="1.35" fill="#3d4a50"/>
<path d="M137.6 584.09 L140.4 585.69 L137.6 587.29 Z" fill="#f28a26"/>
<circle cx="232.1" cy="585.69" r="1.45" fill="#9a9a9a" stroke="#666" stroke-width="0.4"/><path d="M230.8 585.69 H233.4 M232.1 584.39 V586.99" stroke="#555" stroke-width="0.35"/>
<circle cx="242" cy="585.69" r="1.45" fill="#9a9a9a" stroke="#666" stroke-width="0.4"/><path d="M240.7 585.69 H243.3 M242 584.39 V586.99" stroke="#555" stroke-width="0.35"/>
<path d="M268 586.79 L269 584.49 L270 586.79" stroke="#f0648c" stroke-width="0.55" fill="none"/>
<path d="M309.9 583.99 L311.4 585.69 L309.9 587.39 L308.4 585.69 Z" fill="#14148a"/>
<polygon points="333.4,583.79 333.87,585.04 335.21,585.1 334.16,585.94 334.52,587.23 333.4,586.49 332.28,587.23 332.64,585.94 331.59,585.1 332.93,585.04" fill="#222"/>
<rect x="98.5" y="590.73" width="1.0" height="2.6" fill="#8cb4bf"/><rect x="98.05" y="593.18" width="1.9" height="1.35" fill="#3d4a50"/>
<circle cx="197" cy="592.83" r="1.45" fill="#9a9a9a" stroke="#666" stroke-width="0.4"/><path d="M195.7 592.83 H198.3 M197 591.53 V594.13" stroke="#555" stroke-width="0.35"/>
<path d="M221.5 591.23 L224.3 592.83 L221.5 594.43 Z" fill="#f28a26"/>
<path d="M255.5 593.93 L256.5 591.63 L257.5 593.93" stroke="#f0648c" stroke-width="0.55" fill="none"/>
<path d="M255.2 591.13 L256.7 592.83 L255.2 594.53 L253.7 592.83 Z" fill="#14148a"/>
<polygon points="357.4,590.93 357.87,592.18 359.21,592.24 358.16,593.08 358.52,594.37 357.4,593.63 356.28,594.37 356.64,593.08 355.59,592.24 356.93,592.18" fill="#222"/>
<rect x="96.3" y="597.87" width="1.0" height="2.6" fill="#8cb4bf"/><rect x="95.85" y="600.32" width="1.9" height="1.35" fill="#3d4a50"/>
<circle cx="212.2" cy="599.97" r="1.45" fill="#9a9a9a" stroke="#666" stroke-width="0.4"/><path d="M210.9 599.97 H213.5 M212.2 598.67 V601.27" stroke="#555" stroke-width="0.35"/>
<path d="M231.3 598.37 L234.1 599.97 L231.3 601.57 Z" fill="#f28a26"/>
<path d="M245.2 598.37 L248 599.97 L245.2 601.57 Z" fill="#f28a26"/>
<path d="M300.5 598.27 L302 599.97 L300.5 601.67 L299 599.97 Z" fill="#14148a"/>
<path d="M303 601.07 L304 598.77 L305 601.07" stroke="#f0648c" stroke-width="0.55" fill="none"/>
<polygon points="367.5,598.07 367.97,599.32 369.31,599.38 368.26,600.22 368.62,601.51 367.5,600.77 366.38,601.51 366.74,600.22 365.69,599.38 367.03,599.32" fill="#222"/>
<rect x="95.2" y="605.01" width="1.0" height="2.6" fill="#8cb4bf"/><rect x="94.75" y="607.46" width="1.9" height="1.35" fill="#3d4a50"/>
<circle cx="195.3" cy="607.11" r="1.45" fill="#9a9a9a" stroke="#666" stroke-width="0.4"/><path d="M194 607.11 H196.6 M195.3 605.81 V608.41" stroke="#555" stroke-width="0.35"/>
<path d="M206.8 608.21 L207.8 605.91 L208.8 608.21" stroke="#f0648c" stroke-width="0.55" fill="none"/>
<path d="M335.1 605.41 L336.6 607.11 L335.1 608.81 L333.6 607.11 Z" fill="#14148a"/>
<rect x="94.1" y="612.15" width="1.0" height="2.6" fill="#8cb4bf"/><rect x="93.65" y="614.6" width="1.9" height="1.35" fill="#3d4a50"/>
<path d="M138.7 612.65 L141.5 614.25 L138.7 615.85 Z" fill="#f28a26"/>
<circle cx="179.3" cy="614.25" r="1.55" fill="#e01414"/>
<path d="M181.8 615.35 L182.8 613.05 L183.8 615.35" stroke="#f0648c" stroke-width="0.55" fill="none"/>
<rect x="91.9" y="619.29" width="1.0" height="2.6" fill="#8cb4bf"/><rect x="91.45" y="621.74" width="1.9" height="1.35" fill="#3d4a50"/>
<path d="M185 619.69 L186.5 621.39 L185 623.09 L183.5 621.39 Z" fill="#14148a"/>
<path d="M185 622.49 L186 620.19 L187 622.49" stroke="#f0648c" stroke-width="0.55" fill="none"/>
<polygon points="251.2,619.49 251.67,620.74 253.01,620.8 251.96,621.64 252.32,622.93 251.2,622.19 250.08,622.93 250.44,621.64 249.39,620.8 250.73,620.74" fill="#222"/>
<rect x="93" y="626.43" width="1.0" height="2.6" fill="#8cb4bf"/><rect x="92.55" y="628.88" width="1.9" height="1.35" fill="#3d4a50"/>
<path d="M112.8 629.63 L113.8 627.33 L114.8 629.63" stroke="#f0648c" stroke-width="0.55" fill="none"/>
<path d="M113.5 626.93 L116.3 628.53 L113.5 630.13 Z" fill="#f28a26"/>
<path d="M127.4 626.83 L128.9 628.53 L127.4 630.23 L125.9 628.53 Z" fill="#14148a"/>
<polygon points="329,626.63 329.47,627.88 330.81,627.94 329.76,628.78 330.12,630.07 329,629.33 327.88,630.07 328.24,628.78 327.19,627.94 328.53,627.88" fill="#222"/>
<rect x="91" y="633.57" width="1.0" height="2.6" fill="#8cb4bf"/><rect x="90.55" y="636.02" width="1.9" height="1.35" fill="#3d4a50"/>
<path d="M111.1 636.77 L112.1 634.47 L113.1 636.77" stroke="#f0648c" stroke-width="0.55" fill="none"/>
<path d="M414.4 633.97 L415.9 635.67 L414.4 637.37 L412.9 635.67 Z" fill="#14148a"/>
<rect x="91" y="640.71" width="1.0" height="2.6" fill="#8cb4bf"/><rect x="90.55" y="643.16" width="1.9" height="1.35" fill="#3d4a50"/>
<path d="M111.1 643.91 L112.1 641.61 L113.1 643.91" stroke="#f0648c" stroke-width="0.55" fill="none"/>
<path d="M118.7 641.11 L120.2 642.81 L118.7 644.51 L117.2 642.81 Z" fill="#14148a"/>
<polygon points="251.2,640.91 251.67,642.16 253.01,642.22 251.96,643.06 252.32,644.35 251.2,643.61 250.08,644.35 250.44,643.06 249.39,642.22 250.73,642.16" fill="#222"/>
<rect x="108.9" y="342.8" width="1.0" height="2.6" fill="#8cb4bf"/><rect x="108.45" y="345.25" width="1.9" height="1.35" fill="#3d4a50"/>
<text x="113.6" y="346.17" font-size="5" text-anchor="start" fill="#222" stroke="#222" stroke-width="0.14" >First dosage (day 1)</text>
<path d="M192.6 346.0 L194.0 342.6 L195.4 346.0" stroke="#f0507a" stroke-width="0.6" fill="none"/>
<text x="197.6" y="346.17" font-size="5" text-anchor="start" fill="#222" stroke="#222" stroke-width="0.14" >Last dosage (day 21)</text>
<rect x="283.9" y="342.7" width="5" height="5" fill="#b2e8f9" />
<text x="292.2" y="346.97" font-size="5" text-anchor="start" fill="#222" stroke="#222" stroke-width="0.14" >Induction therapy</text>
<path d="M107.6 350.9 L111.4 353.0 L107.6 355.1 Z" fill="#f28a26"/>
<text x="114.4" y="354.77" font-size="5" text-anchor="start" fill="#222" stroke="#222" stroke-width="0.14" >Partial reponse for the first time</text>
<circle cx="194.0" cy="353.0" r="2.0" fill="#e01414"/>
<text x="200.1" y="354.77" font-size="5" text-anchor="start" fill="#222" stroke="#222" stroke-width="0.14" >Complete reponse for the first time</text>
<path d="M286.1 351.0 L287.9 353.0 L286.1 355.0 L284.3 353.0 Z" fill="#14148a"/>
<text x="292.2" y="354.77" font-size="5" text-anchor="start" fill="#222" stroke="#222" stroke-width="0.14" >Progressive disease for the first time</text>
<path d="M406.0 475.6 L410.6 480.4 M406.0 480.4 L410.6 475.6" stroke="#555" stroke-width="0.5" fill="none"/>
<text x="416.6" y="479.85" font-size="5.2" text-anchor="start" fill="#222" stroke="#222" stroke-width="0.14" >Surgery</text>
<circle cx="408.4" cy="489.8" r="2.2" fill="none" stroke="#555" stroke-width="0.5"/><path d="M406.2 489.8 H410.6 M408.4 487.6 V492.0" stroke="#555" stroke-width="0.45"/>
<text x="416" y="491.65" font-size="5.2" text-anchor="start" fill="#222" stroke="#222" stroke-width="0.14" >Radiotherapy</text>
<polygon points="408.6,498.7 409.16,500.23 410.79,500.29 409.5,501.29 409.95,502.86 408.6,501.95 407.25,502.86 407.7,501.29 406.41,500.29 408.04,500.23" fill="#222"/>
<text x="416" y="502.85" font-size="5.2" text-anchor="start" fill="#222" stroke="#222" stroke-width="0.14" >Deceased</text>
<text x="21.2" y="682.68" font-size="5.85" text-anchor="start" fill="#111" font-weight="bold" stroke="#111" stroke-width="0.06" >Group</text>
<rect x="20.1" y="700.2" width="5.7" height="6.1" fill="#8a8a8a" />
<text x="27" y="705.02" font-size="5.4" text-anchor="start" fill="#222" stroke="#222" stroke-width="0.14" >Withdraw</text>
<rect x="20.1" y="706.4" width="5.7" height="6.1" fill="#3f9a8c" />
<text x="27" y="711.22" font-size="5.4" text-anchor="start" fill="#222" stroke="#222" stroke-width="0.14" >Radiotherapy</text>
<rect x="20.1" y="712.6" width="5.7" height="6.1" fill="#92140f" />
<text x="27" y="717.42" font-size="5.4" text-anchor="start" fill="#222" stroke="#222" stroke-width="0.14" >Surgery</text>
<text x="65.7" y="682.68" font-size="5.85" text-anchor="start" fill="#111" font-weight="bold" stroke="#111" stroke-width="0.06" >Age</text>
<rect x="64.8" y="700.2" width="5.7" height="6.1" fill="#5e6b45" />
<text x="71.7" y="705.02" font-size="5.4" text-anchor="start" fill="#222" stroke="#222" stroke-width="0.14" >&lt;65</text>
<rect x="64.8" y="706.4" width="5.7" height="6.1" fill="#f0a02c" />
<text x="71.7" y="711.22" font-size="5.4" text-anchor="start" fill="#222" stroke="#222" stroke-width="0.14" >&gt;=65</text>
<text x="90.9" y="682.68" font-size="5.85" text-anchor="start" fill="#111" font-weight="bold" stroke="#111" stroke-width="0.06" >Gender</text>
<rect x="90.2" y="700.2" width="5.7" height="6.1" fill="#e0c070" />
<text x="97.1" y="705.02" font-size="5.4" text-anchor="start" fill="#222" stroke="#222" stroke-width="0.14" >Female</text>
<rect x="90.2" y="706.4" width="5.7" height="6.1" fill="#284850" />
<text x="97.1" y="711.22" font-size="5.4" text-anchor="start" fill="#222" stroke="#222" stroke-width="0.14" >Male</text>
<text x="120" y="682.68" font-size="5.85" text-anchor="start" fill="#111" font-weight="bold" stroke="#111" stroke-width="0.06" >Smoke</text>
<rect x="119.3" y="700.2" width="5.7" height="6.1" fill="#4a80a8" />
<text x="126.2" y="705.02" font-size="5.4" text-anchor="start" fill="#222" stroke="#222" stroke-width="0.14" >No</text>
<rect x="119.3" y="706.4" width="5.7" height="6.1" fill="#f8c6f8" />
<text x="126.2" y="711.22" font-size="5.4" text-anchor="start" fill="#222" stroke="#222" stroke-width="0.14" >Yes</text>
<text x="145.1" y="683.08" font-size="5.85" text-anchor="start" fill="#111" font-weight="bold" stroke="#111" stroke-width="0.06" >T stage</text>
<rect x="144.2" y="700.4" width="5.7" height="6.1" fill="#9f55f5" />
<text x="151.1" y="705.22" font-size="5.4" text-anchor="start" fill="#222" stroke="#222" stroke-width="0.14" >T1</text>
<rect x="144.2" y="706.6" width="5.7" height="6.1" fill="#e85ccc" />
<text x="151.1" y="711.42" font-size="5.4" text-anchor="start" fill="#222" stroke="#222" stroke-width="0.14" >T2</text>
<rect x="144.2" y="712.8" width="5.7" height="6.1" fill="#f2ec3c" />
<text x="151.1" y="717.62" font-size="5.4" text-anchor="start" fill="#222" stroke="#222" stroke-width="0.14" >T3</text>
<rect x="144.2" y="719" width="5.7" height="6.1" fill="#52cdf5" />
<text x="151.1" y="723.82" font-size="5.4" text-anchor="start" fill="#222" stroke="#222" stroke-width="0.14" >T4</text>
<text x="169.9" y="683.08" font-size="5.85" text-anchor="start" fill="#111" font-weight="bold" stroke="#111" stroke-width="0.06" >N stage</text>
<rect x="169.2" y="700.4" width="5.7" height="6.1" fill="#9230f5" />
<text x="176.1" y="705.22" font-size="5.4" text-anchor="start" fill="#222" stroke="#222" stroke-width="0.14" >N0</text>
<rect x="169.2" y="706.6" width="5.7" height="6.1" fill="#5a8ff8" />
<text x="176.1" y="711.42" font-size="5.4" text-anchor="start" fill="#222" stroke="#222" stroke-width="0.14" >N1</text>
<rect x="169.2" y="712.8" width="5.7" height="6.1" fill="#e0907a" />
<text x="176.1" y="717.62" font-size="5.4" text-anchor="start" fill="#222" stroke="#222" stroke-width="0.14" >N2</text>
<rect x="169.2" y="719" width="5.7" height="6.1" fill="#f0267a" />
<text x="176.1" y="723.82" font-size="5.4" text-anchor="start" fill="#222" stroke="#222" stroke-width="0.14" >N3</text>
<text x="197.9" y="683.08" font-size="5.85" text-anchor="start" fill="#111" font-weight="bold" stroke="#111" stroke-width="0.06" >Clinical</text>
<text x="197.9" y="690.08" font-size="5.85" text-anchor="start" fill="#111" font-weight="bold" stroke="#111" stroke-width="0.06" >stage</text>
<rect x="198.9" y="700.4" width="5.7" height="6.1" fill="#c8307a" />
<text x="205.8" y="705.22" font-size="5.4" text-anchor="start" fill="#222" stroke="#222" stroke-width="0.14" >IA</text>
<rect x="198.9" y="706.6" width="5.7" height="6.1" fill="#f07a22" />
<text x="205.8" y="711.42" font-size="5.4" text-anchor="start" fill="#222" stroke="#222" stroke-width="0.14" >IIB</text>
<rect x="198.9" y="712.8" width="5.7" height="6.1" fill="#5ad8b8" />
<text x="205.8" y="717.62" font-size="5.4" text-anchor="start" fill="#222" stroke="#222" stroke-width="0.14" >IIIA</text>
<rect x="198.9" y="719" width="5.7" height="6.1" fill="#2a05f0" />
<text x="205.8" y="723.82" font-size="5.4" text-anchor="start" fill="#222" stroke="#222" stroke-width="0.14" >IIIB</text>
<rect x="198.9" y="725.2" width="5.7" height="6.1" fill="#1e3050" />
<text x="205.8" y="730.02" font-size="5.4" text-anchor="start" fill="#222" stroke="#222" stroke-width="0.14" >IIIC</text>
<text x="226" y="683.08" font-size="5.85" text-anchor="start" fill="#111" font-weight="bold" stroke="#111" stroke-width="0.06" >Bronchial</text>
<text x="226" y="690.08" font-size="5.85" text-anchor="start" fill="#111" font-weight="bold" stroke="#111" stroke-width="0.06" >neoplasm</text>
<rect x="225.3" y="700.4" width="5.7" height="6.1" fill="#8a5a98" />
<text x="232.2" y="705.22" font-size="5.4" text-anchor="start" fill="#222" stroke="#222" stroke-width="0.14" >Main</text>
<rect x="225.3" y="706.6" width="5.7" height="6.1" fill="#6a6a6a" />
<text x="232.2" y="711.42" font-size="5.4" text-anchor="start" fill="#222" stroke="#222" stroke-width="0.14" >Lobe</text>
<rect x="225.3" y="712.8" width="5.7" height="6.1" fill="#f2dcaa" />
<text x="232.2" y="717.62" font-size="5.4" text-anchor="start" fill="#222" stroke="#222" stroke-width="0.14" >Segment</text>
<rect x="225.3" y="719" width="5.7" height="6.1" fill="#3a9080" />
<text x="232.2" y="723.82" font-size="5.4" text-anchor="start" fill="#222" stroke="#222" stroke-width="0.14" >No</text>
<text x="261" y="683.08" font-size="5.85" text-anchor="start" fill="#111" font-weight="bold" stroke="#111" stroke-width="0.06" >Pathological</text>
<text x="261" y="690.08" font-size="5.85" text-anchor="start" fill="#111" font-weight="bold" stroke="#111" stroke-width="0.06" >response</text>
<rect x="261.5" y="700.4" width="5.7" height="6.1" fill="#ea4272" />
<text x="268.4" y="705.22" font-size="5.4" text-anchor="start" fill="#222" stroke="#222" stroke-width="0.14" >PCR</text>
<rect x="261.5" y="706.6" width="5.7" height="6.1" fill="#f2ec3c" />
<text x="268.4" y="711.42" font-size="5.4" text-anchor="start" fill="#222" stroke="#222" stroke-width="0.14" >MPR1%-10%</text>
<rect x="261.5" y="712.8" width="5.7" height="6.1" fill="#52cdf5" />
<text x="268.4" y="717.62" font-size="5.4" text-anchor="start" fill="#222" stroke="#222" stroke-width="0.14" >Non-MPR</text>
<rect x="261.5" y="719" width="5.7" height="6.1" fill="#9f55f5" />
<text x="268.4" y="723.82" font-size="5.4" text-anchor="start" fill="#222" stroke="#222" stroke-width="0.14" >Non-Surgery</text>
<text x="308.6" y="683.28" font-size="5.85" text-anchor="start" fill="#111" font-weight="bold" stroke="#111" stroke-width="0.06" >Response after</text>
<text x="308.6" y="690.28" font-size="5.85" text-anchor="start" fill="#111" font-weight="bold" stroke="#111" stroke-width="0.06" >induction</text>
<rect x="310.6" y="700.3" width="5.7" height="6.1" fill="#ea4272" />
<text x="317.5" y="705.12" font-size="5.4" text-anchor="start" fill="#222" stroke="#222" stroke-width="0.14" >CR</text>
<rect x="310.6" y="706.5" width="5.7" height="6.1" fill="#f0c860" />
<text x="317.5" y="711.32" font-size="5.4" text-anchor="start" fill="#222" stroke="#222" stroke-width="0.14" >PR</text>
<rect x="310.6" y="712.7" width="5.7" height="6.1" fill="#58f0a8" />
<text x="317.5" y="717.52" font-size="5.4" text-anchor="start" fill="#222" stroke="#222" stroke-width="0.14" >SD</text>
<rect x="310.6" y="718.9" width="5.7" height="6.1" fill="#3a88b0" />
<text x="317.5" y="723.72" font-size="5.4" text-anchor="start" fill="#222" stroke="#222" stroke-width="0.14" >PD</text>
<text x="359" y="683.28" font-size="5.85" text-anchor="start" fill="#111" font-weight="bold" stroke="#111" stroke-width="0.06" >Best radiological</text>
<text x="359" y="690.28" font-size="5.85" text-anchor="start" fill="#111" font-weight="bold" stroke="#111" stroke-width="0.06" >response</text>
<rect x="359.5" y="700.3" width="5.7" height="6.1" fill="#ea4272" />
<text x="366.4" y="705.12" font-size="5.4" text-anchor="start" fill="#222" stroke="#222" stroke-width="0.14" >CR</text>
<rect x="359.5" y="706.5" width="5.7" height="6.1" fill="#f0c860" />
<text x="366.4" y="711.32" font-size="5.4" text-anchor="start" fill="#222" stroke="#222" stroke-width="0.14" >PR</text>
<rect x="359.5" y="712.7" width="5.7" height="6.1" fill="#58f0a8" />
<text x="366.4" y="717.52" font-size="5.4" text-anchor="start" fill="#222" stroke="#222" stroke-width="0.14" >SD</text>
</svg>
</body></html>
